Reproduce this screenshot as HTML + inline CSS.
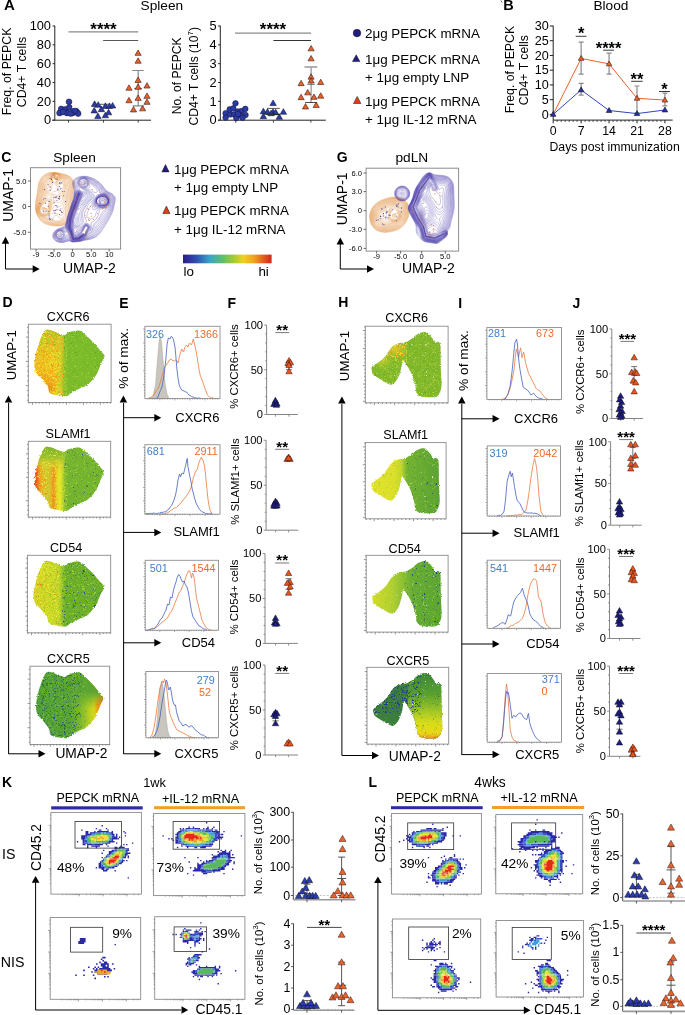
<!DOCTYPE html>
<html><head><meta charset="utf-8"><style>
html,body{margin:0;padding:0;background:#fff;}
svg{display:block;font-family:"Liberation Sans", sans-serif;will-change:transform;}
</style></head><body>
<svg width="685" height="1015" viewBox="0 0 685 1015">
<defs><linearGradient id="jet" x1="0" x2="1" y1="0" y2="0"><stop offset="0" stop-color="#2e1a8a"/><stop offset="0.15" stop-color="#2f4fb0"/><stop offset="0.3" stop-color="#3aa3c8"/><stop offset="0.45" stop-color="#5fbf6a"/><stop offset="0.58" stop-color="#a8cc30"/><stop offset="0.68" stop-color="#f0d21e"/><stop offset="0.8" stop-color="#f0a21e"/><stop offset="0.9" stop-color="#e8601e"/><stop offset="1" stop-color="#d42418"/></linearGradient><linearGradient id="lg1" gradientUnits="userSpaceOnUse" x1="34.0" y1="0.0" x2="105.0" y2="0.0"><stop offset="0.000" stop-color="#eebc20"/><stop offset="0.225" stop-color="#eccc20"/><stop offset="0.324" stop-color="#e4d424"/><stop offset="0.380" stop-color="#ccd028"/><stop offset="0.423" stop-color="#94c02a"/><stop offset="0.479" stop-color="#7cbc2c"/><stop offset="1.000" stop-color="#7aba2c"/></linearGradient><linearGradient id="la2" gradientUnits="userSpaceOnUse" x1="0.0" y1="330.0" x2="0.0" y2="396.0"><stop offset="0.000" stop-color="#b8c62a" stop-opacity="1"/><stop offset="0.250" stop-color="#d8c826" stop-opacity="0.8"/><stop offset="0.500" stop-color="#e0c826" stop-opacity="0"/><stop offset="1.000" stop-color="#e0c826" stop-opacity="0"/></linearGradient><radialGradient id="rg3" gradientUnits="userSpaceOnUse" cx="46.0" cy="382.0" r="13" gradientTransform="translate(46.0 382.0) scale(1 1.1538461538461537) translate(-46.0 -382.0)"><stop offset="0" stop-color="#ec7a1a" stop-opacity="0.55"/><stop offset="1" stop-color="#ec7a1a" stop-opacity="0"/></radialGradient><radialGradient id="rg4" gradientUnits="userSpaceOnUse" cx="50.0" cy="389.0" r="7" gradientTransform="translate(50.0 389.0) scale(1 0.8571428571428571) translate(-50.0 -389.0)"><stop offset="0" stop-color="#e65018" stop-opacity="0.55"/><stop offset="1" stop-color="#e65018" stop-opacity="0"/></radialGradient><clipPath id="cp5"><path d="M46.0 330.2C47.5 329.3 49.3 330.0 51.3 330.5C53.3 331.0 55.6 332.3 57.8 333.1C60.0 333.9 62.6 335.2 64.4 335.1C66.2 335.0 66.2 333.3 68.4 332.5C70.6 331.7 75.2 330.5 77.6 330.5C80.0 330.5 80.2 330.5 82.8 332.5C85.4 334.5 90.4 339.4 93.3 342.3C96.2 345.2 98.0 347.9 99.9 350.2C101.8 352.5 104.3 353.9 104.5 356.1C104.7 358.3 102.6 360.2 101.2 363.4C99.8 366.6 98.2 371.7 96.0 375.2C93.8 378.7 90.7 382.2 88.1 384.4C85.5 386.6 82.8 387.0 80.2 388.3C77.6 389.6 74.5 391.0 72.3 392.3C70.1 393.6 69.2 395.4 67.0 395.9C64.8 396.4 62.0 396.0 59.2 395.5C56.4 395.0 51.9 394.3 50.0 392.9C48.1 391.5 49.3 389.3 48.0 387.0C46.7 384.7 44.1 381.5 42.1 379.1C40.1 376.7 37.5 375.0 36.2 372.6C34.9 370.2 34.6 367.3 34.5 364.7C34.4 362.1 34.9 359.9 35.5 356.8C36.1 353.7 37.0 349.8 38.1 346.3C39.2 342.8 40.8 338.5 42.1 335.8C43.4 333.1 44.5 331.1 46.0 330.2Z"/></clipPath><filter id="rough" x="-5%" y="-5%" width="110%" height="110%"><feTurbulence type="fractalNoise" baseFrequency="0.9" numOctaves="1" seed="4" result="t"/><feDisplacementMap in="SourceGraphic" in2="t" scale="3" xChannelSelector="R" yChannelSelector="G"/></filter><filter id="sp6" x="0" y="0" width="1" height="1" filterUnits="objectBoundingBox"><feTurbulence type="fractalNoise" baseFrequency="0.9" numOctaves="2" seed="3" result="n"/><feColorMatrix in="n" type="matrix" values="0 0 0 0 0  0 0 0 0 0  0 0 0 0 0  8 0 0 0 -4.16" result="a"/><feComposite in="SourceGraphic" in2="a" operator="in"/></filter><filter id="sp7" x="0" y="0" width="1" height="1" filterUnits="objectBoundingBox"><feTurbulence type="fractalNoise" baseFrequency="0.9" numOctaves="2" seed="4" result="n"/><feColorMatrix in="n" type="matrix" values="0 0 0 0 0  0 0 0 0 0  0 0 0 0 0  8 0 0 0 -5.60" result="a"/><feComposite in="SourceGraphic" in2="a" operator="in"/></filter><filter id="sp8" x="0" y="0" width="1" height="1" filterUnits="objectBoundingBox"><feTurbulence type="fractalNoise" baseFrequency="0.9" numOctaves="2" seed="5" result="n"/><feColorMatrix in="n" type="matrix" values="0 0 0 0 0  0 0 0 0 0  0 0 0 0 0  8 0 0 0 -4.48" result="a"/><feComposite in="SourceGraphic" in2="a" operator="in"/></filter><filter id="sp9" x="0" y="0" width="1" height="1" filterUnits="objectBoundingBox"><feTurbulence type="fractalNoise" baseFrequency="0.9" numOctaves="2" seed="6" result="n"/><feColorMatrix in="n" type="matrix" values="0 0 0 0 0  0 0 0 0 0  0 0 0 0 0  8 0 0 0 -4.48" result="a"/><feComposite in="SourceGraphic" in2="a" operator="in"/></filter><filter id="sp10" x="0" y="0" width="1" height="1" filterUnits="objectBoundingBox"><feTurbulence type="fractalNoise" baseFrequency="0.9" numOctaves="2" seed="7" result="n"/><feColorMatrix in="n" type="matrix" values="0 0 0 0 0  0 0 0 0 0  0 0 0 0 0  8 0 0 0 -4.80" result="a"/><feComposite in="SourceGraphic" in2="a" operator="in"/></filter><filter id="sp11" x="0" y="0" width="1" height="1" filterUnits="objectBoundingBox"><feTurbulence type="fractalNoise" baseFrequency="0.9" numOctaves="2" seed="13" result="n"/><feColorMatrix in="n" type="matrix" values="0 0 0 0 0  0 0 0 0 0  0 0 0 0 0  8 0 0 0 -5.12" result="a"/><feComposite in="SourceGraphic" in2="a" operator="in"/></filter><filter id="sp12" x="0" y="0" width="1" height="1" filterUnits="objectBoundingBox"><feTurbulence type="fractalNoise" baseFrequency="0.9" numOctaves="2" seed="11" result="n"/><feColorMatrix in="n" type="matrix" values="0 0 0 0 0  0 0 0 0 0  0 0 0 0 0  8 0 0 0 -4.96" result="a"/><feComposite in="SourceGraphic" in2="a" operator="in"/></filter><filter id="sp13" x="0" y="0" width="1" height="1" filterUnits="objectBoundingBox"><feTurbulence type="fractalNoise" baseFrequency="1.1" numOctaves="2" seed="97" result="n"/><feColorMatrix in="n" type="matrix" values="0 0 0 0 0  0 0 0 0 0  0 0 0 0 0  8 0 0 0 -7.14" result="a"/><feComposite in="SourceGraphic" in2="a" operator="in"/></filter><linearGradient id="lg14" gradientUnits="userSpaceOnUse" x1="34.0" y1="0.0" x2="104.6" y2="0.0"><stop offset="0.000" stop-color="#e84010"/><stop offset="0.042" stop-color="#f06018"/><stop offset="0.085" stop-color="#f0a020"/><stop offset="0.141" stop-color="#d8c828"/><stop offset="0.197" stop-color="#c4cc2c"/><stop offset="0.239" stop-color="#e0b828"/><stop offset="0.282" stop-color="#ec9020"/><stop offset="0.324" stop-color="#e8d820"/><stop offset="0.366" stop-color="#e4ec28"/><stop offset="0.408" stop-color="#c0d82c"/><stop offset="0.444" stop-color="#80b82e"/><stop offset="0.507" stop-color="#74b42e"/><stop offset="1.000" stop-color="#74b42e"/></linearGradient><linearGradient id="la15" gradientUnits="userSpaceOnUse" x1="0.0" y1="445.0" x2="0.0" y2="472.1"><stop offset="0.000" stop-color="#76b02e" stop-opacity="1"/><stop offset="0.450" stop-color="#9cc22c" stop-opacity="1"/><stop offset="0.700" stop-color="#c8cc2a" stop-opacity="0.7"/><stop offset="1.000" stop-color="#e0c828" stop-opacity="0"/></linearGradient><clipPath id="cp16"><path d="M45.9 447.1C47.4 446.3 49.2 446.9 51.2 447.4C53.1 447.9 55.5 449.2 57.7 449.9C59.8 450.7 62.5 451.9 64.2 451.9C66.0 451.8 66.0 450.1 68.2 449.3C70.4 448.6 75.0 447.4 77.4 447.4C79.8 447.4 79.9 447.4 82.5 449.3C85.1 451.2 90.1 456.0 93.0 458.8C95.8 461.7 97.7 464.2 99.6 466.5C101.4 468.7 103.9 470.1 104.1 472.2C104.3 474.3 102.3 476.2 100.8 479.2C99.4 482.3 97.8 487.3 95.7 490.7C93.5 494.1 90.4 497.5 87.8 499.6C85.2 501.7 82.6 502.1 79.9 503.4C77.3 504.6 74.3 506.0 72.1 507.2C69.9 508.5 69.0 510.2 66.8 510.7C64.6 511.2 61.9 510.8 59.1 510.3C56.2 509.8 51.8 509.2 49.9 507.8C48.0 506.4 49.2 504.3 47.9 502.1C46.6 499.9 44.0 496.8 42.0 494.4C40.1 492.1 37.4 490.5 36.2 488.2C34.9 485.8 34.6 483.1 34.5 480.5C34.4 478.0 34.9 475.8 35.5 472.9C36.1 469.9 37.0 466.1 38.1 462.7C39.1 459.3 40.7 455.1 42.0 452.5C43.3 449.9 44.4 448.0 45.9 447.1Z"/></clipPath><filter id="sp17" x="0" y="0" width="1" height="1" filterUnits="objectBoundingBox"><feTurbulence type="fractalNoise" baseFrequency="0.9" numOctaves="2" seed="3" result="n"/><feColorMatrix in="n" type="matrix" values="0 0 0 0 0  0 0 0 0 0  0 0 0 0 0  8 0 0 0 -4.64" result="a"/><feComposite in="SourceGraphic" in2="a" operator="in"/></filter><filter id="sp18" x="0" y="0" width="1" height="1" filterUnits="objectBoundingBox"><feTurbulence type="fractalNoise" baseFrequency="0.9" numOctaves="2" seed="4" result="n"/><feColorMatrix in="n" type="matrix" values="0 0 0 0 0  0 0 0 0 0  0 0 0 0 0  8 0 0 0 -4.80" result="a"/><feComposite in="SourceGraphic" in2="a" operator="in"/></filter><filter id="sp19" x="0" y="0" width="1" height="1" filterUnits="objectBoundingBox"><feTurbulence type="fractalNoise" baseFrequency="0.9" numOctaves="2" seed="9" result="n"/><feColorMatrix in="n" type="matrix" values="0 0 0 0 0  0 0 0 0 0  0 0 0 0 0  8 0 0 0 -5.60" result="a"/><feComposite in="SourceGraphic" in2="a" operator="in"/></filter><filter id="sp20" x="0" y="0" width="1" height="1" filterUnits="objectBoundingBox"><feTurbulence type="fractalNoise" baseFrequency="0.9" numOctaves="2" seed="7" result="n"/><feColorMatrix in="n" type="matrix" values="0 0 0 0 0  0 0 0 0 0  0 0 0 0 0  8 0 0 0 -4.80" result="a"/><feComposite in="SourceGraphic" in2="a" operator="in"/></filter><filter id="sp21" x="0" y="0" width="1" height="1" filterUnits="objectBoundingBox"><feTurbulence type="fractalNoise" baseFrequency="0.9" numOctaves="2" seed="13" result="n"/><feColorMatrix in="n" type="matrix" values="0 0 0 0 0  0 0 0 0 0  0 0 0 0 0  8 0 0 0 -5.12" result="a"/><feComposite in="SourceGraphic" in2="a" operator="in"/></filter><filter id="sp22" x="0" y="0" width="1" height="1" filterUnits="objectBoundingBox"><feTurbulence type="fractalNoise" baseFrequency="0.9" numOctaves="2" seed="6" result="n"/><feColorMatrix in="n" type="matrix" values="0 0 0 0 0  0 0 0 0 0  0 0 0 0 0  8 0 0 0 -4.80" result="a"/><feComposite in="SourceGraphic" in2="a" operator="in"/></filter><filter id="sp23" x="0" y="0" width="1" height="1" filterUnits="objectBoundingBox"><feTurbulence type="fractalNoise" baseFrequency="0.9" numOctaves="2" seed="12" result="n"/><feColorMatrix in="n" type="matrix" values="0 0 0 0 0  0 0 0 0 0  0 0 0 0 0  8 0 0 0 -5.60" result="a"/><feComposite in="SourceGraphic" in2="a" operator="in"/></filter><filter id="sp24" x="0" y="0" width="1" height="1" filterUnits="objectBoundingBox"><feTurbulence type="fractalNoise" baseFrequency="1.1" numOctaves="2" seed="97" result="n"/><feColorMatrix in="n" type="matrix" values="0 0 0 0 0  0 0 0 0 0  0 0 0 0 0  8 0 0 0 -7.14" result="a"/><feComposite in="SourceGraphic" in2="a" operator="in"/></filter><linearGradient id="lg25" gradientUnits="userSpaceOnUse" x1="33.1" y1="0.0" x2="104.6" y2="0.0"><stop offset="0.000" stop-color="#d8d424"/><stop offset="0.225" stop-color="#cada24"/><stop offset="0.352" stop-color="#c0d82a"/><stop offset="0.408" stop-color="#94c42a"/><stop offset="0.451" stop-color="#6cb02c"/><stop offset="1.000" stop-color="#6cb02c"/></linearGradient><clipPath id="cp26"><path d="M45.2 561.2C46.7 560.4 48.6 561.1 50.5 561.5C52.5 562.0 54.9 563.4 57.1 564.1C59.3 564.9 61.9 566.2 63.7 566.1C65.5 566.0 65.5 564.3 67.7 563.5C70.0 562.8 74.6 561.5 77.0 561.5C79.4 561.5 79.6 561.6 82.2 563.5C84.9 565.5 89.9 570.3 92.8 573.2C95.7 576.1 97.6 578.8 99.4 581.0C101.3 583.3 103.8 584.7 104.1 586.9C104.3 589.1 102.2 590.9 100.7 594.1C99.3 597.3 97.7 602.3 95.5 605.8C93.3 609.2 90.2 612.7 87.6 614.9C84.9 617.0 82.3 617.4 79.6 618.7C77.0 620.0 73.9 621.5 71.7 622.7C69.5 624.0 68.5 625.7 66.3 626.3C64.1 626.8 61.3 626.4 58.5 625.9C55.6 625.4 51.1 624.7 49.2 623.3C47.4 621.9 48.5 619.7 47.2 617.5C45.9 615.2 43.3 612.0 41.3 609.6C39.3 607.3 36.6 605.6 35.3 603.2C34.1 600.8 33.8 598.0 33.6 595.4C33.5 592.8 34.0 590.6 34.6 587.6C35.2 584.5 36.2 580.6 37.3 577.2C38.4 573.7 40.0 569.4 41.3 566.8C42.6 564.1 43.7 562.1 45.2 561.2Z"/></clipPath><filter id="sp27" x="0" y="0" width="1" height="1" filterUnits="objectBoundingBox"><feTurbulence type="fractalNoise" baseFrequency="0.9" numOctaves="2" seed="3" result="n"/><feColorMatrix in="n" type="matrix" values="0 0 0 0 0  0 0 0 0 0  0 0 0 0 0  8 0 0 0 -5.12" result="a"/><feComposite in="SourceGraphic" in2="a" operator="in"/></filter><filter id="sp28" x="0" y="0" width="1" height="1" filterUnits="objectBoundingBox"><feTurbulence type="fractalNoise" baseFrequency="0.9" numOctaves="2" seed="5" result="n"/><feColorMatrix in="n" type="matrix" values="0 0 0 0 0  0 0 0 0 0  0 0 0 0 0  8 0 0 0 -4.48" result="a"/><feComposite in="SourceGraphic" in2="a" operator="in"/></filter><filter id="sp29" x="0" y="0" width="1" height="1" filterUnits="objectBoundingBox"><feTurbulence type="fractalNoise" baseFrequency="0.9" numOctaves="2" seed="4" result="n"/><feColorMatrix in="n" type="matrix" values="0 0 0 0 0  0 0 0 0 0  0 0 0 0 0  8 0 0 0 -4.64" result="a"/><feComposite in="SourceGraphic" in2="a" operator="in"/></filter><filter id="sp30" x="0" y="0" width="1" height="1" filterUnits="objectBoundingBox"><feTurbulence type="fractalNoise" baseFrequency="0.9" numOctaves="2" seed="9" result="n"/><feColorMatrix in="n" type="matrix" values="0 0 0 0 0  0 0 0 0 0  0 0 0 0 0  8 0 0 0 -5.12" result="a"/><feComposite in="SourceGraphic" in2="a" operator="in"/></filter><filter id="sp31" x="0" y="0" width="1" height="1" filterUnits="objectBoundingBox"><feTurbulence type="fractalNoise" baseFrequency="0.9" numOctaves="2" seed="7" result="n"/><feColorMatrix in="n" type="matrix" values="0 0 0 0 0  0 0 0 0 0  0 0 0 0 0  8 0 0 0 -4.80" result="a"/><feComposite in="SourceGraphic" in2="a" operator="in"/></filter><filter id="sp32" x="0" y="0" width="1" height="1" filterUnits="objectBoundingBox"><feTurbulence type="fractalNoise" baseFrequency="0.9" numOctaves="2" seed="13" result="n"/><feColorMatrix in="n" type="matrix" values="0 0 0 0 0  0 0 0 0 0  0 0 0 0 0  8 0 0 0 -4.96" result="a"/><feComposite in="SourceGraphic" in2="a" operator="in"/></filter><filter id="sp33" x="0" y="0" width="1" height="1" filterUnits="objectBoundingBox"><feTurbulence type="fractalNoise" baseFrequency="1.1" numOctaves="2" seed="97" result="n"/><feColorMatrix in="n" type="matrix" values="0 0 0 0 0  0 0 0 0 0  0 0 0 0 0  8 0 0 0 -7.14" result="a"/><feComposite in="SourceGraphic" in2="a" operator="in"/></filter><linearGradient id="lg34" gradientUnits="userSpaceOnUse" x1="35.5" y1="0.0" x2="103.8" y2="0.0"><stop offset="0.000" stop-color="#50a036"/><stop offset="0.507" stop-color="#58a432"/><stop offset="0.648" stop-color="#7cb82c"/><stop offset="0.789" stop-color="#b8d022"/><stop offset="0.873" stop-color="#dcdc1a"/><stop offset="0.944" stop-color="#e8c018"/><stop offset="1.000" stop-color="#f07014"/></linearGradient><linearGradient id="la35" gradientUnits="userSpaceOnUse" x1="0.0" y1="672.0" x2="0.0" y2="738.0"><stop offset="0.000" stop-color="#5aa432" stop-opacity="1"/><stop offset="0.300" stop-color="#5aa432" stop-opacity="1"/><stop offset="0.550" stop-color="#5aa432" stop-opacity="0"/><stop offset="1.000" stop-color="#5aa432" stop-opacity="0"/></linearGradient><radialGradient id="rg36" gradientUnits="userSpaceOnUse" cx="101.90326086956522" cy="708.0" r="9" gradientTransform="translate(101.90326086956522 708.0) scale(1 1.5555555555555556) translate(-101.90326086956522 -708.0)"><stop offset="0" stop-color="#f07014" stop-opacity="0.9"/><stop offset="1" stop-color="#f07014" stop-opacity="0"/></radialGradient><clipPath id="cp37"><path d="M47.0 672.2C48.5 671.3 50.2 672.0 52.1 672.5C54.0 673.0 56.3 674.3 58.4 675.1C60.5 675.9 63.0 677.2 64.7 677.1C66.4 677.0 66.5 675.3 68.6 674.5C70.7 673.7 75.1 672.5 77.5 672.5C79.8 672.5 79.9 672.5 82.5 674.5C85.0 676.5 89.8 681.4 92.6 684.3C95.3 687.3 97.1 689.9 98.9 692.2C100.7 694.5 103.1 695.9 103.3 698.1C103.6 700.3 101.5 702.2 100.2 705.4C98.8 708.6 97.3 713.7 95.2 717.2C93.1 720.7 90.1 724.2 87.6 726.4C85.0 728.6 82.5 729.0 80.0 730.3C77.4 731.6 74.5 733.0 72.4 734.3C70.2 735.6 69.4 737.4 67.3 737.9C65.1 738.4 62.5 738.0 59.7 737.5C57.0 737.0 52.7 736.3 50.9 734.9C49.1 733.5 50.2 731.3 49.0 729.0C47.7 726.7 45.2 723.5 43.3 721.1C41.4 718.7 38.8 717.0 37.6 714.6C36.4 712.2 36.1 709.3 36.0 706.7C35.9 704.1 36.4 701.9 36.9 698.8C37.5 695.7 38.4 691.8 39.4 688.3C40.5 684.8 42.0 680.5 43.3 677.8C44.6 675.1 45.6 673.1 47.0 672.2Z"/></clipPath><filter id="sp38" x="0" y="0" width="1" height="1" filterUnits="objectBoundingBox"><feTurbulence type="fractalNoise" baseFrequency="0.9" numOctaves="2" seed="3" result="n"/><feColorMatrix in="n" type="matrix" values="0 0 0 0 0  0 0 0 0 0  0 0 0 0 0  8 0 0 0 -5.12" result="a"/><feComposite in="SourceGraphic" in2="a" operator="in"/></filter><filter id="sp39" x="0" y="0" width="1" height="1" filterUnits="objectBoundingBox"><feTurbulence type="fractalNoise" baseFrequency="0.9" numOctaves="2" seed="5" result="n"/><feColorMatrix in="n" type="matrix" values="0 0 0 0 0  0 0 0 0 0  0 0 0 0 0  8 0 0 0 -4.64" result="a"/><feComposite in="SourceGraphic" in2="a" operator="in"/></filter><filter id="sp40" x="0" y="0" width="1" height="1" filterUnits="objectBoundingBox"><feTurbulence type="fractalNoise" baseFrequency="0.9" numOctaves="2" seed="6" result="n"/><feColorMatrix in="n" type="matrix" values="0 0 0 0 0  0 0 0 0 0  0 0 0 0 0  8 0 0 0 -4.80" result="a"/><feComposite in="SourceGraphic" in2="a" operator="in"/></filter><filter id="sp41" x="0" y="0" width="1" height="1" filterUnits="objectBoundingBox"><feTurbulence type="fractalNoise" baseFrequency="0.9" numOctaves="2" seed="8" result="n"/><feColorMatrix in="n" type="matrix" values="0 0 0 0 0  0 0 0 0 0  0 0 0 0 0  8 0 0 0 -5.44" result="a"/><feComposite in="SourceGraphic" in2="a" operator="in"/></filter><filter id="sp42" x="0" y="0" width="1" height="1" filterUnits="objectBoundingBox"><feTurbulence type="fractalNoise" baseFrequency="1.1" numOctaves="2" seed="97" result="n"/><feColorMatrix in="n" type="matrix" values="0 0 0 0 0  0 0 0 0 0  0 0 0 0 0  8 0 0 0 -7.14" result="a"/><feComposite in="SourceGraphic" in2="a" operator="in"/></filter><radialGradient id="rg43" gradientUnits="userSpaceOnUse" cx="395.0" cy="349.0" r="13" gradientTransform="translate(395.0 349.0) scale(1 0.6923076923076923) translate(-395.0 -349.0)"><stop offset="0" stop-color="#ecc824" stop-opacity="1.0"/><stop offset="1" stop-color="#ecc824" stop-opacity="0"/></radialGradient><radialGradient id="rg44" gradientUnits="userSpaceOnUse" cx="383.0" cy="362.0" r="9"><stop offset="0" stop-color="#c8d028" stop-opacity="0.7"/><stop offset="1" stop-color="#c8d028" stop-opacity="0"/></radialGradient><clipPath id="cp45"><path d="M372.0 367.0C373.0 365.7 376.4 363.9 378.0 362.7C379.6 361.5 380.4 361.1 381.7 360.0C383.0 358.9 384.1 357.9 385.7 356.0C387.2 354.1 389.4 350.1 391.0 348.3C392.6 346.5 393.5 345.9 395.0 345.0C396.5 344.1 398.3 343.4 400.0 343.0C401.7 342.6 403.5 342.9 405.0 342.5C406.5 342.1 407.7 341.3 409.0 340.5C410.3 339.7 411.7 338.8 413.0 337.8C414.3 336.8 415.8 335.3 417.0 334.5C418.2 333.7 418.8 333.4 420.0 333.0C421.2 332.6 422.7 331.9 424.0 331.9C425.3 331.9 426.5 332.0 428.0 333.2C429.5 334.4 431.7 337.5 433.0 339.1C434.3 340.7 434.9 342.6 435.6 343.0C436.4 343.4 436.7 341.5 437.5 341.7C438.3 341.9 439.7 342.1 440.2 344.3C440.7 346.5 440.5 350.9 440.6 354.8C440.7 358.8 440.7 362.9 440.8 368.0C440.9 373.1 441.7 380.9 441.5 385.1C441.3 389.3 440.5 391.0 439.5 393.0C438.5 395.0 438.2 396.2 435.6 396.9C433.0 397.5 426.9 397.3 423.8 396.9C420.7 396.5 418.6 396.3 417.2 394.3C415.8 392.3 416.1 388.4 415.2 385.1C414.3 381.8 413.1 377.6 411.9 374.6C410.7 371.6 409.2 369.1 408.0 367.0C406.8 364.9 405.4 363.2 404.5 362.0C403.6 360.8 403.2 359.2 402.7 360.0C402.2 360.8 401.8 364.7 401.4 366.7C401.0 368.7 400.8 369.9 400.1 371.9C399.5 373.9 398.8 376.4 397.5 378.5C396.2 380.6 394.2 383.8 392.2 384.4C390.2 385.0 387.9 383.4 385.7 382.4C383.5 381.4 381.2 379.8 379.1 378.5C377.0 377.2 374.4 375.9 373.2 374.6C372.0 373.3 372.1 371.9 371.9 370.6C371.7 369.3 371.0 368.3 372.0 367.0Z"/></clipPath><filter id="sp46" x="0" y="0" width="1" height="1" filterUnits="objectBoundingBox"><feTurbulence type="fractalNoise" baseFrequency="0.9" numOctaves="2" seed="3" result="n"/><feColorMatrix in="n" type="matrix" values="0 0 0 0 0  0 0 0 0 0  0 0 0 0 0  8 0 0 0 -4.64" result="a"/><feComposite in="SourceGraphic" in2="a" operator="in"/></filter><filter id="sp47" x="0" y="0" width="1" height="1" filterUnits="objectBoundingBox"><feTurbulence type="fractalNoise" baseFrequency="0.9" numOctaves="2" seed="13" result="n"/><feColorMatrix in="n" type="matrix" values="0 0 0 0 0  0 0 0 0 0  0 0 0 0 0  8 0 0 0 -4.96" result="a"/><feComposite in="SourceGraphic" in2="a" operator="in"/></filter><filter id="sp48" x="0" y="0" width="1" height="1" filterUnits="objectBoundingBox"><feTurbulence type="fractalNoise" baseFrequency="0.9" numOctaves="2" seed="14" result="n"/><feColorMatrix in="n" type="matrix" values="0 0 0 0 0  0 0 0 0 0  0 0 0 0 0  8 0 0 0 -5.12" result="a"/><feComposite in="SourceGraphic" in2="a" operator="in"/></filter><filter id="sp49" x="0" y="0" width="1" height="1" filterUnits="objectBoundingBox"><feTurbulence type="fractalNoise" baseFrequency="0.9" numOctaves="2" seed="15" result="n"/><feColorMatrix in="n" type="matrix" values="0 0 0 0 0  0 0 0 0 0  0 0 0 0 0  8 0 0 0 -4.48" result="a"/><feComposite in="SourceGraphic" in2="a" operator="in"/></filter><filter id="sp50" x="0" y="0" width="1" height="1" filterUnits="objectBoundingBox"><feTurbulence type="fractalNoise" baseFrequency="0.9" numOctaves="2" seed="5" result="n"/><feColorMatrix in="n" type="matrix" values="0 0 0 0 0  0 0 0 0 0  0 0 0 0 0  8 0 0 0 -4.80" result="a"/><feComposite in="SourceGraphic" in2="a" operator="in"/></filter><filter id="sp51" x="0" y="0" width="1" height="1" filterUnits="objectBoundingBox"><feTurbulence type="fractalNoise" baseFrequency="0.9" numOctaves="2" seed="6" result="n"/><feColorMatrix in="n" type="matrix" values="0 0 0 0 0  0 0 0 0 0  0 0 0 0 0  8 0 0 0 -5.76" result="a"/><feComposite in="SourceGraphic" in2="a" operator="in"/></filter><filter id="sp52" x="0" y="0" width="1" height="1" filterUnits="objectBoundingBox"><feTurbulence type="fractalNoise" baseFrequency="0.9" numOctaves="2" seed="9" result="n"/><feColorMatrix in="n" type="matrix" values="0 0 0 0 0  0 0 0 0 0  0 0 0 0 0  8 0 0 0 -7.20" result="a"/><feComposite in="SourceGraphic" in2="a" operator="in"/></filter><filter id="sp53" x="0" y="0" width="1" height="1" filterUnits="objectBoundingBox"><feTurbulence type="fractalNoise" baseFrequency="0.9" numOctaves="2" seed="4" result="n"/><feColorMatrix in="n" type="matrix" values="0 0 0 0 0  0 0 0 0 0  0 0 0 0 0  8 0 0 0 -5.28" result="a"/><feComposite in="SourceGraphic" in2="a" operator="in"/></filter><filter id="sp54" x="0" y="0" width="1" height="1" filterUnits="objectBoundingBox"><feTurbulence type="fractalNoise" baseFrequency="1.1" numOctaves="2" seed="97" result="n"/><feColorMatrix in="n" type="matrix" values="0 0 0 0 0  0 0 0 0 0  0 0 0 0 0  8 0 0 0 -5.84" result="a"/><feComposite in="SourceGraphic" in2="a" operator="in"/></filter><linearGradient id="lg55" gradientUnits="userSpaceOnUse" x1="369.9" y1="0.0" x2="439.2" y2="0.0"><stop offset="0.000" stop-color="#e4e22c"/><stop offset="0.352" stop-color="#dce02a"/><stop offset="0.451" stop-color="#c4d82a"/><stop offset="0.535" stop-color="#72b230"/><stop offset="1.000" stop-color="#5aa232"/></linearGradient><clipPath id="cp56"><path d="M371.8 483.2C372.8 481.9 376.1 480.1 377.7 478.9C379.3 477.7 380.1 477.3 381.3 476.2C382.6 475.1 383.7 474.2 385.2 472.2C386.7 470.3 388.9 466.4 390.4 464.6C391.9 462.8 392.8 462.2 394.3 461.3C395.7 460.4 397.5 459.7 399.2 459.3C400.8 458.9 402.6 459.2 404.0 458.8C405.5 458.4 406.6 457.6 407.9 456.8C409.2 456.0 410.5 455.1 411.8 454.1C413.1 453.1 414.6 451.7 415.8 450.9C416.9 450.1 417.5 449.8 418.7 449.4C419.8 448.9 421.3 448.2 422.6 448.3C423.9 448.3 425.0 448.4 426.5 449.6C427.9 450.8 430.1 453.8 431.4 455.4C432.6 457.1 433.2 458.9 433.9 459.3C434.6 459.7 435.0 457.8 435.8 458.0C436.5 458.2 437.9 458.4 438.4 460.6C438.9 462.8 438.7 467.1 438.8 471.1C438.9 475.0 438.8 479.2 439.0 484.2C439.1 489.2 439.9 497.0 439.7 501.2C439.4 505.3 438.7 507.1 437.7 509.1C436.7 511.0 436.5 512.3 433.9 512.9C431.3 513.6 425.4 513.4 422.4 512.9C419.4 512.5 417.3 512.3 415.9 510.3C414.5 508.4 414.9 504.5 414.0 501.2C413.1 497.9 411.9 493.7 410.8 490.7C409.6 487.7 408.2 485.3 407.0 483.2C405.8 481.1 404.4 479.4 403.6 478.2C402.7 477.1 402.3 475.4 401.8 476.2C401.3 477.0 401.0 480.9 400.5 482.9C400.1 484.9 399.9 486.1 399.3 488.1C398.6 490.0 398.0 492.6 396.7 494.6C395.4 496.7 393.5 499.8 391.6 500.5C389.6 501.1 387.3 499.5 385.2 498.5C383.1 497.5 380.8 495.9 378.8 494.6C376.7 493.3 374.2 492.1 373.0 490.7C371.8 489.4 371.9 488.0 371.7 486.8C371.5 485.5 370.8 484.5 371.8 483.2Z"/></clipPath><filter id="sp57" x="0" y="0" width="1" height="1" filterUnits="objectBoundingBox"><feTurbulence type="fractalNoise" baseFrequency="0.9" numOctaves="2" seed="3" result="n"/><feColorMatrix in="n" type="matrix" values="0 0 0 0 0  0 0 0 0 0  0 0 0 0 0  8 0 0 0 -5.92" result="a"/><feComposite in="SourceGraphic" in2="a" operator="in"/></filter><filter id="sp58" x="0" y="0" width="1" height="1" filterUnits="objectBoundingBox"><feTurbulence type="fractalNoise" baseFrequency="0.9" numOctaves="2" seed="9" result="n"/><feColorMatrix in="n" type="matrix" values="0 0 0 0 0  0 0 0 0 0  0 0 0 0 0  8 0 0 0 -5.60" result="a"/><feComposite in="SourceGraphic" in2="a" operator="in"/></filter><filter id="sp59" x="0" y="0" width="1" height="1" filterUnits="objectBoundingBox"><feTurbulence type="fractalNoise" baseFrequency="0.9" numOctaves="2" seed="7" result="n"/><feColorMatrix in="n" type="matrix" values="0 0 0 0 0  0 0 0 0 0  0 0 0 0 0  8 0 0 0 -5.12" result="a"/><feComposite in="SourceGraphic" in2="a" operator="in"/></filter><filter id="sp60" x="0" y="0" width="1" height="1" filterUnits="objectBoundingBox"><feTurbulence type="fractalNoise" baseFrequency="0.9" numOctaves="2" seed="5" result="n"/><feColorMatrix in="n" type="matrix" values="0 0 0 0 0  0 0 0 0 0  0 0 0 0 0  8 0 0 0 -4.96" result="a"/><feComposite in="SourceGraphic" in2="a" operator="in"/></filter><filter id="sp61" x="0" y="0" width="1" height="1" filterUnits="objectBoundingBox"><feTurbulence type="fractalNoise" baseFrequency="1.1" numOctaves="2" seed="97" result="n"/><feColorMatrix in="n" type="matrix" values="0 0 0 0 0  0 0 0 0 0  0 0 0 0 0  8 0 0 0 -5.84" result="a"/><feComposite in="SourceGraphic" in2="a" operator="in"/></filter><linearGradient id="lg62" gradientUnits="userSpaceOnUse" x1="370.8" y1="0.0" x2="441.1" y2="0.0"><stop offset="0.000" stop-color="#d4dc2c"/><stop offset="0.310" stop-color="#b0d030"/><stop offset="0.479" stop-color="#84bc30"/><stop offset="0.592" stop-color="#66ac30"/><stop offset="1.000" stop-color="#5aa630"/></linearGradient><clipPath id="cp63"><path d="M372.8 596.2C373.8 594.9 377.2 593.1 378.8 591.9C380.4 590.7 381.2 590.3 382.4 589.2C383.7 588.1 384.8 587.1 386.4 585.2C387.9 583.2 390.1 579.3 391.6 577.5C393.2 575.6 394.1 575.0 395.6 574.1C397.1 573.3 398.9 572.6 400.5 572.1C402.2 571.7 404.0 572.1 405.5 571.6C407.0 571.2 408.1 570.4 409.4 569.6C410.7 568.9 412.1 567.9 413.4 566.9C414.7 565.9 416.2 564.4 417.3 563.6C418.5 562.8 419.2 562.6 420.3 562.1C421.5 561.7 422.9 561.0 424.3 561.0C425.6 561.0 426.7 561.1 428.2 562.3C429.7 563.5 431.9 566.6 433.2 568.2C434.4 569.9 435.0 571.7 435.7 572.1C436.5 572.6 436.9 570.6 437.6 570.8C438.4 571.1 439.8 571.3 440.3 573.4C440.8 575.6 440.6 580.0 440.7 584.0C440.8 587.9 440.7 592.1 440.9 597.2C441.0 602.3 441.8 610.2 441.6 614.4C441.4 618.5 440.6 620.3 439.6 622.3C438.6 624.2 438.3 625.5 435.7 626.2C433.1 626.8 427.1 626.6 424.1 626.2C421.0 625.8 419.0 625.5 417.5 623.6C416.1 621.6 416.4 617.6 415.6 614.4C414.7 611.1 413.5 606.9 412.3 603.8C411.1 600.8 409.7 598.3 408.4 596.2C407.2 594.1 405.8 592.4 405.0 591.2C404.1 590.0 403.7 588.4 403.2 589.2C402.7 590.0 402.3 593.9 401.9 595.9C401.5 597.9 401.3 599.1 400.6 601.1C400.0 603.1 399.4 605.6 398.1 607.7C396.7 609.8 394.8 613.0 392.8 613.7C390.9 614.3 388.5 612.6 386.4 611.6C384.2 610.7 381.9 609.0 379.9 607.7C377.8 606.4 375.2 605.1 374.0 603.8C372.8 602.5 372.9 601.1 372.7 599.8C372.5 598.5 371.8 597.5 372.8 596.2Z"/></clipPath><filter id="sp64" x="0" y="0" width="1" height="1" filterUnits="objectBoundingBox"><feTurbulence type="fractalNoise" baseFrequency="0.9" numOctaves="2" seed="9" result="n"/><feColorMatrix in="n" type="matrix" values="0 0 0 0 0  0 0 0 0 0  0 0 0 0 0  8 0 0 0 -5.28" result="a"/><feComposite in="SourceGraphic" in2="a" operator="in"/></filter><filter id="sp65" x="0" y="0" width="1" height="1" filterUnits="objectBoundingBox"><feTurbulence type="fractalNoise" baseFrequency="0.9" numOctaves="2" seed="7" result="n"/><feColorMatrix in="n" type="matrix" values="0 0 0 0 0  0 0 0 0 0  0 0 0 0 0  8 0 0 0 -5.12" result="a"/><feComposite in="SourceGraphic" in2="a" operator="in"/></filter><filter id="sp66" x="0" y="0" width="1" height="1" filterUnits="objectBoundingBox"><feTurbulence type="fractalNoise" baseFrequency="0.9" numOctaves="2" seed="5" result="n"/><feColorMatrix in="n" type="matrix" values="0 0 0 0 0  0 0 0 0 0  0 0 0 0 0  8 0 0 0 -5.60" result="a"/><feComposite in="SourceGraphic" in2="a" operator="in"/></filter><filter id="sp67" x="0" y="0" width="1" height="1" filterUnits="objectBoundingBox"><feTurbulence type="fractalNoise" baseFrequency="1.1" numOctaves="2" seed="97" result="n"/><feColorMatrix in="n" type="matrix" values="0 0 0 0 0  0 0 0 0 0  0 0 0 0 0  8 0 0 0 -5.84" result="a"/><feComposite in="SourceGraphic" in2="a" operator="in"/></filter><linearGradient id="lg68" gradientUnits="userSpaceOnUse" x1="0.0" y1="675.1" x2="0.0" y2="738.3"><stop offset="0.000" stop-color="#3e8a34"/><stop offset="0.300" stop-color="#58a02e"/><stop offset="0.550" stop-color="#9cc426"/><stop offset="0.750" stop-color="#d8dc1a"/><stop offset="0.920" stop-color="#e8d814"/><stop offset="1.000" stop-color="#f09014"/></linearGradient><clipPath id="cp69"><path d="M373.6 708.2C374.6 706.9 377.9 705.1 379.5 703.9C381.1 702.7 381.9 702.3 383.2 701.2C384.4 700.1 385.6 699.1 387.1 697.2C388.7 695.2 390.8 691.3 392.4 689.5C393.9 687.6 394.8 687.0 396.3 686.1C397.8 685.3 399.6 684.6 401.2 684.1C402.9 683.7 404.7 684.1 406.2 683.6C407.7 683.2 408.8 682.4 410.1 681.6C411.4 680.9 412.8 679.9 414.1 678.9C415.4 677.9 416.9 676.4 418.0 675.6C419.2 674.8 419.8 674.6 421.0 674.1C422.1 673.7 423.6 673.0 424.9 673.0C426.2 673.0 427.4 673.1 428.9 674.3C430.3 675.5 432.6 678.6 433.8 680.2C435.1 681.9 435.6 683.7 436.4 684.1C437.1 684.6 437.5 682.6 438.2 682.8C439.0 683.1 440.4 683.3 440.9 685.4C441.4 687.6 441.2 692.0 441.3 696.0C441.4 699.9 441.3 704.1 441.5 709.2C441.6 714.3 442.4 722.2 442.2 726.4C442.0 730.5 441.2 732.3 440.2 734.3C439.2 736.2 438.9 737.5 436.4 738.2C433.8 738.8 427.7 738.6 424.7 738.2C421.7 737.8 419.6 737.5 418.2 735.6C416.8 733.6 417.1 729.6 416.2 726.4C415.4 723.1 414.2 718.9 413.0 715.8C411.8 712.8 410.3 710.3 409.1 708.2C407.9 706.1 406.6 704.4 405.7 703.2C404.8 702.0 404.4 700.4 403.9 701.2C403.4 702.0 403.0 705.9 402.6 707.9C402.2 709.9 402.0 711.1 401.3 713.1C400.7 715.1 400.1 717.6 398.8 719.7C397.5 721.8 395.5 725.0 393.5 725.7C391.6 726.3 389.3 724.6 387.1 723.6C385.0 722.7 382.7 721.0 380.6 719.7C378.6 718.4 376.0 717.1 374.8 715.8C373.6 714.5 373.7 713.1 373.5 711.8C373.3 710.5 372.6 709.5 373.6 708.2Z"/></clipPath><filter id="sp70" x="0" y="0" width="1" height="1" filterUnits="objectBoundingBox"><feTurbulence type="fractalNoise" baseFrequency="0.9" numOctaves="2" seed="3" result="n"/><feColorMatrix in="n" type="matrix" values="0 0 0 0 0  0 0 0 0 0  0 0 0 0 0  8 0 0 0 -4.40" result="a"/><feComposite in="SourceGraphic" in2="a" operator="in"/></filter><filter id="sp71" x="0" y="0" width="1" height="1" filterUnits="objectBoundingBox"><feTurbulence type="fractalNoise" baseFrequency="0.9" numOctaves="2" seed="4" result="n"/><feColorMatrix in="n" type="matrix" values="0 0 0 0 0  0 0 0 0 0  0 0 0 0 0  8 0 0 0 -5.44" result="a"/><feComposite in="SourceGraphic" in2="a" operator="in"/></filter><filter id="sp72" x="0" y="0" width="1" height="1" filterUnits="objectBoundingBox"><feTurbulence type="fractalNoise" baseFrequency="0.9" numOctaves="2" seed="5" result="n"/><feColorMatrix in="n" type="matrix" values="0 0 0 0 0  0 0 0 0 0  0 0 0 0 0  8 0 0 0 -5.28" result="a"/><feComposite in="SourceGraphic" in2="a" operator="in"/></filter><filter id="sp73" x="0" y="0" width="1" height="1" filterUnits="objectBoundingBox"><feTurbulence type="fractalNoise" baseFrequency="0.9" numOctaves="2" seed="8" result="n"/><feColorMatrix in="n" type="matrix" values="0 0 0 0 0  0 0 0 0 0  0 0 0 0 0  8 0 0 0 -5.76" result="a"/><feComposite in="SourceGraphic" in2="a" operator="in"/></filter><filter id="sp74" x="0" y="0" width="1" height="1" filterUnits="objectBoundingBox"><feTurbulence type="fractalNoise" baseFrequency="1.1" numOctaves="2" seed="97" result="n"/><feColorMatrix in="n" type="matrix" values="0 0 0 0 0  0 0 0 0 0  0 0 0 0 0  8 0 0 0 -5.84" result="a"/><feComposite in="SourceGraphic" in2="a" operator="in"/></filter></defs>
<text x="4.10" y="10.30" font-size="15" font-weight="bold">A</text>
<text x="140.50" y="10.20" font-size="13.7">Spleen</text>
<path d="M52.3 120.2L151 120.2M54.8 25.7L54.8 120.2M52.6 120.2L54.8 120.2" stroke="#222" stroke-width="1" fill="none"/>
<text x="51.00" y="124.48" font-size="12.8" text-anchor="end">0</text>
<path d="M52.6 101.36L54.8 101.36" stroke="#222" stroke-width="1" fill="none"/>
<text x="51.00" y="105.64" font-size="12.8" text-anchor="end">20</text>
<path d="M52.6 82.52L54.8 82.52" stroke="#222" stroke-width="1" fill="none"/>
<text x="51.00" y="86.80" font-size="12.8" text-anchor="end">40</text>
<path d="M52.6 63.68L54.8 63.68" stroke="#222" stroke-width="1" fill="none"/>
<text x="51.00" y="67.96" font-size="12.8" text-anchor="end">60</text>
<path d="M52.6 44.84L54.8 44.84" stroke="#222" stroke-width="1" fill="none"/>
<text x="51.00" y="49.12" font-size="12.8" text-anchor="end">80</text>
<path d="M52.6 26L54.8 26" stroke="#222" stroke-width="1" fill="none"/>
<text x="51.00" y="30.28" font-size="12.8" text-anchor="end">100</text>
<path d="M68.5 120.2L68.5 122.7M103.5 120.2L103.5 122.7M138.2 120.2L138.2 122.7" stroke="#222" stroke-width="0.8" fill="none"/>
<path d="M68.5 31.8L138.2 31.8" stroke="#8a8a8a" stroke-width="1.3" fill="none"/>
<path d="M103.1 40.5L138.2 40.5" stroke="#444" stroke-width="0.9" fill="none"/>
<text x="103.50" y="35.30" font-size="17" text-anchor="middle" font-weight="bold">****</text>
<circle cx="61.20" cy="109.00" r="2.90" fill="#2c3aa6" stroke="#1a1a40" stroke-width="0.6"/>
<circle cx="65.30" cy="109.40" r="2.90" fill="#2c3aa6" stroke="#1a1a40" stroke-width="0.6"/>
<circle cx="59.60" cy="113.00" r="2.90" fill="#2c3aa6" stroke="#1a1a40" stroke-width="0.6"/>
<circle cx="66.90" cy="113.00" r="2.90" fill="#2c3aa6" stroke="#1a1a40" stroke-width="0.6"/>
<circle cx="72.50" cy="113.00" r="2.90" fill="#2c3aa6" stroke="#1a1a40" stroke-width="0.6"/>
<circle cx="76.50" cy="111.50" r="2.90" fill="#2c3aa6" stroke="#1a1a40" stroke-width="0.6"/>
<circle cx="78.10" cy="113.50" r="2.90" fill="#2c3aa6" stroke="#1a1a40" stroke-width="0.6"/>
<circle cx="70.60" cy="113.50" r="2.90" fill="#2c3aa6" stroke="#1a1a40" stroke-width="0.6"/>
<circle cx="69.30" cy="107.40" r="2.90" fill="#2c3aa6" stroke="#1a1a40" stroke-width="0.6"/>
<circle cx="63.00" cy="112.00" r="2.90" fill="#2c3aa6" stroke="#1a1a40" stroke-width="0.6"/>
<circle cx="74.80" cy="110.50" r="2.90" fill="#2c3aa6" stroke="#1a1a40" stroke-width="0.6"/>
<circle cx="69.00" cy="101.80" r="2.90" fill="#2c3aa6" stroke="#1a1a40" stroke-width="0.6"/>
<path d="M72 107.5L79 107.5" stroke="#eee" stroke-width="1" fill="none"/>
<path d="M100 104.3L108 104.3" stroke="#333" stroke-width="0.8" fill="none"/>
<path d="M94.60 100.86L97.80 106.43L91.40 106.43Z" fill="#2c3aa6" stroke="#1a1a40" stroke-width="0.6"/>
<path d="M98.20 101.66L101.40 107.23L95.00 107.23Z" fill="#2c3aa6" stroke="#1a1a40" stroke-width="0.6"/>
<path d="M105.40 102.86L108.60 108.43L102.20 108.43Z" fill="#2c3aa6" stroke="#1a1a40" stroke-width="0.6"/>
<path d="M109.40 102.86L112.60 108.43L106.20 108.43Z" fill="#2c3aa6" stroke="#1a1a40" stroke-width="0.6"/>
<path d="M112.60 102.46L115.80 108.03L109.40 108.03Z" fill="#2c3aa6" stroke="#1a1a40" stroke-width="0.6"/>
<path d="M94.20 107.36L97.40 112.93L91.00 112.93Z" fill="#2c3aa6" stroke="#1a1a40" stroke-width="0.6"/>
<path d="M101.40 106.06L104.60 111.63L98.20 111.63Z" fill="#2c3aa6" stroke="#1a1a40" stroke-width="0.6"/>
<path d="M108.60 109.26L111.80 114.83L105.40 114.83Z" fill="#2c3aa6" stroke="#1a1a40" stroke-width="0.6"/>
<path d="M97.90 112.96L101.10 118.53L94.70 118.53Z" fill="#2c3aa6" stroke="#1a1a40" stroke-width="0.6"/>
<path d="M105.40 112.16L108.60 117.73L102.20 117.73Z" fill="#2c3aa6" stroke="#1a1a40" stroke-width="0.6"/>
<path d="M138.2 70.5L138.2 105.8M132.2 70.5L143.8 70.5M132.6 105.8L143.7 105.8" stroke="#888" stroke-width="1.2" fill="none"/>
<path d="M134.4 88.6L141.8 88.6" stroke="#333" stroke-width="0.9" fill="none"/>
<path d="M138.10 49.96L141.20 55.36L135.00 55.36Z" fill="#e8612c" stroke="#3a1a10" stroke-width="0.6"/>
<path d="M138.10 57.86L141.20 63.26L135.00 63.26Z" fill="#e8612c" stroke="#3a1a10" stroke-width="0.6"/>
<path d="M138.10 77.06L141.20 82.46L135.00 82.46Z" fill="#e8612c" stroke="#3a1a10" stroke-width="0.6"/>
<path d="M129.00 84.86L132.10 90.26L125.90 90.26Z" fill="#e8612c" stroke="#3a1a10" stroke-width="0.6"/>
<path d="M138.10 83.86L141.20 89.26L135.00 89.26Z" fill="#e8612c" stroke="#3a1a10" stroke-width="0.6"/>
<path d="M147.00 82.66L150.10 88.06L143.90 88.06Z" fill="#e8612c" stroke="#3a1a10" stroke-width="0.6"/>
<path d="M147.00 92.96L150.10 98.36L143.90 98.36Z" fill="#e8612c" stroke="#3a1a10" stroke-width="0.6"/>
<path d="M138.10 94.96L141.20 100.36L135.00 100.36Z" fill="#e8612c" stroke="#3a1a10" stroke-width="0.6"/>
<path d="M129.00 97.36L132.10 102.76L125.90 102.76Z" fill="#e8612c" stroke="#3a1a10" stroke-width="0.6"/>
<path d="M147.00 98.96L150.10 104.36L143.90 104.36Z" fill="#e8612c" stroke="#3a1a10" stroke-width="0.6"/>
<path d="M133.50 106.56L136.60 111.96L130.40 111.96Z" fill="#e8612c" stroke="#3a1a10" stroke-width="0.6"/>
<path d="M142.60 105.46L145.70 110.86L139.50 110.86Z" fill="#e8612c" stroke="#3a1a10" stroke-width="0.6"/>
<text x="11.00" y="71.40" font-size="12.3" text-anchor="middle" transform="rotate(-90 11.00 71.40)">Freq. of PEPCK</text>
<text x="25.80" y="72.10" font-size="12.3" text-anchor="middle" transform="rotate(-90 25.80 72.10)">CD4+ T cells</text>
<path d="M218 120.2L325.8 120.2M220.3 25.7L220.3 120.2M218.1 120.2L220.3 120.2" stroke="#222" stroke-width="1" fill="none"/>
<text x="216.50" y="124.48" font-size="12.8" text-anchor="end">0</text>
<path d="M218.1 101.36L220.3 101.36" stroke="#222" stroke-width="1" fill="none"/>
<text x="216.50" y="105.64" font-size="12.8" text-anchor="end">1</text>
<path d="M218.1 82.52L220.3 82.52" stroke="#222" stroke-width="1" fill="none"/>
<text x="216.50" y="86.80" font-size="12.8" text-anchor="end">2</text>
<path d="M218.1 63.68L220.3 63.68" stroke="#222" stroke-width="1" fill="none"/>
<text x="216.50" y="67.96" font-size="12.8" text-anchor="end">3</text>
<path d="M218.1 44.84L220.3 44.84" stroke="#222" stroke-width="1" fill="none"/>
<text x="216.50" y="49.12" font-size="12.8" text-anchor="end">4</text>
<path d="M218.1 26L220.3 26" stroke="#222" stroke-width="1" fill="none"/>
<text x="216.50" y="30.28" font-size="12.8" text-anchor="end">5</text>
<path d="M235.7 120.2L235.7 122.7M273.4 120.2L273.4 122.7M310.9 120.2L310.9 122.7" stroke="#222" stroke-width="0.8" fill="none"/>
<path d="M235 33.1L311 33.1" stroke="#8a8a8a" stroke-width="1.3" fill="none"/>
<path d="M273.4 40.5L311 40.5" stroke="#333" stroke-width="1" fill="none"/>
<text x="273.00" y="35.30" font-size="17" text-anchor="middle" font-weight="bold">****</text>
<circle cx="225.60" cy="113.30" r="2.80" fill="#2c3aa6" stroke="#1a1a40" stroke-width="0.6"/>
<circle cx="230.20" cy="114.50" r="2.80" fill="#2c3aa6" stroke="#1a1a40" stroke-width="0.6"/>
<circle cx="229.70" cy="109.40" r="2.80" fill="#2c3aa6" stroke="#1a1a40" stroke-width="0.6"/>
<circle cx="233.30" cy="108.40" r="2.80" fill="#2c3aa6" stroke="#1a1a40" stroke-width="0.6"/>
<circle cx="225.60" cy="117.60" r="2.80" fill="#2c3aa6" stroke="#1a1a40" stroke-width="0.6"/>
<circle cx="234.30" cy="114.50" r="2.80" fill="#2c3aa6" stroke="#1a1a40" stroke-width="0.6"/>
<circle cx="237.90" cy="111.50" r="2.80" fill="#2c3aa6" stroke="#1a1a40" stroke-width="0.6"/>
<circle cx="241.50" cy="111.00" r="2.80" fill="#2c3aa6" stroke="#1a1a40" stroke-width="0.6"/>
<circle cx="239.90" cy="115.00" r="2.80" fill="#2c3aa6" stroke="#1a1a40" stroke-width="0.6"/>
<circle cx="245.30" cy="108.90" r="2.80" fill="#2c3aa6" stroke="#1a1a40" stroke-width="0.6"/>
<circle cx="245.50" cy="115.00" r="2.80" fill="#2c3aa6" stroke="#1a1a40" stroke-width="0.6"/>
<circle cx="236.30" cy="118.10" r="2.80" fill="#2c3aa6" stroke="#1a1a40" stroke-width="0.6"/>
<circle cx="242.50" cy="117.80" r="2.80" fill="#2c3aa6" stroke="#1a1a40" stroke-width="0.6"/>
<circle cx="237.90" cy="114.00" r="2.80" fill="#2c3aa6" stroke="#1a1a40" stroke-width="0.6"/>
<circle cx="235.50" cy="103.30" r="2.80" fill="#2c3aa6" stroke="#1a1a40" stroke-width="0.6"/>
<path d="M267 108.4L279.8 108.4" stroke="#333" stroke-width="0.8" fill="none"/>
<path d="M263.40 108.16L266.60 113.73L260.20 113.73Z" fill="#2c3aa6" stroke="#1a1a40" stroke-width="0.6"/>
<path d="M267.50 108.66L270.70 114.23L264.30 114.23Z" fill="#2c3aa6" stroke="#1a1a40" stroke-width="0.6"/>
<path d="M273.10 108.66L276.30 114.23L269.90 114.23Z" fill="#2c3aa6" stroke="#1a1a40" stroke-width="0.6"/>
<path d="M275.70 109.16L278.90 114.73L272.50 114.73Z" fill="#2c3aa6" stroke="#1a1a40" stroke-width="0.6"/>
<path d="M283.40 108.66L286.60 114.23L280.20 114.23Z" fill="#2c3aa6" stroke="#1a1a40" stroke-width="0.6"/>
<path d="M263.40 113.06L266.60 118.63L260.20 118.63Z" fill="#2c3aa6" stroke="#1a1a40" stroke-width="0.6"/>
<path d="M279.30 113.76L282.50 119.33L276.10 119.33Z" fill="#2c3aa6" stroke="#1a1a40" stroke-width="0.6"/>
<path d="M271.10 110.16L274.30 115.73L267.90 115.73Z" fill="#2c3aa6" stroke="#1a1a40" stroke-width="0.6"/>
<path d="M273.10 99.96L276.30 105.53L269.90 105.53Z" fill="#2c3aa6" stroke="#1a1a40" stroke-width="0.6"/>
<path d="M266 114.5L280 114.5" stroke="#222" stroke-width="0.8" fill="none"/>
<path d="M311.1 67L311.1 102.5M304.4 67L317.4 67" stroke="#999" stroke-width="1.3" fill="none"/>
<path d="M305.2 102.5L317 102.5" stroke="#333" stroke-width="0.9" fill="none"/>
<path d="M307.2 84.4L314.8 84.4" stroke="#666" stroke-width="0.9" fill="none"/>
<path d="M311.10 45.46L314.20 50.86L308.00 50.86Z" fill="#e8612c" stroke="#3a1a10" stroke-width="0.6"/>
<path d="M311.10 55.46L314.20 60.86L308.00 60.86Z" fill="#e8612c" stroke="#3a1a10" stroke-width="0.6"/>
<path d="M311.10 73.76L314.20 79.16L308.00 79.16Z" fill="#e8612c" stroke="#3a1a10" stroke-width="0.6"/>
<path d="M311.10 77.66L314.20 83.06L308.00 83.06Z" fill="#e8612c" stroke="#3a1a10" stroke-width="0.6"/>
<path d="M301.10 80.26L304.20 85.66L298.00 85.66Z" fill="#e8612c" stroke="#3a1a10" stroke-width="0.6"/>
<path d="M320.70 79.16L323.80 84.56L317.60 84.56Z" fill="#e8612c" stroke="#3a1a10" stroke-width="0.6"/>
<path d="M307.70 89.46L310.80 94.86L304.60 94.86Z" fill="#e8612c" stroke="#3a1a10" stroke-width="0.6"/>
<path d="M301.10 94.26L304.20 99.66L298.00 99.66Z" fill="#e8612c" stroke="#3a1a10" stroke-width="0.6"/>
<path d="M314.00 93.96L317.10 99.36L310.90 99.36Z" fill="#e8612c" stroke="#3a1a10" stroke-width="0.6"/>
<path d="M320.70 92.76L323.80 98.16L317.60 98.16Z" fill="#e8612c" stroke="#3a1a10" stroke-width="0.6"/>
<path d="M305.50 103.56L308.60 108.96L302.40 108.96Z" fill="#e8612c" stroke="#3a1a10" stroke-width="0.6"/>
<path d="M316.20 102.06L319.30 107.46L313.10 107.46Z" fill="#e8612c" stroke="#3a1a10" stroke-width="0.6"/>
<text x="180.80" y="75.80" font-size="12.1" text-anchor="middle" transform="rotate(-90 180.80 75.80)">No. of PEPCK</text>
<text x="197.8" y="76.2" font-size="12.1" text-anchor="middle" transform="rotate(-90 197.8 76.2)">CD4+ T cells (10<tspan font-size="8" dy="-5">7</tspan><tspan dy="5">)</tspan></text>
<circle cx="357.00" cy="33.10" r="3.80" fill="#201c84" stroke="#111" stroke-width="0.5"/>
<text x="365.00" y="38.00" font-size="13.4">2μg PEPCK mRNA</text>
<path d="M356.20 54.80L359.90 61.60L352.50 61.60Z" fill="#201c84" stroke="#111" stroke-width="0.5" stroke-linejoin="round"/>
<text x="365.00" y="63.80" font-size="13.4">1μg PEPCK mRNA</text>
<text x="365.00" y="81.50" font-size="13.4">+ 1μg empty LNP</text>
<path d="M357.20 96.40L360.90 103.50L353.50 103.50Z" fill="#e23c12" stroke="#111" stroke-width="0.5" stroke-linejoin="round"/>
<text x="365.00" y="106.00" font-size="13.4">1μg PEPCK mRNA</text>
<text x="365.00" y="123.50" font-size="13.4">+ 1μg IL-12 mRNA</text>
<text x="503.20" y="10.40" font-size="14.5" font-weight="bold">B</text>
<path d="M501 0.5L502 2.5" stroke="#444" stroke-width="0.8" fill="none"/>
<text x="593.40" y="10.20" font-size="13.7">Blood</text>
<path d="M553.2 25.69L553.2 120.1M549.8 114.4L553.2 114.4" stroke="#222" stroke-width="1" fill="none"/>
<text x="548.80" y="118.61" font-size="12.6" text-anchor="end">0</text>
<path d="M549.8 99.67L553.2 99.67" stroke="#222" stroke-width="1" fill="none"/>
<text x="548.80" y="103.88" font-size="12.6" text-anchor="end">5</text>
<path d="M549.8 84.93L553.2 84.93" stroke="#222" stroke-width="1" fill="none"/>
<text x="548.80" y="89.14" font-size="12.6" text-anchor="end">10</text>
<path d="M549.8 70.2L553.2 70.2" stroke="#222" stroke-width="1" fill="none"/>
<text x="548.80" y="74.41" font-size="12.6" text-anchor="end">15</text>
<path d="M549.8 55.46L553.2 55.46" stroke="#222" stroke-width="1" fill="none"/>
<text x="548.80" y="59.67" font-size="12.6" text-anchor="end">20</text>
<path d="M549.8 40.73L553.2 40.73" stroke="#222" stroke-width="1" fill="none"/>
<text x="548.80" y="44.94" font-size="12.6" text-anchor="end">25</text>
<path d="M549.8 25.99L553.2 25.99" stroke="#222" stroke-width="1" fill="none"/>
<text x="548.80" y="30.20" font-size="12.6" text-anchor="end">30</text>
<path d="M553.2 120.1L672.7 120.1M553.2 120.1L553.2 123.3" stroke="#222" stroke-width="1" fill="none"/>
<path d="M557.19 120.1L557.19 121.9M561.18 120.1L561.18 121.9M565.17 120.1L565.17 121.9M569.16 120.1L569.16 121.9M573.15 120.1L573.15 121.9M577.14 120.1L577.14 121.9" stroke="#222" stroke-width="0.8" fill="none"/>
<path d="M581.13 120.1L581.13 123.3" stroke="#222" stroke-width="1" fill="none"/>
<path d="M585.12 120.1L585.12 121.9M589.11 120.1L589.11 121.9M593.1 120.1L593.1 121.9M597.09 120.1L597.09 121.9M601.08 120.1L601.08 121.9M605.07 120.1L605.07 121.9" stroke="#222" stroke-width="0.8" fill="none"/>
<path d="M609.06 120.1L609.06 123.3" stroke="#222" stroke-width="1" fill="none"/>
<path d="M613.05 120.1L613.05 121.9M617.04 120.1L617.04 121.9M621.03 120.1L621.03 121.9M625.02 120.1L625.02 121.9M629.01 120.1L629.01 121.9M633 120.1L633 121.9" stroke="#222" stroke-width="0.8" fill="none"/>
<path d="M636.99 120.1L636.99 123.3" stroke="#222" stroke-width="1" fill="none"/>
<path d="M640.98 120.1L640.98 121.9M644.97 120.1L644.97 121.9M648.96 120.1L648.96 121.9M652.95 120.1L652.95 121.9M656.94 120.1L656.94 121.9M660.93 120.1L660.93 121.9" stroke="#222" stroke-width="0.8" fill="none"/>
<path d="M664.92 120.1L664.92 123.3" stroke="#222" stroke-width="1" fill="none"/>
<text x="553.20" y="135.00" font-size="12.3" text-anchor="middle">0</text>
<text x="581.13" y="135.00" font-size="12.3" text-anchor="middle">7</text>
<text x="609.06" y="135.00" font-size="12.3" text-anchor="middle">14</text>
<text x="636.99" y="135.00" font-size="12.3" text-anchor="middle">21</text>
<text x="664.92" y="135.00" font-size="12.3" text-anchor="middle">28</text>
<text x="549.50" y="150.80" font-size="12.27">Days post immunization</text>
<text x="514.00" y="69.60" font-size="12.3" text-anchor="middle" transform="rotate(-90 514.00 69.60)">Freq. of PEPCK</text>
<text x="528.00" y="70.20" font-size="12.3" text-anchor="middle" transform="rotate(-90 528.00 70.20)">CD4+ T cells</text>
<path d="M581.13 42.1L581.13 74.2M578.63 42.1L583.63 42.1M578.63 74.2L583.63 74.2M581.13 83.4L581.13 95.2M578.63 83.4L583.63 83.4M578.63 95.2L583.63 95.2M609.06 53.1L609.06 74.2M606.56 53.1L611.56 53.1M606.56 74.2L611.56 74.2M636.99 86L636.99 113M634.49 86L639.49 86M634.49 113L639.49 113M664.92 93.2L664.92 105.8M662.42 93.2L667.42 93.2M662.42 105.8L667.42 105.8" stroke="#8a8a8a" stroke-width="1.2" fill="none"/>
<path d="M553.20 114.40 L581.13 58.40 L609.06 63.90 L636.99 98.30 L664.92 100.10" fill="none" stroke="#e8612c" stroke-width="1"/>
<path d="M553.20 114.40 L581.13 89.90 L609.06 110.50 L636.99 113.60 L664.92 110.00" fill="none" stroke="#3344bb" stroke-width="1"/>
<path d="M581.13 55.48L583.93 60.35L578.33 60.35Z" fill="#e8612c" stroke="#3a1a10" stroke-width="0.6"/>
<path d="M609.06 60.98L611.86 65.85L606.26 65.85Z" fill="#e8612c" stroke="#3a1a10" stroke-width="0.6"/>
<path d="M636.99 95.38L639.79 100.25L634.19 100.25Z" fill="#e8612c" stroke="#3a1a10" stroke-width="0.6"/>
<path d="M664.92 97.18L667.72 102.05L662.12 102.05Z" fill="#e8612c" stroke="#3a1a10" stroke-width="0.6"/>
<path d="M553.20 111.48L556.00 116.35L550.40 116.35Z" fill="#2233aa" stroke="#111" stroke-width="0.6"/>
<path d="M581.13 86.98L583.93 91.85L578.33 91.85Z" fill="#2233aa" stroke="#111" stroke-width="0.6"/>
<path d="M609.06 107.58L611.86 112.45L606.26 112.45Z" fill="#2233aa" stroke="#111" stroke-width="0.6"/>
<path d="M636.99 110.68L639.79 115.55L634.19 115.55Z" fill="#2233aa" stroke="#111" stroke-width="0.6"/>
<path d="M664.92 107.08L667.72 111.95L662.12 111.95Z" fill="#2233aa" stroke="#111" stroke-width="0.6"/>
<text x="581.10" y="38.90" font-size="16.5" text-anchor="middle" font-weight="bold">*</text>
<path d="M575.7 36.3L586.5 36.3" stroke="#222" stroke-width="0.9" fill="none"/>
<text x="608.60" y="53.70" font-size="16.5" text-anchor="middle" font-weight="bold">****</text>
<path d="M603.2 50.2L614 50.2" stroke="#222" stroke-width="0.9" fill="none"/>
<text x="636.95" y="84.50" font-size="16.5" text-anchor="middle" font-weight="bold">**</text>
<path d="M631.2 81.3L642.7 81.3" stroke="#222" stroke-width="0.9" fill="none"/>
<text x="664.50" y="94.70" font-size="16.5" text-anchor="middle" font-weight="bold">*</text>
<path d="M659 91.5L670 91.5" stroke="#222" stroke-width="0.9" fill="none"/>
<text x="1.20" y="162.00" font-size="14" font-weight="bold">C</text>
<text x="74.50" y="162.00" font-size="13.7" text-anchor="middle">Spleen</text>
<path d="M59.0 226.0 55.0 226.0 50.5 225.3 46.5 224.2 43.0 222.6 40.5 220.5 38.6 218.0 36.8 214.5 35.7 211.0 35.4 207.0 35.7 202.0 37.4 192.5 38.1 185.5 39.0 182.0 40.8 178.5 43.0 175.9 46.0 173.9 49.5 172.6 56.0 172.6 63.5 173.9 67.0 175.1 70.0 176.7 72.0 178.4 73.5 180.5 74.4 183.0 74.5 186.5 72.7 194.5 71.9 208.5 72.3 215.5 71.7 218.5 69.8 221.5 67.0 223.7 63.5 225.2 59.0 226.0M59.5 225.5 55.5 225.5 51.0 224.9 46.5 223.6 43.5 222.2 41.0 220.2 39.0 217.7 37.2 214.5 36.1 211.0 35.8 207.5 36.2 202.0 37.9 192.5 38.7 185.5 39.6 182.0 41.1 179.0 43.5 176.3 46.5 174.3 50.0 173.1 53.5 172.6 56.0 172.7 66.5 175.4 69.0 176.6 71.4 178.5 72.9 180.5 73.8 183.0 73.9 186.5 72.1 194.5 71.9 201.5 71.2 208.5 71.6 215.5 71.1 218.0 69.5 220.9 67.0 223.0 63.5 224.7 59.5 225.5M59.0 225.0 55.5 225.0 51.0 224.3 47.0 223.2 43.5 221.5 41.0 219.4 38.5 216.1 36.9 213.0 36.2 210.0 36.2 206.5 36.8 201.0 38.5 192.5 39.4 185.0 40.7 181.0 42.7 178.0 45.5 175.6 49.0 173.9 53.5 172.8 57.5 173.2 61.0 174.5 65.0 175.3 68.0 176.6 70.0 178.0 71.9 180.0 72.9 182.0 73.4 184.0 73.2 187.0 71.4 194.5 71.2 201.5 70.5 208.5 70.9 215.5 70.4 218.0 69.0 220.5 66.5 222.7 63.0 224.3 59.0 225.0M58.5 224.5 55.0 224.4 51.0 223.8 47.0 222.5 44.0 221.0 41.5 219.0 38.7 215.5 37.3 213.0 36.5 210.0 37.2 201.5 39.0 193.0 40.0 185.0 41.2 181.5 43.0 178.6 45.5 176.4 51.0 173.7 54.0 172.9 57.5 173.3 68.0 177.2 71.2 180.0 72.3 182.0 72.8 184.0 72.6 187.0 70.7 194.5 70.5 201.5 69.7 208.5 70.1 215.5 69.6 218.0 68.1 220.5 65.5 222.6 62.5 223.8 58.5 224.5M61.0 223.6 57.5 224.0 53.5 223.7 49.5 222.7 45.5 221.1 42.5 219.0 39.5 215.9 37.9 213.5 36.9 210.5 36.8 207.5 37.6 202.0 39.7 193.0 40.7 185.0 41.7 182.0 43.2 179.5 45.5 177.2 51.5 173.8 53.5 173.1 55.5 173.1 58.0 173.7 61.5 175.5 64.5 176.3 67.5 177.6 70.7 180.5 72.1 184.0 71.9 187.0 70.0 194.5 69.7 201.5 68.8 208.5 69.3 215.0 68.9 217.5 67.9 219.5 66.0 221.4 63.5 222.8 61.0 223.6M60.5 223.0 57.0 223.3 53.5 223.0 49.5 222.0 46.0 220.5 43.0 218.5 39.5 215.3 38.0 213.0 37.2 210.5 37.3 206.5 40.3 193.5 41.2 186.0 42.2 182.5 43.7 180.0 45.7 178.0 51.8 174.0 54.0 173.3 58.0 173.8 61.5 176.0 67.0 178.0 69.9 180.5 71.3 184.0 71.2 187.0 69.2 194.5 68.9 201.5 67.9 208.5 68.4 214.5 68.1 217.0 67.3 219.0 65.5 220.9 63.0 222.3 60.5 223.0M59.0 222.5 56.0 222.6 52.5 222.0 46.0 219.5 41.5 216.5 39.5 214.7 38.1 212.5 37.5 210.0 37.7 206.5 41.0 194.0 41.8 186.5 42.7 183.0 44.2 180.5 46.0 178.7 52.0 174.2 54.5 173.4 58.5 174.3 61.5 176.5 67.0 178.7 69.7 181.5 70.6 184.5 70.3 187.5 68.4 193.5 67.9 201.5 66.9 208.0 67.4 214.5 67.1 217.0 66.1 219.0 64.5 220.6 62.0 221.9 59.0 222.5M59.5 221.6 56.5 221.6 53.0 221.2 47.0 219.0 42.0 216.3 40.0 214.7 38.5 212.5 37.8 210.0 38.1 206.5 41.8 194.0 42.4 187.0 43.3 183.5 46.0 179.8 49.0 177.6 52.0 174.5 54.0 173.7 58.0 174.3 61.5 177.0 66.5 179.3 68.7 181.5 69.7 184.5 69.4 187.5 67.5 193.5 66.9 201.5 65.6 208.0 66.3 214.5 66.2 216.5 65.3 218.5 64.0 219.8 62.0 220.9 59.5 221.6M61.0 220.6 58.5 220.9 54.0 220.6 49.0 219.2 41.0 215.3 39.0 213.1 38.0 210.5 38.2 207.0 42.2 194.5 42.8 187.0 43.6 184.0 45.5 181.0 49.5 177.8 51.6 175.0 54.0 173.8 58.1 174.5 61.5 177.4 66.0 179.4 68.1 181.5 69.0 184.0 69.0 187.0 66.9 193.5 66.2 201.5 64.7 208.0 65.6 214.5 65.4 216.5 63.9 219.0 61.0 220.6M56.5 177.5 56.6 176.5 56.0 176.3 55.6 177.0 56.0 177.6 56.5 177.5M61.0 219.0 59.5 218.6 58.5 216.3 57.0 215.3 55.0 215.6 52.7 218.0 51.5 218.3 43.0 215.9 40.0 213.8 38.4 210.5 38.3 208.5 38.7 206.5 43.1 195.0 43.5 187.5 44.3 184.5 46.0 181.8 49.5 178.9 51.5 175.5 52.5 174.6 54.0 174.0 57.0 174.5 59.0 175.4 61.5 178.1 64.5 179.4 66.0 180.5 67.2 182.0 67.8 184.0 67.9 187.5 65.9 193.0 64.8 201.5 62.9 208.0 63.0 210.0 64.1 214.0 64.0 216.0 63.0 217.9 61.0 219.0M56.6 178.0 57.1 177.5 57.1 176.5 56.5 175.7 56.0 175.7 55.5 176.0 55.2 177.0 55.5 177.8 56.6 178.0M61.5 215.7 57.5 213.7 53.0 213.0 52.0 213.4 50.2 215.0 49.0 215.5 46.5 215.9 44.0 215.8 42.0 215.0 40.5 213.9 39.5 212.5 38.7 210.5 38.6 208.5 39.1 206.5 43.9 195.5 44.2 188.0 44.9 185.0 46.5 182.6 50.0 179.5 51.8 175.5 54.0 174.3 55.5 174.5 55.8 175.0 54.8 176.5 54.9 177.5 55.5 178.2 56.5 178.4 57.0 178.1 57.5 177.0 57.4 175.5 58.5 175.4 59.5 176.2 61.5 178.9 65.4 181.0 66.4 182.5 66.8 184.0 66.9 187.5 64.9 192.5 63.6 200.5 62.5 203.5 61.0 205.6 59.5 206.7 58.5 206.8 56.1 205.5 55.0 205.3 53.5 206.3 52.8 208.0 52.8 210.0 53.5 211.0 58.0 209.3 59.5 209.6 61.0 211.3 61.8 213.0 62.1 214.5 61.5 215.7M47.5 215.0 46.0 215.4 44.0 215.3 41.2 214.0 39.3 211.5 39.0 208.0 39.6 206.0 44.8 196.0 44.9 188.5 45.6 185.5 47.0 183.4 50.2 180.5 51.2 177.0 52.0 175.7 53.0 174.9 54.5 174.7 54.9 175.0 54.6 177.5 55.4 178.5 57.0 178.5 57.7 177.5 58.0 176.1 58.5 175.9 59.8 177.0 61.0 179.5 64.7 181.5 65.8 183.5 66.1 187.0 63.9 192.0 63.2 196.0 62.0 199.7 60.6 202.0 59.0 202.6 57.5 202.4 54.8 201.0 53.5 199.3 53.1 199.5 53.7 202.0 51.5 206.8 50.7 211.5 49.0 214.0 47.5 215.0M45.0 215.0 42.5 214.4 40.5 212.8 39.4 210.5 39.4 207.5 40.2 205.5 45.8 196.5 45.7 190.0 46.5 186.0 47.8 184.0 50.8 181.0 51.3 177.5 52.0 176.0 53.0 175.2 54.0 175.0 54.4 175.5 54.4 177.5 55.0 178.5 56.0 179.0 57.0 178.8 58.5 176.6 59.0 176.7 60.1 178.5 60.5 181.0 62.5 181.2 64.0 182.0 65.2 184.5 65.2 187.5 62.5 192.0 62.0 196.1 60.0 198.6 58.0 199.1 56.5 198.7 53.5 197.0 52.5 197.0 51.6 197.5 51.3 199.0 52.2 202.5 50.8 206.0 49.9 211.5 48.0 214.0 46.5 214.8 45.0 215.0M45.5 214.5 43.0 214.1 41.0 212.6 39.7 210.0 39.8 207.5 40.6 205.5 44.0 200.5 47.3 197.0 46.6 192.5 46.8 190.0 48.8 185.0 51.5 181.6 51.4 178.5 51.7 177.0 52.5 175.9 53.5 175.4 54.3 178.0 55.5 179.1 57.0 179.1 58.5 177.3 59.3 177.5 59.8 178.5 59.7 180.0 57.3 183.0 57.8 183.5 58.5 183.6 61.5 182.3 63.0 182.5 64.2 184.0 64.5 187.0 63.7 188.5 61.3 191.0 60.9 192.0 61.0 195.0 60.0 196.5 57.5 197.1 53.0 195.6 51.5 196.0 50.2 197.0 49.9 198.0 51.2 201.0 51.3 202.5 50.1 206.0 49.7 210.5 48.0 213.4 45.5 214.5M44.9 211.5 45.9 210.5 45.5 209.4 44.0 209.2 42.7 210.0 42.6 210.5 43.0 211.4 44.9 211.5M59.0 195.0 57.5 195.5 53.5 194.2 49.5 195.2 48.5 194.8 47.7 193.5 47.7 191.0 50.0 188.5 50.4 185.0 52.2 182.5 51.7 178.0 52.0 177.0 53.0 176.0 53.5 176.2 54.4 178.5 55.5 179.3 57.0 179.4 58.5 178.0 59.0 177.9 59.3 178.5 59.4 179.5 58.9 180.5 56.1 183.0 56.5 184.1 58.5 184.9 62.0 183.5 63.0 183.9 63.5 184.9 63.6 186.5 63.2 187.5 60.1 189.5 59.4 190.5 59.0 192.0 59.3 194.0 59.0 195.0M46.5 213.7 44.5 213.9 43.4 213.5 43.1 213.0 45.0 212.3 46.1 211.5 46.6 210.0 46.0 209.0 44.5 208.5 43.0 208.7 42.0 209.2 41.0 210.3 40.5 210.1 40.1 208.0 41.0 205.5 45.0 200.4 46.5 199.2 48.0 198.8 49.0 199.1 50.0 200.2 50.6 202.5 49.6 205.5 49.5 209.0 49.0 211.0 48.0 212.6 46.5 213.7M50.5 193.6 49.0 193.3 48.6 192.0 49.3 191.0 51.7 189.5 51.9 185.5 53.5 183.0 51.9 179.0 52.1 177.5 53.0 176.6 54.1 178.5 55.5 179.6 57.0 179.7 58.5 178.8 58.9 179.0 58.3 180.5 54.8 183.5 57.7 187.0 57.9 188.0 57.1 190.0 56.0 191.3 53.0 191.8 50.5 193.6M47.5 212.0 46.9 212.0 47.3 210.0 46.0 208.5 44.0 208.0 41.0 208.4 40.7 207.5 41.4 205.5 45.5 200.9 46.5 200.1 48.0 199.9 49.5 200.8 49.9 202.5 49.1 205.0 49.0 209.1 48.5 210.6 47.5 212.0M55.5 182.1 54.0 182.2 53.0 181.3 52.2 179.5 52.5 177.5 53.0 177.4 55.0 179.5 57.4 180.5 55.5 182.1M48.0 209.3 45.5 207.9 42.0 207.4 41.4 207.0 41.6 206.0 42.5 204.8 46.0 201.5 47.5 200.8 48.5 201.1 49.1 202.0 48.6 204.5 48.6 208.0 48.0 209.3" fill="none" stroke="#e08a3a" stroke-width="0.42" stroke-opacity="0.85"/>
<path d="M63.5 242.5 59.0 242.4 55.5 240.9 53.3 238.5 52.8 237.0 52.7 235.0 53.6 232.5 55.4 230.5 58.0 228.9 64.0 226.6 65.0 225.5 66.0 223.3 67.2 217.5 68.7 212.5 73.7 198.0 74.3 190.0 72.4 184.5 72.8 181.5 74.1 179.5 76.0 178.1 78.5 177.0 81.5 176.3 87.0 176.3 93.0 178.2 96.5 180.2 100.5 183.4 106.2 190.5 112.5 194.0 114.8 196.5 115.4 198.5 115.2 200.5 113.4 209.5 111.7 214.0 107.2 222.5 100.9 232.0 98.4 235.0 95.5 237.1 90.0 239.4 83.0 240.5 80.0 241.5 73.0 242.1 69.0 240.9 63.5 242.5M64.0 242.0 59.5 242.1 56.0 240.8 54.6 239.5 53.6 238.0 53.2 235.0 53.9 233.0 55.5 230.9 58.0 229.3 64.0 227.2 65.0 226.2 66.0 224.0 67.4 217.5 73.9 198.0 74.1 193.5 74.9 189.5 73.2 184.5 73.6 181.5 74.6 180.0 76.5 178.5 79.0 177.4 82.0 176.6 87.0 176.7 92.5 178.6 95.5 180.2 99.0 182.8 101.8 185.5 105.5 190.5 107.6 192.0 112.0 194.2 114.2 196.5 114.8 198.5 114.7 200.5 112.9 209.0 111.7 212.5 106.8 221.5 99.9 232.0 97.8 234.5 95.0 236.7 90.0 238.9 83.0 240.3 80.0 241.3 72.5 241.9 69.0 240.4 64.0 242.0M75.5 241.5 72.0 241.7 69.0 239.9 63.0 241.8 60.5 241.8 58.5 241.4 56.5 240.5 54.8 239.0 53.8 237.0 53.7 235.0 54.4 233.0 56.0 230.9 58.5 229.4 64.0 227.9 65.0 226.9 66.0 224.7 67.7 217.0 74.0 198.5 74.6 193.0 75.5 189.5 74.0 184.5 74.5 181.5 76.2 179.5 79.5 177.7 83.0 176.9 86.5 177.1 93.0 179.4 99.0 183.5 101.5 186.0 104.7 190.5 107.5 192.5 111.4 194.5 113.0 195.9 114.1 198.0 114.1 200.5 112.2 209.0 110.6 213.0 105.4 222.0 97.1 234.0 94.0 236.5 90.5 238.1 82.9 240.0 80.0 241.1 75.5 241.5M81.5 201.5 85.6 198.0 86.2 197.0 86.0 196.2 85.5 195.9 84.5 196.2 82.0 198.6 80.8 201.0 81.0 201.7 81.5 201.5M74.0 241.5 71.5 241.3 69.0 239.3 63.0 241.3 60.5 241.4 58.5 241.0 56.5 239.9 55.1 238.5 54.3 236.5 54.3 234.5 55.1 232.5 57.0 230.5 59.0 229.6 64.0 228.5 65.5 226.7 67.0 222.1 67.7 217.5 71.2 206.5 74.0 199.3 74.9 193.0 76.2 189.5 74.9 184.5 74.9 183.0 75.5 181.5 77.5 179.5 80.5 177.8 83.0 177.2 85.5 177.3 92.5 179.8 98.5 183.8 101.1 186.5 104.0 190.6 112.3 196.0 113.4 198.0 113.4 200.5 111.7 208.5 110.3 212.0 104.5 221.5 95.9 234.0 93.0 236.2 89.5 237.8 80.0 240.9 74.0 241.5M81.0 203.5 87.5 197.5 87.9 196.0 87.0 194.9 85.5 194.4 84.5 194.7 81.5 198.3 80.5 200.0 79.8 202.5 80.0 203.9 81.0 203.5M75.2 222.0 76.0 219.5 75.7 218.0 75.0 217.6 73.9 219.0 73.7 221.0 74.0 222.1 74.5 222.4 75.2 222.0M77.5 241.0 72.5 241.4 71.0 240.7 69.5 239.0 68.5 238.6 63.5 240.7 59.5 240.7 57.5 240.0 55.8 238.5 54.9 237.0 54.7 235.0 55.2 233.0 57.0 230.8 59.5 229.7 64.0 229.2 65.3 228.0 67.0 222.9 68.0 217.5 74.3 199.0 75.4 192.5 77.1 189.0 75.9 185.0 76.1 182.5 77.4 180.5 79.9 178.5 82.0 177.6 84.5 177.5 87.5 178.2 92.0 180.2 97.5 183.8 100.3 186.5 103.3 191.0 111.5 196.0 112.6 197.5 112.9 199.5 111.1 208.0 109.9 211.0 103.5 221.0 99.1 227.0 95.4 233.0 93.4 235.0 90.5 236.7 80.0 240.8 77.5 241.0M80.0 206.0 88.8 197.5 89.2 196.5 89.1 195.5 87.6 194.0 85.5 193.3 84.3 193.5 81.0 198.3 79.6 201.5 79.0 204.0 79.2 206.0 79.5 206.3 80.0 206.0M75.4 223.5 76.8 222.0 77.3 220.0 76.9 216.5 76.0 215.4 74.5 216.9 73.3 220.0 73.6 223.0 74.5 223.7 75.4 223.5M75.0 241.1 72.0 241.0 71.0 240.3 69.5 238.3 68.5 237.8 63.5 240.1 61.0 240.4 59.0 240.1 57.5 239.4 56.0 238.0 55.2 236.5 55.1 234.5 56.2 232.0 58.0 230.5 60.5 229.9 64.0 230.0 65.5 228.8 67.5 221.7 68.2 217.5 71.8 206.0 74.5 199.0 75.7 192.5 78.2 189.0 76.9 185.0 77.1 182.5 78.2 180.5 80.0 178.8 82.5 177.8 85.0 177.8 87.0 178.4 92.5 181.3 97.5 184.7 100.3 187.5 102.7 191.5 109.5 195.2 111.1 196.5 112.0 198.0 112.1 200.0 111.0 203.5 110.4 207.5 109.1 210.5 102.1 221.0 97.7 226.5 95.1 231.5 93.6 233.5 90.5 235.8 80.5 240.4 75.0 241.1M79.0 209.5 83.2 204.0 89.2 198.5 90.3 197.0 90.5 196.0 90.1 195.0 87.6 193.0 85.0 192.2 83.5 192.6 82.6 195.0 80.0 199.5 79.0 202.2 78.3 207.5 78.5 209.4 79.0 209.5M75.9 224.5 77.8 223.0 78.6 221.0 78.0 214.0 77.5 212.9 76.5 213.4 75.0 215.1 73.0 219.2 72.9 222.5 73.5 224.1 74.5 224.8 75.9 224.5M73.5 241.1 71.5 240.5 69.5 237.6 68.5 236.8 63.0 239.6 60.5 239.9 58.5 239.4 57.0 238.5 55.9 237.0 55.4 235.5 55.5 234.0 56.5 232.0 58.5 230.6 61.0 230.2 64.5 230.7 65.6 230.0 67.6 222.0 68.2 218.0 72.2 205.5 74.6 199.5 75.9 193.0 77.0 191.1 79.6 189.5 79.9 189.0 77.8 185.0 77.7 183.0 78.1 181.5 79.1 180.0 81.0 178.6 83.0 178.0 85.0 178.1 87.3 179.0 97.5 185.7 99.7 188.0 101.7 192.0 106.0 193.7 110.2 196.5 111.2 198.0 111.3 200.0 109.7 207.0 108.6 209.5 104.3 215.0 100.5 220.9 96.2 226.0 93.9 231.0 92.6 233.0 91.0 234.5 85.5 237.8 80.0 240.4 73.5 241.1M76.3 225.5 78.7 224.0 80.1 222.0 80.3 220.5 79.7 214.0 80.2 211.5 81.2 209.0 84.6 204.0 90.6 198.5 91.8 196.5 91.5 195.0 90.0 193.5 87.6 192.0 84.5 191.0 82.7 191.0 82.4 194.5 79.5 199.9 78.5 202.9 77.2 210.5 72.7 219.0 72.6 222.0 73.0 224.2 74.5 225.8 76.3 225.5M76.5 240.5 73.0 240.9 72.0 240.6 69.5 236.8 68.0 235.5 63.5 238.8 61.0 239.4 59.0 239.2 56.6 237.5 55.9 236.0 55.8 234.5 56.9 232.0 59.0 230.7 61.5 230.5 65.0 231.7 66.0 231.3 68.5 218.0 72.3 206.0 75.0 199.0 76.2 193.0 77.0 191.5 78.0 190.8 79.5 190.4 81.0 190.8 81.9 192.0 82.1 194.0 78.5 201.8 76.6 210.5 72.4 219.0 72.3 223.0 73.5 226.0 75.0 226.9 76.7 226.5 79.5 225.0 81.9 222.5 82.2 221.0 81.2 214.5 82.2 210.5 85.7 204.5 87.9 202.0 91.9 198.5 93.4 196.0 92.8 194.5 91.0 193.0 88.5 191.4 82.0 188.8 80.0 187.3 78.7 185.5 78.2 183.0 79.2 180.5 81.5 178.7 84.5 178.3 87.0 179.2 90.0 181.7 96.5 186.0 98.9 188.5 100.5 192.6 101.1 193.0 105.0 193.7 107.5 195.1 109.8 197.0 110.4 198.0 110.6 199.5 109.2 205.5 108.2 208.0 106.5 210.2 103.5 213.0 99.3 220.0 94.6 225.0 92.8 230.5 91.6 232.5 88.0 235.0 85.0 237.7 80.0 240.1 76.5 240.5M75.5 235.5 75.5 234.7 75.5 235.5M75.0 240.5 73.0 240.7 72.0 240.4 69.0 235.6 67.5 234.3 67.0 234.3 65.7 236.5 64.1 238.0 62.5 238.8 60.5 239.2 58.5 238.7 57.0 237.6 56.1 236.0 56.0 234.5 57.0 232.2 59.5 230.8 62.0 230.9 66.0 232.8 66.5 232.4 66.7 227.5 68.6 218.0 72.4 206.0 75.0 199.4 76.4 193.0 77.0 191.8 78.0 191.0 79.5 190.7 81.0 191.3 81.8 192.5 81.9 194.0 78.5 201.3 76.3 210.5 72.2 219.0 72.2 223.5 73.5 226.6 74.5 227.4 75.5 227.6 80.2 225.5 83.1 222.5 83.5 221.0 82.3 215.0 83.3 210.5 87.0 204.0 92.0 199.3 93.9 197.0 94.5 195.5 93.6 194.0 90.5 191.8 88.5 190.7 82.0 188.2 80.5 187.2 79.1 185.5 78.5 183.0 79.4 180.5 81.5 178.9 84.5 178.5 87.1 179.5 90.0 182.3 97.0 187.2 98.7 189.5 99.6 193.0 105.0 193.9 108.3 196.0 110.0 198.0 110.1 200.0 109.3 204.0 108.0 207.2 106.0 209.5 102.5 211.6 98.8 219.0 93.5 224.4 92.2 230.0 91.0 232.2 88.0 234.3 86.3 236.5 84.5 237.8 79.5 240.1 75.0 240.5M75.2 236.0 76.2 235.0 76.0 234.0 75.5 233.7 75.0 233.9 74.8 234.5 74.9 236.0 75.2 236.0M96.5 192.5 94.5 192.5 89.5 189.7 84.0 188.3 81.0 187.0 79.6 185.5 79.0 184.0 79.0 182.5 79.6 181.0 80.5 180.0 82.7 179.0 85.0 178.9 86.5 179.5 87.7 180.5 90.5 184.1 96.5 188.5 97.4 191.0 96.5 192.5M82.9 182.5 83.9 181.0 83.0 180.3 82.0 180.7 81.4 182.0 82.0 183.0 82.9 182.5M78.0 240.0 73.0 240.5 72.0 240.0 67.7 232.5 67.0 228.0 68.9 218.0 72.7 206.0 75.2 199.5 76.9 192.5 78.0 191.4 79.5 191.1 81.0 192.0 81.6 193.5 81.2 195.0 78.1 201.5 76.1 210.0 71.9 219.0 71.8 222.5 72.2 225.0 73.0 227.0 75.0 229.0 81.0 226.5 84.0 223.7 86.4 222.0 86.6 221.0 85.0 218.0 84.4 216.0 84.4 214.0 84.9 212.0 88.5 204.5 91.5 201.8 96.0 196.1 97.5 194.8 99.5 194.2 103.5 194.0 106.0 194.8 108.7 197.0 109.6 199.0 109.2 202.5 107.9 206.0 105.5 208.2 100.5 209.0 99.6 210.5 98.2 215.5 96.9 218.0 95.0 220.1 91.0 222.8 91.5 228.0 90.4 231.0 87.5 233.7 86.2 236.0 85.1 237.0 80.0 239.7 78.0 240.0M62.0 238.5 60.5 238.8 59.0 238.5 57.5 237.6 56.7 236.5 56.5 233.9 57.3 232.5 58.7 231.5 60.5 231.0 62.0 231.3 63.5 232.0 64.8 233.5 65.1 235.0 64.6 236.5 63.5 237.7 62.0 238.5M75.1 236.5 76.7 235.5 77.1 234.5 76.0 232.7 75.0 232.3 74.4 233.0 74.2 234.5 74.5 236.2 75.1 236.5M60.2 234.5 60.5 233.5 60.2 233.0 59.0 232.9 58.6 233.5 58.6 234.5 59.5 234.9 60.2 234.5M87.5 188.0 84.0 187.8 81.0 186.4 79.4 184.0 79.5 182.5 80.0 181.4 80.5 181.1 81.2 183.5 82.5 184.2 83.0 184.0 84.5 182.0 84.4 179.5 85.5 179.5 87.0 180.3 88.3 182.0 90.0 186.5 89.5 187.5 87.5 188.0M75.0 240.0 73.0 240.2 71.9 239.5 68.1 232.0 67.2 227.5 69.2 218.0 72.9 206.0 75.5 199.5 76.8 193.5 77.6 192.0 79.5 191.5 81.0 192.5 81.2 194.0 78.0 201.0 75.7 210.0 71.6 219.0 71.4 222.0 71.8 224.5 74.2 230.5 73.8 234.0 74.2 236.5 74.5 237.0 76.0 236.5 77.7 235.0 77.7 234.0 76.3 231.0 76.8 230.0 81.5 227.4 85.0 223.9 87.0 223.4 89.0 224.1 90.2 225.5 90.6 228.0 89.6 230.5 87.5 232.8 85.8 236.0 85.0 236.8 79.5 239.7 75.0 240.0M92.5 218.6 90.5 218.9 88.5 218.2 87.2 216.5 86.9 214.5 87.4 212.5 89.9 207.0 91.5 204.9 93.4 200.5 96.5 196.5 99.0 194.8 103.0 194.2 106.0 195.1 108.3 197.0 109.2 199.0 108.9 202.5 107.8 205.5 106.5 206.9 105.0 207.8 100.5 208.1 99.3 208.5 96.3 212.0 95.4 215.5 94.6 217.0 92.5 218.6M62.0 238.1 60.5 238.4 58.7 238.0 57.5 237.0 56.8 235.5 57.0 234.2 57.5 234.1 57.9 235.0 59.0 235.9 60.7 235.5 61.4 234.0 60.5 232.0 61.0 231.6 62.5 231.9 63.4 232.5 64.4 234.5 63.9 236.5 62.0 238.1M87.0 187.1 85.0 187.5 82.5 186.9 80.7 185.5 80.3 184.0 82.0 184.8 83.5 184.6 85.0 182.5 85.5 180.3 86.5 180.4 87.9 182.0 88.5 184.0 88.2 186.0 87.0 187.1M79.0 239.5 73.0 239.9 72.3 239.5 68.2 231.5 67.4 227.5 69.1 221.0 69.5 218.0 73.0 206.5 75.8 199.5 77.0 193.5 78.0 192.0 79.0 191.7 80.5 192.3 81.0 194.0 77.6 201.0 75.6 209.5 71.2 219.0 71.2 223.0 72.0 226.5 73.5 230.0 73.5 234.5 74.0 236.9 74.5 237.4 75.0 237.2 78.0 235.7 78.3 234.0 77.7 231.5 78.0 230.6 82.0 228.0 83.7 225.5 85.0 224.4 87.0 224.0 88.5 224.6 89.7 226.0 90.0 227.5 89.4 229.5 87.0 232.9 85.4 236.0 83.5 237.4 79.0 239.5M96.0 209.5 94.5 209.9 93.5 209.7 92.9 209.0 92.5 207.5 93.4 202.5 95.7 198.0 98.0 195.7 100.5 194.7 104.0 194.6 106.5 195.7 108.3 197.5 108.9 199.5 108.7 202.5 107.4 205.5 105.0 207.3 99.5 207.7 96.0 209.5M60.5 238.0 58.8 237.5 58.1 236.5 59.5 236.6 61.0 236.0 61.9 234.5 62.0 232.5 62.5 232.5 63.8 234.0 63.7 236.0 62.5 237.4 60.5 238.0M85.5 187.0 83.5 186.8 82.2 186.0 84.3 184.5 86.0 181.3 86.5 181.0 87.7 182.5 88.0 184.5 87.4 186.0 85.5 187.0M74.0 239.5 73.0 239.6 72.3 239.0 68.6 231.5 67.6 227.5 73.0 207.1 76.2 199.5 77.3 193.5 78.0 192.3 79.0 192.0 80.3 192.5 80.7 194.0 77.2 201.0 75.3 209.5 70.8 219.0 70.8 222.5 73.1 230.5 73.2 234.5 73.8 237.5 74.5 237.7 78.0 236.3 78.8 234.5 78.8 232.0 79.1 231.0 82.0 228.7 85.0 224.8 86.5 224.4 88.3 225.0 89.4 226.5 89.4 228.0 85.5 235.5 84.6 236.5 79.5 239.2 74.0 239.5M96.5 208.1 95.0 208.1 94.1 207.5 93.6 205.0 94.8 200.5 96.9 197.0 99.5 195.2 102.0 194.7 104.5 194.9 107.0 196.3 108.3 198.0 108.7 200.0 108.3 203.0 107.0 205.6 104.5 207.2 99.0 207.3 96.5 208.1M62.0 237.1 60.8 237.0 63.0 233.8 63.4 235.5 62.0 237.1M85.5 186.6 84.0 186.5 83.5 186.0 86.5 182.0 87.0 182.1 87.6 183.5 87.4 185.0 86.7 186.0 85.5 186.6M77.0 200.0 76.9 197.0 77.5 193.7 78.2 192.5 79.5 192.3 80.3 193.0 80.5 194.0 77.0 200.0M104.0 207.0 96.0 207.0 94.6 206.0 94.5 203.0 95.8 199.0 97.5 196.8 100.0 195.3 103.0 194.9 105.0 195.3 107.0 196.6 108.3 198.5 108.4 201.5 107.5 204.4 106.0 206.2 104.0 207.0M71.5 215.3 73.5 206.3 76.5 200.7 75.5 208.0 74.5 210.4 71.5 215.3M103.6 203.5 104.6 202.5 104.5 201.8 102.5 202.0 101.5 202.8 102.0 203.8 103.6 203.5M79.0 239.0 73.0 239.1 69.3 232.5 67.9 227.5 69.0 223.6 70.0 222.1 72.7 230.0 72.9 235.5 73.5 238.1 74.0 238.4 78.3 236.5 80.0 231.5 82.5 228.8 84.6 225.5 86.0 224.8 87.0 224.8 88.7 226.0 89.1 227.0 88.9 228.5 85.2 235.5 83.5 236.9 79.0 239.0M85.5 186.1 84.7 186.0 84.7 185.5 86.5 183.1 87.0 183.1 87.0 185.0 85.5 186.1M78.0 197.7 77.5 197.9 77.3 197.0 77.7 194.0 78.5 192.6 79.5 192.6 80.0 193.0 80.2 194.0 78.0 197.7M104.5 206.7 102.5 206.9 99.0 206.6 96.5 206.2 95.5 205.5 95.0 203.5 95.7 200.0 97.1 197.5 99.0 196.0 101.5 195.2 104.5 195.3 106.5 196.4 107.8 198.0 108.3 200.5 107.7 203.5 106.4 205.5 104.5 206.7M102.5 204.5 103.9 204.0 105.1 203.0 105.7 202.0 105.5 200.9 104.3 200.5 102.0 200.9 100.9 201.5 100.5 202.5 100.8 203.5 101.5 204.2 102.5 204.5M73.0 211.7 72.8 210.5 73.5 207.2 74.5 204.8 75.5 203.5 75.7 205.0 75.2 208.0 74.5 209.7 73.0 211.7M72.0 235.9 69.4 232.0 68.1 228.0 69.0 224.4 70.0 223.4 72.5 230.5 72.4 234.5 72.0 235.9M79.5 238.6 76.5 238.5 76.4 238.0 78.5 236.9 80.8 231.5 83.0 228.7 84.5 226.0 86.0 225.1 87.5 225.3 88.6 226.5 88.7 228.0 85.0 235.5 83.5 236.7 79.5 238.6M78.0 196.7 77.7 195.5 78.1 193.5 78.5 193.0 79.5 192.9 79.9 193.5 79.7 194.5 78.0 196.7M104.0 206.5 98.0 206.2 96.5 205.5 95.7 204.5 95.5 202.0 96.1 199.5 97.5 197.4 99.5 196.0 102.0 195.4 104.5 195.5 106.4 196.5 107.6 198.0 108.0 200.5 107.4 203.5 106.1 205.5 104.0 206.5M103.8 204.5 106.0 202.5 106.2 201.5 105.9 200.5 104.5 199.8 101.0 200.2 100.0 201.5 100.5 203.8 102.0 204.9 103.8 204.5M74.0 209.5 73.5 209.6 73.5 208.5 74.0 206.8 75.0 205.2 75.0 207.4 74.0 209.5M71.5 234.3 69.5 231.7 68.4 228.5 68.5 226.5 69.5 224.4 70.0 224.4 70.5 225.2 72.1 230.0 72.2 233.0 72.0 234.0 71.5 234.3M80.0 238.0 78.1 238.0 81.4 231.5 85.0 225.9 86.0 225.3 87.5 225.6 88.3 226.5 88.4 228.0 84.8 235.5 83.0 236.8 80.0 238.0M78.5 195.4 78.4 194.0 79.0 193.2 79.5 193.5 79.5 194.0 78.5 195.4M104.5 206.1 99.0 206.1 97.3 205.5 96.2 204.5 95.8 202.5 96.2 200.0 97.2 198.0 99.0 196.5 101.5 195.7 104.0 195.6 106.0 196.4 107.3 198.0 107.8 200.0 107.0 203.5 106.0 205.2 104.5 206.1M103.6 205.0 106.2 203.0 106.7 202.0 106.6 201.0 105.5 199.6 101.5 198.1 99.7 200.5 99.8 203.0 100.5 204.3 101.5 205.2 102.5 205.3 103.6 205.0M71.5 233.3 71.0 233.2 70.0 232.0 68.8 229.0 68.6 227.0 69.5 225.2 70.0 225.2 70.5 226.0 71.7 229.5 72.0 232.0 71.5 233.3M80.5 237.5 79.4 237.5 79.5 236.5 81.8 231.5 84.8 226.5 86.0 225.6 87.5 225.9 88.2 227.0 88.1 228.0 84.8 235.0 83.5 236.3 80.5 237.5M101.0 205.6 100.0 205.9 98.5 205.7 96.7 204.5 96.0 202.5 96.6 199.5 97.9 197.5 99.5 196.5 103.0 195.8 104.8 196.0 107.0 197.8 107.3 200.0 107.0 200.4 102.5 197.4 101.5 197.3 100.5 197.9 99.5 199.6 99.1 201.5 99.7 203.5 101.0 205.6M105.5 205.1 105.0 205.3 104.7 205.0 105.5 204.4 106.0 204.5 105.5 205.1M104.5 205.6 104.0 205.5 104.5 205.3 104.8 205.5 104.5 205.6M71.5 232.1 71.0 232.5 70.5 232.1 69.2 229.5 68.8 227.5 69.5 226.0 70.0 226.1 71.3 229.0 71.5 232.1M81.0 237.0 80.2 237.0 80.0 236.5 82.2 231.5 85.1 226.5 86.0 225.8 87.0 225.9 87.7 226.5 87.9 227.5 84.6 235.0 83.5 236.0 81.0 237.0M107.0 199.2 106.5 199.3 102.5 196.5 103.5 196.0 105.3 196.5 106.5 197.5 107.0 199.2M100.0 205.5 98.7 205.5 97.5 204.9 96.5 203.5 96.3 202.0 96.6 200.0 97.5 198.3 99.0 197.1 100.0 196.8 100.4 197.0 99.3 199.0 98.8 201.0 99.0 202.5 100.1 205.0 100.0 205.5M81.5 236.6 80.8 236.5 80.6 236.0 82.3 232.0 85.4 226.5 86.0 226.1 87.0 226.2 87.6 227.5 84.4 235.0 83.0 236.1 81.5 236.6M71.0 231.5 70.5 231.3 69.5 229.5 69.2 228.0 69.5 226.9 70.0 227.1 71.0 229.0 71.0 231.5" fill="none" stroke="#4a3aaa" stroke-width="0.38" stroke-opacity="0.8"/>
<path d="M48.9 217.7h0.9v0.9h-0.9zM51.0 178.8h0.9v0.9h-0.9zM58.1 198.1h0.9v0.9h-0.9zM55.6 205.1h0.9v0.9h-0.9zM51.9 182.0h0.9v0.9h-0.9zM42.9 210.5h0.9v0.9h-0.9zM60.3 187.8h0.9v0.9h-0.9zM60.4 208.6h0.9v0.9h-0.9zM56.5 200.2h0.9v0.9h-0.9zM63.1 195.4h0.9v0.9h-0.9zM49.7 189.8h0.9v0.9h-0.9zM58.8 186.1h0.9v0.9h-0.9zM48.4 210.9h0.9v0.9h-0.9zM44.3 189.1h0.9v0.9h-0.9zM52.4 218.7h0.9v0.9h-0.9zM48.6 213.6h0.9v0.9h-0.9zM39.5 203.0h0.9v0.9h-0.9zM60.9 211.3h0.9v0.9h-0.9zM44.7 198.0h0.9v0.9h-0.9zM59.6 210.0h0.9v0.9h-0.9zM47.7 205.8h0.9v0.9h-0.9zM53.5 210.3h0.9v0.9h-0.9zM54.9 196.8h0.9v0.9h-0.9zM59.1 198.5h0.9v0.9h-0.9zM59.1 214.2h0.9v0.9h-0.9zM65.0 201.1h0.9v0.9h-0.9zM57.6 188.5h0.9v0.9h-0.9zM43.1 198.7h0.9v0.9h-0.9zM63.8 190.9h0.9v0.9h-0.9zM60.8 182.3h0.9v0.9h-0.9zM47.7 184.2h0.9v0.9h-0.9zM57.4 189.5h0.9v0.9h-0.9zM45.2 202.8h0.9v0.9h-0.9zM45.6 210.7h0.9v0.9h-0.9zM59.1 196.7h0.9v0.9h-0.9zM56.4 209.4h0.9v0.9h-0.9zM49.5 177.9h0.9v0.9h-0.9zM59.0 195.8h0.9v0.9h-0.9zM49.6 186.5h0.9v0.9h-0.9zM54.9 209.8h0.9v0.9h-0.9zM53.5 197.3h0.9v0.9h-0.9zM56.1 196.6h0.9v0.9h-0.9zM56.7 179.2h0.9v0.9h-0.9zM48.6 201.0h0.9v0.9h-0.9zM48.7 215.5h0.9v0.9h-0.9zM53.8 202.3h0.9v0.9h-0.9zM54.5 212.6h0.9v0.9h-0.9zM59.3 181.9h0.9v0.9h-0.9zM56.7 206.6h0.9v0.9h-0.9zM53.7 174.6h0.9v0.9h-0.9zM49.3 218.5h0.9v0.9h-0.9zM62.0 190.9h0.9v0.9h-0.9zM50.3 218.9h0.9v0.9h-0.9zM61.8 212.2h0.9v0.9h-0.9zM59.4 183.1h0.9v0.9h-0.9z" fill="#3a3a9a"/>
<path d="M71.1 238.3h0.9v0.9h-0.9zM75.1 200.5h0.9v0.9h-0.9zM104.4 204.9h0.9v0.9h-0.9zM72.3 208.0h0.9v0.9h-0.9zM105.0 207.5h0.9v0.9h-0.9zM85.3 230.7h0.9v0.9h-0.9zM97.0 212.9h0.9v0.9h-0.9zM87.7 183.6h0.9v0.9h-0.9zM95.1 205.6h0.9v0.9h-0.9zM101.9 207.9h0.9v0.9h-0.9zM85.4 217.0h0.9v0.9h-0.9zM105.9 207.0h0.9v0.9h-0.9zM95.8 203.2h0.9v0.9h-0.9zM82.5 230.0h0.9v0.9h-0.9zM56.2 234.3h0.9v0.9h-0.9zM106.1 205.9h0.9v0.9h-0.9zM84.5 214.9h0.9v0.9h-0.9zM105.0 206.2h0.9v0.9h-0.9zM67.9 232.5h0.9v0.9h-0.9zM88.1 219.3h0.9v0.9h-0.9zM107.6 205.0h0.9v0.9h-0.9zM70.1 225.9h0.9v0.9h-0.9zM87.3 208.2h0.9v0.9h-0.9zM86.5 231.8h0.9v0.9h-0.9zM75.9 194.3h0.9v0.9h-0.9zM90.1 206.2h0.9v0.9h-0.9zM104.3 201.6h0.9v0.9h-0.9zM76.8 195.1h0.9v0.9h-0.9zM108.0 196.9h0.9v0.9h-0.9zM107.7 196.2h0.9v0.9h-0.9zM75.2 203.6h0.9v0.9h-0.9zM71.6 233.1h0.9v0.9h-0.9zM82.4 233.6h0.9v0.9h-0.9zM104.7 196.5h0.9v0.9h-0.9zM90.9 215.8h0.9v0.9h-0.9zM75.3 197.0h0.9v0.9h-0.9zM91.8 189.1h0.9v0.9h-0.9zM70.7 234.8h0.9v0.9h-0.9zM90.7 213.0h0.9v0.9h-0.9zM106.7 199.2h0.9v0.9h-0.9zM87.3 180.8h0.9v0.9h-0.9zM87.9 208.8h0.9v0.9h-0.9zM75.0 206.2h0.9v0.9h-0.9zM89.0 220.1h0.9v0.9h-0.9zM93.0 219.2h0.9v0.9h-0.9zM90.1 229.3h0.9v0.9h-0.9zM80.7 184.8h0.9v0.9h-0.9zM74.5 209.9h0.9v0.9h-0.9zM76.6 230.7h0.9v0.9h-0.9zM71.5 237.4h0.9v0.9h-0.9zM76.4 200.8h0.9v0.9h-0.9zM85.0 236.0h0.9v0.9h-0.9zM79.6 182.9h0.9v0.9h-0.9zM83.9 182.7h0.9v0.9h-0.9zM101.5 199.4h0.9v0.9h-0.9z" fill="#e07a30"/>
<path d="M79 193.7L75.4 203.9L70.3 218.5L69.5 227.2L73.2 238.9L79 238.2L83.4 234.5" fill="none" stroke="#3b2a9c" stroke-width="2.2" stroke-opacity="0.75" stroke-linejoin="round" stroke-linecap="round"/>
<ellipse cx="102.4" cy="201" rx="6" ry="4.5" fill="none" stroke="#3b2a9c" stroke-width="1.2" stroke-opacity="0.7"/>
<rect x="30.50" y="167.70" width="90.10" height="81.40" fill="none" stroke="#8c8c8c" stroke-width="1"/>
<path d="M36 249.1L36 251.6" stroke="#444" stroke-width="0.8" fill="none"/>
<text x="36.00" y="257.10" font-size="7.6" text-anchor="middle">-9</text>
<path d="M54.1 249.1L54.1 251.6" stroke="#444" stroke-width="0.8" fill="none"/>
<text x="54.10" y="257.10" font-size="7.6" text-anchor="middle">-5.0</text>
<path d="M72.5 249.1L72.5 251.6" stroke="#444" stroke-width="0.8" fill="none"/>
<text x="72.50" y="257.10" font-size="7.6" text-anchor="middle">0</text>
<path d="M91.3 249.1L91.3 251.6" stroke="#444" stroke-width="0.8" fill="none"/>
<text x="91.30" y="257.10" font-size="7.6" text-anchor="middle">5.0</text>
<path d="M109.2 249.1L109.2 251.6" stroke="#444" stroke-width="0.8" fill="none"/>
<text x="109.20" y="257.10" font-size="7.6" text-anchor="middle">10</text>
<path d="M28 181L30.5 181" stroke="#444" stroke-width="0.8" fill="none"/>
<text x="26.50" y="183.60" font-size="7.6" text-anchor="end">5.0</text>
<path d="M28 206.5L30.5 206.5" stroke="#444" stroke-width="0.8" fill="none"/>
<text x="26.50" y="209.10" font-size="7.6" text-anchor="end">0</text>
<path d="M28 232.3L30.5 232.3" stroke="#444" stroke-width="0.8" fill="none"/>
<text x="26.50" y="234.90" font-size="7.6" text-anchor="end">-5.0</text>
<text x="13.20" y="195.30" font-size="14" text-anchor="middle" transform="rotate(-90 13.20 195.30)">UMAP-1</text>
<text x="63.00" y="272.70" font-size="14">UMAP-2</text>
<path d="M5.5 269L5.5 242" stroke="#000" stroke-width="1" fill="none"/>
<path d="M5.50 236.80L9.24 243.81L1.76 243.81Z" fill="#000"/>
<path d="M5.5 269L33 269" stroke="#000" stroke-width="1" fill="none"/>
<path d="M39.70 269.00L32.69 265.26L32.69 272.74Z" fill="#000"/>
<path d="M165.50 164.60L169.10 171.90L161.90 171.90Z" fill="#201c84" stroke="#111" stroke-width="0.5" stroke-linejoin="round"/>
<text x="174.00" y="174.00" font-size="13.4">1μg PEPCK mRNA</text>
<text x="174.00" y="192.30" font-size="13.4">+ 1μg empty LNP</text>
<path d="M166.40 206.10L170.00 213.60L162.80 213.60Z" fill="#e23c12" stroke="#111" stroke-width="0.5" stroke-linejoin="round"/>
<text x="174.00" y="215.00" font-size="13.4">1μg PEPCK mRNA</text>
<text x="174.00" y="233.50" font-size="13.4">+ 1μg IL-12 mRNA</text>
<rect x="183.00" y="254.60" width="88.60" height="8.70" fill="url(#jet)"/>
<text x="183.50" y="276.00" font-size="13.4">lo</text>
<text x="258.40" y="276.00" font-size="13.4">hi</text>
<text x="336.80" y="162.20" font-size="14" font-weight="bold">G</text>
<text x="411.80" y="162.00" font-size="13.7" text-anchor="middle">pdLN</text>
<path d="M389.5 232.0 384.5 232.4 380.5 231.8 377.0 230.5 373.8 228.0 371.3 224.5 369.9 220.5 369.5 216.0 370.2 212.0 371.8 208.5 374.4 205.0 377.5 202.4 381.0 200.4 386.5 198.4 392.0 197.2 396.5 196.9 400.5 197.7 403.0 198.8 405.2 200.5 406.9 202.5 408.3 205.0 409.1 207.5 409.4 210.5 409.2 213.5 408.4 217.0 405.8 222.5 404.0 225.0 401.5 227.3 396.5 230.3 389.5 232.0M389.5 231.5 384.5 231.9 380.5 231.4 377.0 230.0 374.0 227.6 371.7 224.5 370.3 220.5 369.9 216.0 370.7 212.0 372.3 208.5 374.5 205.5 377.0 203.3 380.5 201.2 385.5 199.2 391.5 197.7 396.0 197.3 400.0 198.0 402.5 199.0 404.6 200.5 406.4 202.5 407.9 205.0 408.6 207.5 408.9 210.5 408.7 213.5 407.9 217.0 405.2 222.5 401.0 227.1 396.0 229.9 389.5 231.5M389.5 231.0 385.0 231.4 381.0 231.0 377.5 229.7 374.5 227.5 372.2 224.5 370.7 220.5 370.3 216.0 371.1 212.0 372.8 208.5 374.7 206.0 377.5 203.5 381.0 201.5 386.5 199.4 392.0 198.0 396.0 197.7 400.0 198.4 402.5 199.5 404.5 200.9 406.3 203.0 407.4 205.0 408.2 207.5 408.5 210.5 407.5 216.5 404.9 222.0 401.0 226.3 396.0 229.3 389.5 231.0M389.0 230.6 384.5 230.9 380.5 230.4 377.0 228.9 374.5 226.9 372.2 223.5 371.0 220.0 370.7 216.0 371.6 212.0 373.3 208.5 375.3 206.0 378.0 203.7 381.5 201.8 387.0 199.8 392.5 198.4 396.5 198.2 400.0 198.8 402.5 200.0 404.5 201.5 406.1 203.5 407.1 205.5 408.0 210.5 407.8 213.5 407.0 216.5 404.2 222.0 400.5 226.0 395.5 228.9 389.0 230.6M389.0 230.0 384.5 230.4 381.0 230.0 377.5 228.6 374.8 226.5 372.7 223.5 371.4 219.5 371.2 215.5 372.0 212.0 373.5 209.0 375.5 206.5 378.0 204.4 381.5 202.4 387.0 200.3 392.5 198.9 396.5 198.6 400.0 199.3 402.5 200.5 404.3 202.0 405.9 204.0 406.8 206.0 407.6 211.0 406.4 216.5 403.9 221.5 400.0 225.7 395.5 228.3 389.0 230.0M388.5 229.5 384.0 229.9 380.5 229.3 377.0 227.7 374.5 225.5 372.7 222.5 371.7 219.0 371.7 215.0 372.7 211.5 374.5 208.5 376.5 206.2 379.5 204.0 383.0 202.3 389.0 200.2 393.5 199.2 397.0 199.1 400.5 200.0 402.5 201.1 404.5 202.9 405.9 205.0 406.7 207.0 407.0 212.0 405.6 217.0 402.8 222.0 399.0 225.7 394.5 228.0 388.5 229.5M388.0 229.0 384.0 229.4 381.0 228.9 377.5 227.4 375.0 225.3 373.2 222.5 372.1 218.5 372.2 215.0 373.3 211.5 374.7 209.0 377.0 206.5 379.5 204.6 383.0 202.9 389.5 200.6 393.5 199.7 397.0 199.6 400.5 200.5 404.0 203.0 405.3 205.0 406.1 207.0 406.5 209.5 406.4 212.0 405.0 217.0 402.3 221.5 398.5 225.2 394.0 227.5 388.0 229.0M387.5 228.5 384.0 228.8 381.0 228.3 377.5 226.7 375.0 224.4 373.4 221.5 372.6 218.0 372.7 214.5 373.8 211.5 375.4 209.0 377.5 206.8 380.5 204.7 383.5 203.4 393.5 200.2 397.0 200.1 400.5 201.0 403.7 203.5 405.0 205.5 405.7 207.5 405.9 212.0 404.3 217.0 401.5 221.5 398.0 224.8 394.0 226.8 387.5 228.5M386.5 228.0 383.5 228.1 380.5 227.4 377.0 225.5 375.0 223.5 373.7 221.0 373.0 217.5 373.2 214.5 374.4 211.5 376.0 209.1 378.0 207.1 380.5 205.4 384.0 203.8 391.0 201.3 394.0 200.6 397.5 200.7 400.5 201.6 403.5 204.1 404.7 206.0 405.3 208.0 405.2 212.5 403.4 217.5 400.6 221.5 397.0 224.6 393.0 226.4 386.5 228.0M385.5 227.5 383.0 227.4 380.2 226.5 377.0 224.7 375.1 222.5 373.8 219.5 373.5 216.5 373.9 214.0 375.3 211.0 377.5 208.3 380.5 206.1 391.0 201.8 394.0 201.1 396.5 201.1 399.0 201.6 400.9 202.5 402.5 203.8 403.8 205.5 404.9 209.5 404.3 213.5 402.1 218.5 399.5 221.7 396.0 224.3 391.5 226.1 385.5 227.5M387.0 226.6 384.5 226.9 382.0 226.4 377.5 224.0 376.0 222.7 374.6 220.0 374.0 217.0 374.2 214.5 375.3 212.0 377.5 209.1 380.0 207.1 391.0 202.4 395.5 201.6 398.0 201.9 400.0 202.7 401.8 204.0 403.0 205.4 404.2 209.0 403.8 213.0 401.6 218.0 399.5 220.9 396.5 223.2 393.0 224.8 387.0 226.6M386.0 226.0 384.0 226.1 382.0 225.5 377.5 223.0 376.0 221.5 374.9 219.0 374.5 216.5 374.8 214.5 375.9 212.0 378.0 209.5 380.5 207.6 391.5 202.8 396.0 202.2 400.0 203.4 402.6 206.0 403.6 209.5 403.2 212.5 400.7 218.5 398.5 221.0 396.0 222.7 386.0 226.0M386.5 225.1 384.5 225.3 383.0 225.0 378.0 222.2 376.6 221.0 375.6 219.0 375.1 216.5 375.4 214.5 376.3 212.5 378.5 209.9 381.0 208.1 387.5 205.6 392.0 203.3 396.0 202.8 399.5 203.9 402.0 206.5 402.9 209.5 402.6 212.0 400.2 218.5 398.5 220.4 396.5 221.8 386.5 225.1M387.0 224.1 385.0 224.4 383.5 224.2 377.3 220.5 376.2 218.5 375.7 216.5 376.0 214.5 376.7 213.0 378.5 210.8 381.0 208.9 384.0 207.5 387.5 206.6 392.0 203.9 395.5 203.4 399.0 204.4 401.1 206.5 402.0 209.5 400.7 216.0 399.7 218.5 398.4 220.0 396.5 221.3 387.0 224.1M386.5 223.1 385.0 223.4 383.5 223.1 377.6 219.5 376.7 218.0 376.4 216.0 376.6 214.5 377.4 213.0 379.0 211.3 381.5 209.4 384.5 208.1 388.0 207.9 390.5 205.5 392.5 204.4 395.5 204.0 398.5 205.0 400.4 207.0 401.2 209.5 400.3 216.0 399.2 218.5 397.5 220.3 395.5 221.3 390.0 221.9 386.5 223.1M385.5 222.1 383.5 221.8 379.1 219.5 378.0 218.6 377.1 216.0 377.3 214.5 378.3 213.0 381.0 210.7 385.0 208.8 386.5 209.1 388.5 211.4 389.0 210.8 389.4 208.5 390.1 207.0 391.5 205.7 393.0 205.0 396.0 204.9 398.4 206.0 399.9 208.0 400.2 210.0 399.9 216.0 398.8 218.5 397.0 220.1 395.0 221.0 389.0 220.9 385.5 222.1M395.0 220.6 392.0 220.6 388.0 219.3 384.5 220.2 381.5 219.5 379.5 218.7 378.5 217.7 377.9 216.5 378.0 215.0 380.0 212.4 385.0 209.8 386.5 210.4 388.0 213.1 388.5 213.1 389.5 211.6 390.4 208.5 391.3 207.0 393.5 205.7 396.0 205.7 398.0 207.0 398.9 208.5 399.6 215.0 399.2 217.0 398.3 218.5 397.0 219.7 395.0 220.6M395.0 220.1 392.5 220.2 390.5 219.5 388.8 218.0 388.3 216.5 388.7 214.5 391.5 208.2 392.8 207.0 394.5 206.5 396.3 207.0 397.7 208.5 398.6 211.0 399.1 214.0 399.0 216.0 398.1 218.0 396.5 219.5 395.0 220.1M384.0 218.0 382.5 218.3 380.5 218.0 379.2 217.0 378.9 215.5 379.5 214.1 380.8 213.0 384.4 211.0 385.5 210.9 386.5 212.2 386.7 214.5 385.5 216.9 384.0 218.0M395.3 216.5 395.7 216.0 395.5 215.0 394.0 215.0 394.0 216.3 395.3 216.5M395.0 219.5 393.0 219.8 391.0 219.1 389.8 218.0 389.2 216.5 389.6 214.0 391.5 209.9 393.0 208.2 394.5 207.7 396.0 208.3 397.0 209.3 398.1 211.5 398.5 213.5 397.9 217.0 396.8 218.5 395.0 219.5M382.0 216.6 381.1 216.5 380.5 216.0 380.7 215.0 382.0 214.0 383.6 214.0 383.3 215.5 382.0 216.6M395.3 217.5 396.7 216.5 396.6 215.0 395.5 214.1 394.0 214.2 393.1 215.0 393.0 216.1 394.0 217.3 395.3 217.5M393.5 218.8 392.0 218.8 390.7 218.0 390.1 217.0 390.0 215.5 390.8 212.5 391.9 210.5 393.0 209.4 394.5 209.0 395.5 209.3 396.8 210.5 397.7 213.0 397.5 213.8 394.5 213.5 392.5 214.5 392.2 216.0 393.8 218.5 393.5 218.8" fill="none" stroke="#e08a3a" stroke-width="0.42" stroke-opacity="0.85"/>
<path d="M437.0 243.5 430.0 242.8 424.5 241.6 421.9 240.0 418.0 235.5 417.0 234.0 416.3 232.0 416.1 226.5 415.5 224.0 409.4 212.5 408.2 209.0 408.4 206.5 410.5 202.9 412.5 198.4 414.2 192.0 416.6 186.5 422.9 176.5 426.5 173.6 429.0 172.6 430.5 172.7 434.0 174.6 444.5 175.7 448.0 176.9 450.0 178.4 451.7 180.5 452.9 183.0 453.7 186.5 454.4 203.5 454.2 208.0 453.6 212.0 451.2 221.0 450.0 227.0 449.4 228.5 447.5 231.0 447.4 234.5 446.5 236.4 442.5 240.1 437.0 243.5M402.5 201.0 399.5 200.6 397.0 199.0 395.2 196.5 394.6 194.0 395.0 191.0 396.5 188.5 399.0 186.6 402.0 186.0 405.0 186.5 407.5 188.2 409.1 190.5 409.9 193.5 409.3 196.5 408.0 198.5 405.5 200.3 402.5 201.0M437.5 243.1 435.5 243.3 426.0 241.8 423.5 240.8 421.9 239.5 420.0 236.1 417.5 233.4 416.9 231.5 416.8 227.5 416.0 224.5 409.6 212.5 408.4 209.0 408.7 206.0 411.0 202.2 413.0 197.5 414.6 191.5 416.3 187.5 423.4 176.5 426.5 173.9 429.0 172.8 431.0 173.2 434.0 175.1 444.5 176.1 448.0 177.3 450.0 178.9 451.6 181.0 452.7 183.5 453.3 186.5 453.8 208.0 453.1 212.0 450.6 221.0 449.5 227.0 447.2 230.5 447.3 234.0 446.5 236.1 442.5 239.6 437.5 243.1M404.0 200.6 401.0 200.7 398.5 199.8 396.4 198.0 395.1 195.5 394.9 192.5 395.7 190.0 397.5 187.8 400.5 186.4 403.5 186.3 406.0 187.3 408.3 189.5 409.4 192.0 409.4 195.0 408.4 197.5 406.5 199.5 404.0 200.6M436.5 243.1 425.5 241.4 424.0 240.8 422.4 239.5 421.7 238.5 420.5 234.9 418.8 233.5 418.2 232.5 417.8 228.0 415.5 222.6 409.6 212.0 408.5 208.5 408.7 206.5 411.0 202.6 413.0 197.9 414.8 191.5 416.8 187.0 423.8 176.5 426.5 174.1 429.0 173.0 431.0 173.4 434.0 175.6 444.0 176.4 447.5 177.5 449.5 179.0 451.1 181.0 452.3 183.5 452.9 186.5 453.4 204.0 453.2 208.5 452.4 213.0 450.0 221.0 449.0 226.5 446.9 230.0 447.1 234.5 445.5 236.8 438.5 242.2 436.5 243.1M403.0 200.5 400.5 200.4 398.0 199.2 396.0 197.0 395.1 194.5 395.3 191.5 396.5 189.2 398.5 187.4 401.0 186.5 404.0 186.7 406.5 188.0 408.3 190.0 409.2 192.5 409.0 195.5 407.7 198.0 405.5 199.8 403.0 200.5M437.5 242.5 435.5 242.9 426.0 241.2 424.5 240.8 422.7 239.5 421.8 238.0 421.0 234.5 419.6 232.5 419.0 228.5 411.7 215.5 409.4 211.0 408.7 208.5 408.9 206.5 411.0 202.9 413.0 198.2 414.8 192.0 416.7 187.5 424.2 176.5 426.5 174.3 429.0 173.2 431.0 173.6 434.0 176.1 444.0 176.9 447.5 178.0 449.5 179.5 451.0 181.5 452.0 184.0 452.6 186.5 452.5 196.5 452.9 204.5 452.7 208.5 451.8 213.0 449.4 221.0 448.4 226.5 446.5 230.0 447.1 233.0 447.0 234.5 446.0 236.2 437.5 242.5M404.0 200.0 401.5 200.3 399.0 199.5 397.0 198.0 395.6 195.5 395.3 193.0 396.0 190.5 397.5 188.5 400.0 187.1 402.5 186.7 405.3 187.5 407.2 189.0 408.7 191.5 408.9 194.5 408.1 197.0 406.5 198.8 404.0 200.0M436.5 242.6 425.5 240.9 424.0 240.2 422.7 239.0 421.5 234.8 420.3 232.0 419.5 228.4 412.7 217.0 409.6 211.0 408.9 208.5 409.1 206.5 413.0 198.6 415.1 191.5 416.9 187.5 424.5 176.5 427.0 174.2 429.0 173.4 431.0 173.8 433.5 176.3 434.5 176.7 444.0 177.4 447.5 178.5 449.3 180.0 450.8 182.0 451.8 184.5 452.2 187.0 452.2 208.0 451.4 212.5 448.7 221.0 447.7 226.5 446.1 229.5 446.9 232.5 446.8 234.5 445.5 236.4 438.0 242.0 436.5 242.6M404.5 199.6 402.0 200.0 399.5 199.4 397.5 198.1 396.1 196.0 395.6 193.5 396.1 191.0 397.5 188.9 399.5 187.6 402.0 187.0 404.5 187.5 406.8 189.0 408.2 191.0 408.7 193.5 408.2 196.0 406.9 198.0 404.5 199.6M437.5 242.0 435.5 242.4 426.0 240.7 424.5 240.3 423.0 239.0 422.3 237.5 419.7 228.0 417.8 225.5 413.2 217.5 409.8 211.0 409.1 208.5 409.2 206.5 411.5 202.5 413.5 197.7 415.1 192.0 416.8 188.0 425.2 176.0 427.0 174.3 429.0 173.6 431.0 174.0 433.5 176.8 434.5 177.3 444.0 177.9 447.0 178.8 449.0 180.3 450.3 182.0 451.7 186.5 451.4 196.0 451.7 207.5 450.7 212.5 448.0 221.0 447.2 226.0 445.6 229.5 446.7 232.5 446.7 234.5 445.5 236.2 437.5 242.0M403.0 199.6 400.5 199.4 398.5 198.5 397.0 196.9 396.1 194.5 396.2 192.0 397.1 190.0 398.6 188.5 401.0 187.5 403.5 187.5 405.7 188.5 407.5 190.5 408.2 192.5 408.2 195.0 407.3 197.0 405.5 198.7 403.0 199.6M437.0 242.0 435.5 242.2 425.5 240.4 423.2 239.0 422.7 238.0 420.0 228.0 417.8 225.0 413.7 218.0 410.1 211.0 409.2 208.5 409.4 206.5 413.5 198.1 415.3 192.0 416.9 188.0 425.5 176.0 427.0 174.5 429.0 173.7 430.0 173.8 431.5 174.6 434.0 177.6 439.0 178.3 444.0 178.4 447.0 179.4 449.8 182.0 450.7 184.0 451.3 186.5 450.9 196.0 451.2 204.0 451.0 208.5 449.9 213.0 447.4 220.5 446.3 226.5 445.2 229.0 445.3 230.0 446.6 232.5 446.7 234.0 445.5 236.0 437.0 242.0M403.5 199.1 401.5 199.2 399.3 198.5 397.6 197.0 396.6 195.0 396.4 193.0 397.0 190.9 398.5 189.0 400.5 188.0 403.0 187.8 404.9 188.5 406.7 190.0 407.7 192.0 407.8 194.5 407.1 196.5 405.5 198.2 403.5 199.1M402.9 194.0 403.0 193.2 402.5 192.6 401.2 193.0 401.5 194.3 402.5 194.4 402.9 194.0M437.5 241.5 435.5 242.0 431.0 241.3 425.5 240.2 423.5 239.0 422.7 237.5 420.2 228.0 413.9 218.0 410.3 211.0 409.4 208.5 409.6 206.5 413.5 198.4 417.1 188.0 425.7 176.0 427.5 174.4 429.0 173.9 430.5 174.1 431.5 174.8 434.0 178.1 439.0 178.9 444.0 179.0 447.0 180.0 449.5 182.5 450.8 186.5 450.3 196.5 450.6 204.5 450.3 208.5 449.2 213.0 446.7 220.0 445.7 226.0 444.6 229.0 446.4 232.5 446.4 234.5 445.5 235.8 437.5 241.5M403.5 198.5 401.5 198.7 399.5 198.0 398.0 196.7 397.1 195.0 396.9 193.0 397.5 191.1 398.8 189.5 400.7 188.5 403.0 188.4 404.7 189.0 406.0 190.0 407.1 192.0 407.4 194.0 406.8 196.0 405.5 197.5 403.5 198.5M403.2 195.0 403.9 194.0 403.7 192.5 402.5 191.7 401.0 192.0 400.3 193.0 400.5 194.5 402.0 195.4 403.2 195.0M427.1 218.0 428.3 216.5 428.5 215.0 428.0 213.4 427.0 212.7 425.5 213.9 424.6 216.5 424.8 217.5 425.5 218.2 427.1 218.0M437.0 241.5 435.5 241.8 426.0 240.1 424.5 239.6 423.5 238.7 420.5 228.0 414.3 218.5 410.3 210.5 409.6 208.5 409.8 206.5 413.5 198.8 417.3 188.0 426.3 175.5 427.5 174.5 429.0 174.0 430.5 174.3 431.5 175.0 434.0 178.5 439.0 179.5 444.0 179.5 446.5 180.3 449.0 182.7 450.3 186.5 450.4 189.5 449.7 196.5 450.0 204.5 449.7 208.5 448.7 212.5 445.7 220.0 444.9 226.0 443.9 229.0 446.1 232.0 446.4 234.0 445.5 235.6 437.0 241.5M403.5 197.6 400.5 197.4 399.0 196.4 398.0 194.6 398.0 192.5 398.5 191.3 400.6 189.5 403.6 189.5 405.2 190.5 406.2 192.0 406.5 193.6 406.0 195.5 405.0 196.7 403.5 197.6M402.7 196.5 404.0 195.9 404.8 195.0 405.1 193.0 404.5 191.6 403.5 190.7 401.5 190.4 400.5 190.8 399.3 192.0 399.1 194.5 400.5 196.2 402.7 196.5M422.0 201.5 422.5 199.5 422.1 198.5 421.5 198.3 420.5 199.5 420.2 201.0 420.5 201.8 421.0 202.0 422.0 201.5M426.7 219.5 427.9 219.0 429.0 218.0 430.0 215.5 429.0 212.0 428.0 210.6 427.0 210.0 426.0 210.4 425.5 211.1 423.8 216.5 423.9 217.5 424.5 218.6 425.5 219.3 426.7 219.5M436.0 241.6 425.5 239.8 423.6 238.5 420.5 227.6 418.2 224.5 414.2 218.0 410.7 211.0 409.7 208.0 409.9 206.5 414.0 198.0 417.2 188.5 426.1 176.0 427.5 174.7 429.0 174.2 430.0 174.2 431.3 175.0 433.0 178.0 434.0 178.9 439.0 180.1 444.5 180.3 446.5 181.0 448.8 183.5 449.8 187.0 449.0 196.5 449.3 204.0 449.0 208.0 447.9 212.5 444.7 220.0 444.1 226.0 443.2 229.0 443.7 230.0 445.9 232.0 446.2 234.0 445.0 235.8 438.0 240.8 436.0 241.6M423.7 203.5 424.0 202.0 423.5 199.0 422.7 197.5 422.0 197.1 421.0 197.7 420.0 199.4 419.6 202.5 420.0 203.2 421.0 203.5 423.0 203.8 423.7 203.5M427.1 220.5 429.0 219.5 430.4 218.0 431.1 216.5 431.2 215.0 430.6 212.5 429.0 209.5 427.0 207.2 425.5 206.7 425.0 207.6 423.2 217.0 423.5 218.1 424.5 219.4 426.0 220.4 427.1 220.5M437.0 241.1 435.5 241.4 431.0 240.7 425.5 239.6 423.8 238.5 420.6 227.5 414.7 218.5 410.7 210.5 409.9 208.0 410.1 206.5 412.0 203.0 414.5 197.1 417.4 188.5 426.3 176.0 427.5 174.8 429.0 174.3 430.5 174.6 431.5 175.4 433.0 178.4 434.0 179.3 438.5 180.7 444.0 180.9 446.5 181.8 448.4 184.0 449.3 187.0 449.2 190.0 448.3 196.5 448.5 204.0 448.2 208.0 447.0 212.4 443.6 219.5 443.2 226.0 442.5 229.0 442.8 230.0 445.5 231.7 446.1 234.0 445.1 235.5 437.0 241.1M427.4 221.5 429.5 220.4 431.6 218.5 432.4 216.5 432.3 214.5 430.8 210.5 426.2 203.0 423.8 197.5 423.0 196.4 422.0 196.3 421.0 197.1 420.0 198.6 419.1 201.5 419.0 203.2 419.5 204.1 422.0 205.5 423.2 207.5 423.4 210.5 422.7 216.5 423.0 218.0 425.5 220.9 426.5 221.5 427.4 221.5M436.5 241.1 435.0 241.2 426.5 239.6 425.0 239.2 424.0 238.4 420.9 227.5 418.3 224.0 414.6 218.0 410.9 210.5 410.1 208.0 410.3 206.5 414.5 197.5 417.5 188.5 421.5 183.5 426.9 175.5 429.0 174.5 430.5 174.7 431.4 175.5 433.0 178.8 434.0 179.6 439.0 181.6 443.5 181.6 446.0 182.4 447.9 184.5 448.6 187.0 448.5 190.0 447.5 196.5 447.7 204.5 447.3 208.5 446.0 212.3 442.7 218.0 441.9 220.5 442.3 226.0 441.7 230.0 445.0 231.4 445.8 232.5 445.9 234.0 445.0 235.4 436.5 241.1M427.8 222.5 433.0 219.0 433.9 217.5 433.9 215.5 431.7 210.0 426.8 201.5 424.6 197.0 423.5 195.6 422.5 195.4 421.0 196.5 419.5 199.0 418.6 202.0 418.6 204.0 419.0 204.9 421.5 206.9 422.3 208.5 422.6 211.5 422.3 216.5 422.6 218.0 426.0 222.2 427.0 222.7 427.8 222.5M435.5 241.0 425.5 239.2 424.0 238.1 421.1 227.5 414.8 218.0 410.2 208.0 410.5 206.5 414.5 197.9 417.7 188.5 421.7 183.5 426.7 176.0 427.5 175.2 429.0 174.6 430.0 174.7 431.2 175.5 432.9 179.0 434.0 180.0 439.0 182.4 443.5 182.5 445.5 183.1 447.2 185.0 447.9 187.5 446.6 196.0 446.8 204.5 446.3 208.5 444.5 212.8 440.0 218.0 439.4 219.5 441.1 225.5 440.9 230.5 441.5 231.0 444.5 231.3 445.6 232.5 445.7 234.0 445.0 235.2 442.0 236.9 438.0 240.1 435.5 241.0M428.2 223.5 435.3 219.5 436.3 218.5 436.5 217.5 432.2 208.5 425.1 196.0 424.0 194.6 423.0 194.4 421.0 196.0 419.5 198.4 418.4 201.5 418.1 204.5 418.5 205.6 420.6 207.5 421.5 209.3 422.0 212.0 421.9 216.5 422.5 218.5 426.0 223.1 427.0 223.7 428.2 223.5M436.5 240.7 435.0 240.8 426.0 239.1 424.2 238.0 421.3 227.5 415.3 218.5 410.4 208.0 410.6 206.5 414.7 198.0 417.9 188.5 422.0 183.5 426.9 176.0 428.0 175.0 429.0 174.7 431.0 175.5 432.5 178.8 433.5 180.0 439.0 183.5 443.5 183.6 445.0 184.1 446.4 185.5 447.0 187.5 446.8 190.0 445.6 196.0 445.8 204.0 445.4 207.5 443.8 211.5 441.0 214.2 439.5 214.7 438.5 214.6 436.0 212.5 424.5 192.8 424.0 192.7 423.0 193.4 420.5 196.2 419.0 199.0 417.9 202.5 417.9 206.0 420.1 208.5 421.2 211.0 421.9 218.0 426.0 223.9 427.0 224.8 428.0 225.0 433.5 222.3 435.5 221.9 437.0 222.1 438.5 223.2 439.6 225.0 440.0 227.0 440.1 231.0 441.0 231.5 444.0 231.4 445.4 232.5 445.6 234.0 445.0 234.9 436.5 240.7M426.4 189.0 427.6 187.0 427.6 186.0 427.0 185.6 426.0 186.3 425.5 187.5 425.5 189.3 426.4 189.0M436.0 240.6 426.0 238.9 424.4 238.0 421.5 227.5 415.2 218.0 410.6 208.0 410.8 206.5 415.0 197.5 418.0 188.7 422.2 183.5 427.1 176.0 429.0 174.9 431.0 175.7 432.7 179.5 435.9 182.0 438.5 184.6 440.0 185.2 442.5 184.9 444.0 185.2 445.1 186.0 445.8 188.0 444.3 196.0 444.6 203.5 444.3 206.5 443.0 209.8 441.0 211.7 440.0 212.1 438.5 211.9 436.5 210.4 427.5 196.0 426.5 193.5 426.4 192.0 428.2 187.0 428.0 184.9 427.0 185.0 425.5 186.3 424.2 190.5 419.0 198.4 417.4 203.5 417.5 206.9 419.8 209.5 420.7 211.5 421.6 218.0 427.0 226.0 428.0 226.6 432.5 224.1 434.5 223.8 436.0 224.0 437.5 225.0 438.5 226.5 439.4 231.5 440.5 232.0 444.0 231.6 445.1 232.5 445.4 233.5 445.0 234.6 441.9 236.5 437.5 239.9 436.0 240.6M436.5 240.2 435.0 240.4 431.0 239.8 426.0 238.7 424.7 238.0 421.5 227.0 415.7 218.5 410.8 208.0 411.0 206.5 415.3 197.5 418.1 189.0 422.5 183.5 427.3 176.0 429.0 175.0 430.0 175.2 431.0 175.9 432.5 179.7 436.6 183.5 438.3 187.0 439.0 189.8 442.0 187.7 443.0 187.8 443.5 188.4 443.5 190.0 442.6 195.0 443.1 203.0 442.5 206.6 441.5 208.3 440.5 209.1 439.0 209.2 437.5 208.5 435.5 206.2 430.0 197.7 427.9 193.0 427.9 191.0 428.9 185.5 428.5 184.1 428.0 184.0 426.5 184.8 425.3 186.0 423.9 190.0 419.0 197.8 417.1 203.5 416.9 207.0 419.0 209.5 420.1 211.5 421.0 217.0 421.6 218.5 428.0 228.4 429.0 228.6 430.5 226.9 432.0 226.0 434.5 225.8 436.0 226.4 437.0 227.5 438.4 231.5 439.0 232.2 440.5 232.5 443.5 231.8 445.0 232.7 445.2 233.5 444.8 234.5 441.5 236.5 436.5 240.2M431.0 233.0 431.0 232.5 430.0 231.6 429.5 231.6 429.0 233.0 429.5 233.4 431.0 233.0M436.0 240.2 426.0 238.5 424.6 237.5 421.7 227.0 419.1 223.5 415.4 217.5 411.0 208.0 411.3 206.5 415.3 198.0 418.3 189.0 422.5 184.0 427.5 176.0 429.0 175.2 430.0 175.3 430.9 176.0 432.1 179.5 435.3 182.5 436.7 185.0 437.7 188.5 436.4 192.0 438.8 193.5 439.7 195.0 440.6 201.0 440.2 204.0 439.0 205.0 437.5 204.4 430.8 195.5 429.6 192.0 429.4 184.5 429.0 183.2 428.5 183.1 426.3 184.5 425.0 185.9 423.4 190.0 418.8 197.5 416.9 203.0 416.4 207.0 419.6 211.5 421.0 218.0 425.6 225.5 427.3 229.0 428.0 231.0 428.5 234.0 432.5 234.1 433.9 233.5 434.0 232.4 432.9 230.0 432.8 229.5 433.5 228.9 435.5 229.6 437.6 232.0 439.0 232.9 440.5 232.9 443.5 232.1 444.8 233.0 444.5 234.5 441.5 236.1 438.0 239.1 436.0 240.2M435.5 240.0 426.0 238.3 424.8 237.5 422.0 227.0 419.3 223.5 415.3 217.0 411.8 209.5 411.2 207.5 415.6 198.0 418.5 189.0 422.8 184.0 427.5 176.2 429.0 175.3 430.7 176.0 432.0 179.8 434.8 182.5 435.8 184.0 437.2 188.0 436.9 189.5 436.0 190.6 435.0 191.0 433.0 190.3 430.7 187.5 429.6 183.0 429.0 182.4 425.8 184.5 424.6 186.0 423.3 189.5 418.3 198.0 416.6 203.0 416.0 207.0 419.3 212.0 420.7 218.0 425.2 225.5 427.3 230.5 428.0 234.0 429.1 234.5 433.5 234.7 434.5 234.5 436.0 232.8 439.5 233.5 443.5 232.5 444.5 233.0 444.5 234.0 441.5 235.7 437.5 239.2 435.5 240.0M436.0 239.7 431.0 239.1 426.0 238.0 425.1 237.5 422.3 227.0 419.5 223.3 415.6 217.0 411.4 207.5 415.8 198.5 418.8 189.0 423.3 184.0 427.5 176.5 429.0 175.5 430.5 176.0 431.1 177.0 431.8 180.0 435.1 183.5 436.7 188.0 436.7 189.0 435.5 190.2 434.5 190.3 433.5 189.8 431.1 186.5 429.5 181.9 428.2 182.0 425.2 184.5 424.4 185.5 422.9 189.5 417.7 198.5 416.2 203.0 415.6 207.0 419.1 212.5 420.4 218.0 424.8 225.5 428.0 234.7 434.0 235.2 436.5 233.7 440.0 234.0 443.5 233.1 444.0 233.3 444.0 233.7 441.5 235.2 438.0 238.6 436.0 239.7M435.5 189.7 434.5 189.8 433.5 189.0 431.5 186.0 430.3 182.0 429.5 181.2 428.0 181.5 425.5 183.6 424.3 184.0 424.5 182.9 426.5 179.4 427.4 177.0 428.5 175.8 429.5 175.7 430.5 176.3 431.5 180.3 433.9 182.5 434.9 184.0 436.3 188.0 436.2 189.0 435.5 189.7M417.0 198.4 416.8 198.0 417.5 193.5 418.8 189.5 421.0 186.7 423.5 185.2 423.4 187.0 422.8 189.0 417.0 198.4M435.5 239.5 425.5 237.4 422.7 227.0 419.6 223.0 414.8 215.0 411.7 207.5 416.5 198.4 416.7 198.5 415.2 207.0 418.7 212.5 420.3 218.5 422.6 222.0 424.5 225.8 426.5 231.1 427.5 235.0 434.5 235.6 437.0 234.3 440.3 235.0 439.9 236.0 438.3 238.0 435.5 239.5M426.0 182.2 425.9 181.5 428.0 176.5 429.0 175.9 430.0 176.1 430.8 177.5 430.8 180.5 430.5 180.8 428.0 180.8 426.0 182.2M435.5 189.2 435.0 189.4 434.1 189.0 431.8 185.5 431.0 183.0 431.0 181.0 433.0 182.1 434.3 183.5 435.9 188.0 435.5 189.2M418.0 195.1 418.0 193.0 419.2 189.5 421.0 187.2 422.5 186.4 422.8 187.5 422.4 189.0 419.5 193.8 418.0 195.1M436.0 239.1 431.0 238.5 425.6 237.0 423.6 227.5 420.0 223.1 416.0 216.8 412.3 208.5 412.1 207.0 414.5 204.0 414.8 204.5 415.0 207.5 418.4 213.0 419.7 218.0 422.7 223.0 424.2 227.5 426.0 231.2 427.0 235.0 427.5 235.5 434.0 236.1 436.5 234.9 438.5 235.0 439.2 235.5 438.8 237.0 437.5 238.3 436.0 239.1M429.5 180.1 428.0 180.0 427.6 179.5 427.9 177.0 429.0 176.1 430.0 176.4 430.6 177.5 430.4 179.5 429.5 180.1M435.0 188.5 432.1 185.0 431.6 183.0 432.0 182.3 433.0 182.7 434.1 184.0 434.9 187.0 435.0 188.5M419.0 193.1 419.0 191.5 419.7 189.5 421.0 187.9 422.0 187.5 421.5 189.5 419.0 193.1M422.0 224.3 420.5 223.0 415.4 215.0 412.5 208.0 412.6 207.0 413.5 205.9 414.0 205.8 414.4 207.5 418.0 213.0 419.3 218.5 422.0 222.7 422.3 224.0 422.0 224.3M426.0 235.8 426.0 235.0 426.0 235.8M436.5 238.6 435.0 238.8 431.5 238.1 426.2 236.5 426.5 236.1 434.5 236.6 436.3 235.5 437.5 235.4 438.5 236.0 438.5 236.5 437.9 237.5 436.5 238.6M429.0 179.5 428.1 179.0 428.0 177.5 428.5 176.6 429.5 176.4 430.2 177.0 430.4 178.0 430.0 179.1 429.0 179.5M433.5 185.5 432.6 184.0 433.0 183.7 433.5 184.5 433.5 185.5M418.0 217.8 417.0 217.0 415.5 214.4 413.5 209.3 413.5 207.7 414.5 208.5 417.7 213.5 418.4 216.5 418.0 217.8M436.5 238.1 435.0 238.2 434.4 237.5 436.0 236.2 437.2 236.0 437.7 236.5 437.6 237.0 436.5 238.1M429.5 178.7 429.0 178.8 428.4 178.0 429.0 176.7 429.5 176.8 430.0 177.5 429.5 178.7M417.5 215.8 417.0 215.8 416.0 214.2 415.5 211.9 417.0 213.4 417.5 215.8" fill="none" stroke="#4a3aaa" stroke-width="0.36" stroke-opacity="0.8"/>
<path d="M383.5 224.3h0.9v0.9h-0.9zM392.1 209.4h0.9v0.9h-0.9zM377.6 219.6h0.9v0.9h-0.9zM387.1 211.4h0.9v0.9h-0.9zM385.6 212.5h0.9v0.9h-0.9zM383.1 213.1h0.9v0.9h-0.9zM379.9 215.8h0.9v0.9h-0.9zM396.3 206.0h0.9v0.9h-0.9zM384.9 206.5h0.9v0.9h-0.9zM397.6 206.6h0.9v0.9h-0.9zM387.7 217.5h0.9v0.9h-0.9zM380.2 216.0h0.9v0.9h-0.9zM388.6 214.6h0.9v0.9h-0.9zM396.3 216.4h0.9v0.9h-0.9zM395.8 204.4h0.9v0.9h-0.9zM379.8 217.9h0.9v0.9h-0.9zM386.0 211.6h0.9v0.9h-0.9zM382.2 223.5h0.9v0.9h-0.9zM389.6 215.1h0.9v0.9h-0.9zM381.4 208.9h0.9v0.9h-0.9zM381.5 208.2h0.9v0.9h-0.9zM401.1 207.6h0.9v0.9h-0.9zM385.2 217.6h0.9v0.9h-0.9zM400.9 211.5h0.9v0.9h-0.9zM385.6 216.8h0.9v0.9h-0.9zM397.9 203.5h0.9v0.9h-0.9zM383.3 215.6h0.9v0.9h-0.9zM396.6 204.8h0.9v0.9h-0.9zM375.9 219.8h0.9v0.9h-0.9zM396.0 220.4h0.9v0.9h-0.9z" fill="#3a3a9a"/>
<path d="M439.5 192.2h0.9v0.9h-0.9zM412.0 207.7h0.9v0.9h-0.9zM429.0 237.1h0.9v0.9h-0.9zM427.7 233.9h0.9v0.9h-0.9zM417.9 196.2h0.9v0.9h-0.9zM434.4 193.3h0.9v0.9h-0.9zM422.4 184.0h0.9v0.9h-0.9zM423.7 224.7h0.9v0.9h-0.9zM430.4 197.4h0.9v0.9h-0.9zM428.8 236.3h0.9v0.9h-0.9zM418.4 218.7h0.9v0.9h-0.9zM434.5 233.0h0.9v0.9h-0.9zM433.0 224.9h0.9v0.9h-0.9zM420.8 214.8h0.9v0.9h-0.9zM419.8 219.2h0.9v0.9h-0.9zM433.1 228.6h0.9v0.9h-0.9zM421.0 218.6h0.9v0.9h-0.9zM442.1 206.7h0.9v0.9h-0.9zM432.2 189.6h0.9v0.9h-0.9zM436.0 206.7h0.9v0.9h-0.9zM412.7 212.2h0.9v0.9h-0.9zM428.9 231.9h0.9v0.9h-0.9zM430.6 236.1h0.9v0.9h-0.9zM440.6 195.6h0.9v0.9h-0.9zM422.8 227.3h0.9v0.9h-0.9zM419.6 222.0h0.9v0.9h-0.9zM420.8 186.1h0.9v0.9h-0.9zM435.3 201.3h0.9v0.9h-0.9zM432.4 232.8h0.9v0.9h-0.9zM430.7 224.3h0.9v0.9h-0.9z" fill="#e07a30"/>
<path d="M429.2 177.4L420 190L413.1 207.3L418 218L423.3 226.3L426.2 236.5L435 238L443.8 233.6" fill="none" stroke="#3b2a9c" stroke-width="1.5" stroke-opacity="0.75" stroke-linejoin="round" stroke-linecap="round"/>
<rect x="366.10" y="168.20" width="92.50" height="82.90" fill="none" stroke="#8c8c8c" stroke-width="1"/>
<path d="M376.6 251.1L376.6 253.6" stroke="#444" stroke-width="0.8" fill="none"/>
<text x="376.60" y="259.10" font-size="7.6" text-anchor="middle">-9</text>
<path d="M400.6 251.1L400.6 253.6" stroke="#444" stroke-width="0.8" fill="none"/>
<text x="400.60" y="259.10" font-size="7.6" text-anchor="middle">-5.0</text>
<path d="M421.7 251.1L421.7 253.6" stroke="#444" stroke-width="0.8" fill="none"/>
<text x="421.70" y="259.10" font-size="7.6" text-anchor="middle">0</text>
<path d="M445.3 251.1L445.3 253.6" stroke="#444" stroke-width="0.8" fill="none"/>
<text x="445.30" y="259.10" font-size="7.6" text-anchor="middle">5.0</text>
<path d="M363.6 173L366.1 173" stroke="#444" stroke-width="0.8" fill="none"/>
<text x="362.00" y="175.60" font-size="7.6" text-anchor="end">6.0</text>
<path d="M363.6 191.6L366.1 191.6" stroke="#444" stroke-width="0.8" fill="none"/>
<text x="362.00" y="194.20" font-size="7.6" text-anchor="end">3.0</text>
<path d="M363.6 210.7L366.1 210.7" stroke="#444" stroke-width="0.8" fill="none"/>
<text x="362.00" y="213.30" font-size="7.6" text-anchor="end">0</text>
<path d="M363.6 229.3L366.1 229.3" stroke="#444" stroke-width="0.8" fill="none"/>
<text x="362.00" y="231.90" font-size="7.6" text-anchor="end">-3.0</text>
<path d="M363.6 248.4L366.1 248.4" stroke="#444" stroke-width="0.8" fill="none"/>
<text x="362.00" y="251.00" font-size="7.6" text-anchor="end">-6.0</text>
<text x="347.50" y="198.80" font-size="14" text-anchor="middle" transform="rotate(-90 347.50 198.80)">UMAP-1</text>
<text x="402.00" y="272.70" font-size="14">UMAP-2</text>
<path d="M340.3 269L340.3 242" stroke="#000" stroke-width="1" fill="none"/>
<path d="M340.30 237.50L344.04 244.51L336.56 244.51Z" fill="#000"/>
<path d="M340.3 269L368 269" stroke="#000" stroke-width="1" fill="none"/>
<path d="M374.00 269.00L366.99 265.26L366.99 272.74Z" fill="#000"/>
<text x="2.40" y="307.40" font-size="14" font-weight="bold">D</text>
<text x="68.20" y="320.80" font-size="12.6" text-anchor="middle">CXCR6</text>
<g filter="url(#rough)">
<g clip-path="url(#cp5)">
<rect x="28.3" y="324.2" width="82.8" height="78.3" fill="url(#lg1)"/>
<rect x="30.0" y="324.2" width="33.0" height="78.3" fill="url(#la2)"/>
<rect x="28.3" y="324.2" width="82.8" height="78.3" fill="url(#rg3)"/>
<rect x="28.3" y="324.2" width="82.8" height="78.3" fill="url(#rg4)"/>
<rect x="30.0" y="324.2" width="33.0" height="78.3" fill="#f09e1c" filter="url(#sp6)"/>
<rect x="30.0" y="324.2" width="32.0" height="78.3" fill="#e45a18" filter="url(#sp7)"/>
<rect x="30.0" y="324.2" width="32.0" height="78.3" fill="#f2e430" filter="url(#sp8)"/>
<rect x="57.0" y="324.2" width="10.0" height="78.3" fill="#b8d02a" filter="url(#sp9)"/>
<rect x="63.0" y="324.2" width="47.0" height="78.3" fill="#9ccc38" filter="url(#sp10)"/>
<rect x="63.0" y="324.2" width="47.0" height="78.3" fill="#6aaa26" filter="url(#sp11)"/>
<rect x="30.0" y="326.0" width="32.0" height="19.0" fill="#8cbc2a" filter="url(#sp12)"/>
<rect x="28.3" y="324.2" width="82.8" height="78.3" fill="#fff" filter="url(#sp13)" opacity="0.7"/>
</g></g>
<rect x="28.30" y="324.20" width="82.80" height="78.30" fill="none" stroke="#8a8a8a" stroke-width="0.9"/>
<path d="M32.44 402.5L32.44 404.9M35.83 402.5L35.83 403.7M39.23 402.5L39.23 403.7M42.62 402.5L42.62 403.7M46.02 402.5L46.02 403.7M49.41 402.5L49.41 404.9M52.81 402.5L52.81 403.7M56.2 402.5L56.2 403.7M59.6 402.5L59.6 403.7M62.99 402.5L62.99 403.7M66.39 402.5L66.39 404.9M69.78 402.5L69.78 403.7M73.18 402.5L73.18 403.7M76.57 402.5L76.57 403.7M79.97 402.5L79.97 403.7M83.36 402.5L83.36 404.9M86.76 402.5L86.76 403.7M90.15 402.5L90.15 403.7M93.55 402.5L93.55 403.7M96.94 402.5L96.94 403.7M100.34 402.5L100.34 404.9M29.05 402.5L29.05 403.7M103.73 402.5L103.73 403.7M107.13 402.5L107.13 403.7M110.52 402.5L110.52 403.7M25.9 385.67L28.3 385.67M27.1 380.81L28.3 380.81M27.1 375.96L28.3 375.96M27.1 371.1L28.3 371.1M27.1 366.25L28.3 366.25M25.9 361.39L28.3 361.39M27.1 356.54L28.3 356.54M27.1 351.68L28.3 351.68M27.1 346.83L28.3 346.83M27.1 341.97L28.3 341.97M25.9 337.12L28.3 337.12M27.1 390.52L28.3 390.52M27.1 395.37L28.3 395.37M27.1 400.23L28.3 400.23M27.1 332.26L28.3 332.26M27.1 327.41L28.3 327.41" stroke="#555" stroke-width="0.6" fill="none"/>
<text x="68.00" y="437.80" font-size="12.6" text-anchor="middle">SLAMf1</text>
<g filter="url(#rough)">
<g clip-path="url(#cp16)">
<rect x="28.3" y="441.3" width="82.4" height="75.8" fill="url(#lg14)"/>
<rect x="30.0" y="443.0" width="33.8" height="29.0" fill="url(#la15)"/>
<rect x="30.0" y="441.3" width="31.8" height="75.8" fill="#f0e048" filter="url(#sp17)"/>
<rect x="36.0" y="466.3" width="21.9" height="44.5" fill="#f08a20" filter="url(#sp18)"/>
<rect x="63.8" y="441.3" width="45.8" height="75.8" fill="#2a4a8c" filter="url(#sp19)"/>
<rect x="63.8" y="441.3" width="45.8" height="75.8" fill="#98c838" filter="url(#sp20)"/>
<rect x="63.8" y="441.3" width="45.8" height="75.8" fill="#5a9e2e" filter="url(#sp21)"/>
<rect x="59.8" y="441.3" width="8.0" height="75.8" fill="#c8d830" filter="url(#sp22)"/>
<rect x="30.0" y="443.0" width="33.8" height="9.7" fill="#2a4a8c" filter="url(#sp23)"/>
<rect x="28.3" y="441.3" width="82.4" height="75.8" fill="#fff" filter="url(#sp24)" opacity="0.7"/>
</g></g>
<rect x="28.30" y="441.30" width="82.40" height="75.80" fill="none" stroke="#8a8a8a" stroke-width="0.9"/>
<path d="M32.42 517.1L32.42 519.5M35.8 517.1L35.8 518.3M39.18 517.1L39.18 518.3M42.56 517.1L42.56 518.3M45.93 517.1L45.93 518.3M49.31 517.1L49.31 519.5M52.69 517.1L52.69 518.3M56.07 517.1L56.07 518.3M59.45 517.1L59.45 518.3M62.83 517.1L62.83 518.3M66.2 517.1L66.2 519.5M69.58 517.1L69.58 518.3M72.96 517.1L72.96 518.3M76.34 517.1L76.34 518.3M79.72 517.1L79.72 518.3M83.1 517.1L83.1 519.5M86.47 517.1L86.47 518.3M89.85 517.1L89.85 518.3M93.23 517.1L93.23 518.3M96.61 517.1L96.61 518.3M99.99 517.1L99.99 519.5M29.04 517.1L29.04 518.3M103.37 517.1L103.37 518.3M106.74 517.1L106.74 518.3M110.12 517.1L110.12 518.3M25.9 500.8L28.3 500.8M27.1 496.1L28.3 496.1M27.1 491.4L28.3 491.4M27.1 486.7L28.3 486.7M27.1 482L28.3 482M25.9 477.31L28.3 477.31M27.1 472.61L28.3 472.61M27.1 467.91L28.3 467.91M27.1 463.21L28.3 463.21M27.1 458.51L28.3 458.51M25.9 453.81L28.3 453.81M27.1 505.5L28.3 505.5M27.1 510.2L28.3 510.2M27.1 514.9L28.3 514.9M27.1 449.11L28.3 449.11M27.1 444.41L28.3 444.41" stroke="#555" stroke-width="0.6" fill="none"/>
<text x="66.05" y="552.00" font-size="12.6" text-anchor="middle">CD54</text>
<g filter="url(#rough)">
<g clip-path="url(#cp26)">
<rect x="27.4" y="555.3" width="83.3" height="77.5" fill="url(#lg25)"/>
<rect x="29.1" y="555.3" width="32.2" height="77.5" fill="#e88a20" filter="url(#sp27)"/>
<rect x="29.1" y="555.3" width="32.2" height="77.5" fill="#f0e438" filter="url(#sp28)"/>
<rect x="29.1" y="555.3" width="32.2" height="77.5" fill="#9cc42c" filter="url(#sp29)"/>
<rect x="62.3" y="555.3" width="47.3" height="77.5" fill="#2a4a8c" filter="url(#sp30)"/>
<rect x="62.3" y="555.3" width="47.3" height="77.5" fill="#a8cc34" filter="url(#sp31)"/>
<rect x="62.3" y="555.3" width="47.3" height="77.5" fill="#4e9a2e" filter="url(#sp32)"/>
<rect x="27.4" y="555.3" width="83.3" height="77.5" fill="#fff" filter="url(#sp33)" opacity="0.7"/>
</g></g>
<rect x="27.40" y="555.30" width="83.30" height="77.50" fill="none" stroke="#8a8a8a" stroke-width="0.9"/>
<path d="M31.56 632.8L31.56 635.2M34.98 632.8L34.98 634M38.4 632.8L38.4 634M41.81 632.8L41.81 634M45.23 632.8L45.23 634M48.64 632.8L48.64 635.2M52.06 632.8L52.06 634M55.47 632.8L55.47 634M58.89 632.8L58.89 634M62.3 632.8L62.3 634M65.72 632.8L65.72 635.2M69.13 632.8L69.13 634M72.55 632.8L72.55 634M75.96 632.8L75.96 634M79.38 632.8L79.38 634M82.79 632.8L82.79 635.2M86.21 632.8L86.21 634M89.63 632.8L89.63 634M93.04 632.8L93.04 634M96.46 632.8L96.46 634M99.87 632.8L99.87 635.2M28.15 632.8L28.15 634M103.29 632.8L103.29 634M106.7 632.8L106.7 634M110.12 632.8L110.12 634M25 616.14L27.4 616.14M26.2 611.33L27.4 611.33M26.2 606.53L27.4 606.53M26.2 601.72L27.4 601.72M26.2 596.92L27.4 596.92M25 592.11L27.4 592.11M26.2 587.31L27.4 587.31M26.2 582.5L27.4 582.5M26.2 577.7L27.4 577.7M26.2 572.89L27.4 572.89M25 568.09L27.4 568.09M26.2 620.94L27.4 620.94M26.2 625.75L27.4 625.75M26.2 630.55L27.4 630.55M26.2 563.28L27.4 563.28M26.2 558.48L27.4 558.48" stroke="#555" stroke-width="0.6" fill="none"/>
<text x="68.35" y="662.70" font-size="12.6" text-anchor="middle">CXCR5</text>
<g filter="url(#rough)">
<g clip-path="url(#cp37)">
<rect x="30.0" y="666.2" width="79.7" height="78.3" fill="url(#lg34)"/>
<rect x="75.0" y="666.2" width="33.7" height="78.3" fill="url(#la35)"/>
<rect x="30.0" y="666.2" width="79.7" height="78.3" fill="url(#rg36)"/>
<rect x="31.6" y="666.2" width="50.1" height="78.3" fill="#2a4e8c" filter="url(#sp38)"/>
<rect x="31.6" y="666.2" width="55.8" height="78.3" fill="#7ab83a" filter="url(#sp39)"/>
<rect x="31.6" y="666.2" width="48.1" height="78.3" fill="#2e6e50" filter="url(#sp40)"/>
<rect x="91.3" y="666.2" width="17.3" height="78.3" fill="#f08a18" filter="url(#sp41)"/>
<rect x="30.0" y="666.2" width="79.7" height="78.3" fill="#fff" filter="url(#sp42)" opacity="0.7"/>
</g></g>
<rect x="30.00" y="666.20" width="79.70" height="78.30" fill="none" stroke="#8a8a8a" stroke-width="0.9"/>
<path d="M33.98 744.5L33.98 746.9M37.25 744.5L37.25 745.7M40.52 744.5L40.52 745.7M43.79 744.5L43.79 745.7M47.06 744.5L47.06 745.7M50.32 744.5L50.32 746.9M53.59 744.5L53.59 745.7M56.86 744.5L56.86 745.7M60.13 744.5L60.13 745.7M63.39 744.5L63.39 745.7M66.66 744.5L66.66 746.9M69.93 744.5L69.93 745.7M73.2 744.5L73.2 745.7M76.47 744.5L76.47 745.7M79.73 744.5L79.73 745.7M83 744.5L83 746.9M86.27 744.5L86.27 745.7M89.54 744.5L89.54 745.7M92.8 744.5L92.8 745.7M96.07 744.5L96.07 745.7M99.34 744.5L99.34 746.9M30.72 744.5L30.72 745.7M102.61 744.5L102.61 745.7M105.87 744.5L105.87 745.7M109.14 744.5L109.14 745.7M27.6 727.67L30 727.67M28.8 722.81L30 722.81M28.8 717.96L30 717.96M28.8 713.1L30 713.1M28.8 708.25L30 708.25M27.6 703.39L30 703.39M28.8 698.54L30 698.54M28.8 693.68L30 693.68M28.8 688.83L30 688.83M28.8 683.97L30 683.97M27.6 679.12L30 679.12M28.8 732.52L30 732.52M28.8 737.37L30 737.37M28.8 742.23L30 742.23M28.8 674.26L30 674.26M28.8 669.41L30 669.41" stroke="#555" stroke-width="0.6" fill="none"/>
<text x="16.30" y="355.20" font-size="13.3" text-anchor="middle" transform="rotate(-90 16.30 355.20)">UMAP-1</text>
<path d="M8.6 754L8.6 403" stroke="#000" stroke-width="1" fill="none"/>
<path d="M8.50 395.50L12.24 402.51L4.76 402.51Z" fill="#000"/>
<path d="M8.6 753.8L40 753.8" stroke="#000" stroke-width="1" fill="none"/>
<path d="M45.50 753.80L38.49 750.06L38.49 757.54Z" fill="#000"/>
<text x="55.40" y="758.00" font-size="13.8">UMAP-2</text>
<text x="338.30" y="307.40" font-size="14" font-weight="bold">H</text>
<text x="406.70" y="322.20" font-size="12.6" text-anchor="middle">CXCR6</text>
<g filter="url(#rough)">
<g clip-path="url(#cp45)">
<rect x="365.3" y="326.2" width="82.8" height="76.6" fill="#80b82c"/>
<rect x="365.3" y="326.2" width="82.8" height="76.6" fill="url(#rg43)"/>
<rect x="365.3" y="326.2" width="82.8" height="76.6" fill="url(#rg44)"/>
<rect x="365.3" y="326.2" width="82.8" height="76.6" fill="#a8cc38" filter="url(#sp46)"/>
<rect x="406.0" y="328.0" width="40.0" height="72.0" fill="#68a82a" filter="url(#sp47)"/>
<rect x="368.0" y="362.0" width="34.0" height="30.0" fill="#68a82a" filter="url(#sp48)"/>
<rect x="380.0" y="340.0" width="27.0" height="22.0" fill="#ecd828" filter="url(#sp49)"/>
<rect x="383.0" y="340.0" width="23.0" height="20.0" fill="#f0a020" filter="url(#sp50)"/>
<rect x="384.0" y="340.0" width="20.0" height="18.0" fill="#e84c18" filter="url(#sp51)"/>
<rect x="365.3" y="326.2" width="82.8" height="76.6" fill="#2a3a8c" filter="url(#sp52)"/>
<rect x="372.0" y="355.0" width="28.0" height="30.0" fill="#e8e030" filter="url(#sp53)"/>
<rect x="365.3" y="326.2" width="82.8" height="76.6" fill="#fff" filter="url(#sp54)" opacity="0.7"/>
</g></g>
<rect x="365.30" y="326.20" width="82.80" height="76.60" fill="none" stroke="#8a8a8a" stroke-width="0.9"/>
<path d="M374.41 402.8L374.41 405.2M378.47 402.8L378.47 404M382.52 402.8L382.52 404M386.58 402.8L386.58 404M390.64 402.8L390.64 404M394.69 402.8L394.69 405.2M398.7 402.8L398.7 404M402.71 402.8L402.71 404M406.72 402.8L406.72 404M410.72 402.8L410.72 404M414.73 402.8L414.73 405.2M418.76 402.8L418.76 404M422.78 402.8L422.78 404M426.8 402.8L426.8 404M430.83 402.8L430.83 404M434.85 402.8L434.85 405.2M370.35 402.8L370.35 404M366.29 402.8L366.29 404M438.88 402.8L438.88 404M442.9 402.8L442.9 404M446.92 402.8L446.92 404M362.9 401.27L365.3 401.27M364.1 397.82L365.3 397.82M364.1 394.37L365.3 394.37M364.1 390.93L365.3 390.93M364.1 387.48L365.3 387.48M362.9 384.03L365.3 384.03M364.1 380.36L365.3 380.36M364.1 376.68L365.3 376.68M364.1 373L365.3 373M364.1 369.33L365.3 369.33M362.9 365.65L365.3 365.65M364.1 362.2L365.3 362.2M364.1 358.75L365.3 358.75M364.1 355.31L365.3 355.31M364.1 351.86L365.3 351.86M362.9 348.41L365.3 348.41M364.1 344.83L365.3 344.83M364.1 341.24L365.3 341.24M364.1 337.66L365.3 337.66M364.1 334.07L365.3 334.07M362.9 330.49L365.3 330.49M364.1 326.9L365.3 326.9" stroke="#555" stroke-width="0.6" fill="none"/>
<text x="405.70" y="438.80" font-size="12.6" text-anchor="middle">SLAMf1</text>
<g filter="url(#rough)">
<g clip-path="url(#cp56)">
<rect x="365.3" y="442.6" width="80.8" height="76.2" fill="url(#lg55)"/>
<rect x="379.6" y="456.3" width="24.4" height="19.9" fill="#f0b030" filter="url(#sp57)"/>
<rect x="404.0" y="446.4" width="39.0" height="69.6" fill="#2a3a8c" filter="url(#sp58)"/>
<rect x="404.0" y="446.4" width="39.0" height="69.6" fill="#90c038" filter="url(#sp59)"/>
<rect x="369.9" y="456.3" width="33.2" height="49.7" fill="#b8d430" filter="url(#sp60)"/>
<rect x="365.3" y="442.6" width="80.8" height="76.2" fill="#fff" filter="url(#sp61)" opacity="0.7"/>
</g></g>
<rect x="365.30" y="442.60" width="80.80" height="76.20" fill="none" stroke="#8a8a8a" stroke-width="0.9"/>
<path d="M374.19 518.8L374.19 521.2M378.15 518.8L378.15 520M382.11 518.8L382.11 520M386.07 518.8L386.07 520M390.02 518.8L390.02 520M393.98 518.8L393.98 521.2M397.89 518.8L397.89 520M401.81 518.8L401.81 520M405.72 518.8L405.72 520M409.63 518.8L409.63 520M413.54 518.8L413.54 521.2M417.46 518.8L417.46 520M421.39 518.8L421.39 520M425.32 518.8L425.32 520M429.25 518.8L429.25 520M433.17 518.8L433.17 521.2M370.23 518.8L370.23 520M366.27 518.8L366.27 520M437.1 518.8L437.1 520M441.03 518.8L441.03 520M444.95 518.8L444.95 520M362.9 517.28L365.3 517.28M364.1 513.85L365.3 513.85M364.1 510.42L365.3 510.42M364.1 506.99L365.3 506.99M364.1 503.56L365.3 503.56M362.9 500.13L365.3 500.13M364.1 496.47L365.3 496.47M364.1 492.82L365.3 492.82M364.1 489.16L365.3 489.16M364.1 485.5L365.3 485.5M362.9 481.84L365.3 481.84M364.1 478.41L365.3 478.41M364.1 474.99L365.3 474.99M364.1 471.56L365.3 471.56M364.1 468.13L365.3 468.13M362.9 464.7L365.3 464.7M364.1 461.13L365.3 461.13M364.1 457.57L365.3 457.57M364.1 454L365.3 454M364.1 450.43L365.3 450.43M362.9 446.87L365.3 446.87M364.1 443.3L365.3 443.3" stroke="#555" stroke-width="0.6" fill="none"/>
<text x="404.65" y="553.10" font-size="12.6" text-anchor="middle">CD54</text>
<g filter="url(#rough)">
<g clip-path="url(#cp63)">
<rect x="366.2" y="555.3" width="81.9" height="76.8" fill="url(#lg62)"/>
<rect x="405.5" y="559.1" width="39.6" height="70.2" fill="#2a3a8c" filter="url(#sp64)"/>
<rect x="366.2" y="555.3" width="81.9" height="76.8" fill="#9cc83a" filter="url(#sp65)"/>
<rect x="370.8" y="584.2" width="24.7" height="30.1" fill="#e0e030" filter="url(#sp66)"/>
<rect x="366.2" y="555.3" width="81.9" height="76.8" fill="#fff" filter="url(#sp67)" opacity="0.7"/>
</g></g>
<rect x="366.20" y="555.30" width="81.90" height="76.80" fill="none" stroke="#8a8a8a" stroke-width="0.9"/>
<path d="M375.21 632.1L375.21 634.5M379.22 632.1L379.22 633.3M383.24 632.1L383.24 633.3M387.25 632.1L387.25 633.3M391.26 632.1L391.26 633.3M395.27 632.1L395.27 634.5M399.24 632.1L399.24 633.3M403.2 632.1L403.2 633.3M407.17 632.1L407.17 633.3M411.13 632.1L411.13 633.3M415.09 632.1L415.09 634.5M419.07 632.1L419.07 633.3M423.05 632.1L423.05 633.3M427.04 632.1L427.04 633.3M431.02 632.1L431.02 633.3M435 632.1L435 634.5M371.2 632.1L371.2 633.3M367.18 632.1L367.18 633.3M438.98 632.1L438.98 633.3M442.96 632.1L442.96 633.3M446.94 632.1L446.94 633.3M363.8 630.56L366.2 630.56M365 627.11L366.2 627.11M365 623.65L366.2 623.65M365 620.2L366.2 620.2M365 616.74L366.2 616.74M363.8 613.28L366.2 613.28M365 609.6L366.2 609.6M365 605.91L366.2 605.91M365 602.22L366.2 602.22M365 598.54L366.2 598.54M363.8 594.85L366.2 594.85M365 591.4L366.2 591.4M365 587.94L366.2 587.94M365 584.48L366.2 584.48M365 581.03L366.2 581.03M363.8 577.57L366.2 577.57M365 573.98L366.2 573.98M365 570.38L366.2 570.38M365 566.79L366.2 566.79M365 563.2L366.2 563.2M363.8 559.6L366.2 559.6M365 556.01L366.2 556.01" stroke="#555" stroke-width="0.6" fill="none"/>
<text x="407.85" y="664.50" font-size="12.6" text-anchor="middle">CXCR5</text>
<g filter="url(#rough)">
<g clip-path="url(#cp69)">
<rect x="367.0" y="667.3" width="81.7" height="76.8" fill="#3a7e3c"/>
<rect x="408.1" y="667.3" width="40.6" height="76.8" fill="url(#lg68)"/>
<rect x="367.0" y="667.3" width="54.0" height="45.9" fill="#283c8c" filter="url(#sp70)"/>
<rect x="396.3" y="667.3" width="52.4" height="35.9" fill="#283c8c" filter="url(#sp71)"/>
<rect x="367.0" y="667.3" width="81.7" height="76.8" fill="#5a9a3a" filter="url(#sp72)"/>
<rect x="416.0" y="726.3" width="29.6" height="15.0" fill="#f07818" filter="url(#sp73)"/>
<rect x="367.0" y="667.3" width="81.7" height="76.8" fill="#fff" filter="url(#sp74)" opacity="0.7"/>
</g></g>
<rect x="367.00" y="667.30" width="81.70" height="76.80" fill="none" stroke="#8a8a8a" stroke-width="0.9"/>
<path d="M375.99 744.1L375.99 746.5M379.99 744.1L379.99 745.3M383.99 744.1L383.99 745.3M388 744.1L388 745.3M392 744.1L392 745.3M396 744.1L396 746.5M399.96 744.1L399.96 745.3M403.91 744.1L403.91 745.3M407.87 744.1L407.87 745.3M411.82 744.1L411.82 745.3M415.77 744.1L415.77 746.5M419.75 744.1L419.75 745.3M423.72 744.1L423.72 745.3M427.69 744.1L427.69 745.3M431.66 744.1L431.66 745.3M435.63 744.1L435.63 746.5M371.98 744.1L371.98 745.3M367.98 744.1L367.98 745.3M439.6 744.1L439.6 745.3M443.57 744.1L443.57 745.3M447.54 744.1L447.54 745.3M364.6 742.56L367 742.56M365.8 739.11L367 739.11M365.8 735.65L367 735.65M365.8 732.2L367 732.2M365.8 728.74L367 728.74M364.6 725.28L367 725.28M365.8 721.6L367 721.6M365.8 717.91L367 717.91M365.8 714.22L367 714.22M365.8 710.54L367 710.54M364.6 706.85L367 706.85M365.8 703.4L367 703.4M365.8 699.94L367 699.94M365.8 696.48L367 696.48M365.8 693.03L367 693.03M364.6 689.57L367 689.57M365.8 685.98L367 685.98M365.8 682.38L367 682.38M365.8 678.79L367 678.79M365.8 675.2L367 675.2M364.6 671.6L367 671.6M365.8 668.01L367 668.01" stroke="#555" stroke-width="0.6" fill="none"/>
<text x="349.40" y="356.00" font-size="13.3" text-anchor="middle" transform="rotate(-90 349.40 356.00)">UMAP-1</text>
<path d="M341.9 755.5L341.9 404" stroke="#000" stroke-width="1" fill="none"/>
<path d="M341.90 396.50L345.64 403.51L338.16 403.51Z" fill="#000"/>
<path d="M341.9 755.5L373 755.5" stroke="#000" stroke-width="1" fill="none"/>
<path d="M379.00 755.50L371.99 751.76L371.99 759.24Z" fill="#000"/>
<text x="388.70" y="761.00" font-size="13.8">UMAP-2</text>
<text x="119.30" y="307.60" font-size="14" font-weight="bold">E</text>
<text x="227.60" y="307.80" font-size="14" font-weight="bold">F</text>
<path d="M150.0 398.6 151.5 397.4 153.0 396.0 154.2 390.6 155.5 385.0 157.5 360.0 159.0 342.0 160.2 336.1 161.5 342.0 163.0 360.0 165.0 383.0 167.0 394.0 169.0 398.6L169.0 398.6L150.0 398.6Z" fill="#c9c6c0" stroke="#9a968e" stroke-width="0.4"/>
<path d="M148.0 398.6 149.5 397.6 151.0 397.5 152.3 396.4 153.7 394.8 155.0 393.0 156.7 390.2 158.4 388.0 159.7 384.0 161.0 380.0 162.8 373.4 164.5 367.0 166.1 365.2 167.6 363.0 169.5 360.0 171.3 359.0 173.0 361.0 174.3 360.8 175.6 360.0 176.8 361.0 178.0 363.0 179.5 356.0 181.7 349.0 183.5 352.0 185.0 347.0 186.6 345.0 188.0 347.0 189.5 343.0 191.5 345.0 193.3 339.0 195.2 347.0 196.4 352.9 197.6 360.0 198.8 367.9 200.1 375.0 202.0 380.0 203.8 385.0 205.5 390.0 207.4 395.0 208.7 396.2 210.0 397.5 211.3 398.2 212.7 397.6 214.0 398.6" fill="none" stroke="#ec7a3a" stroke-width="0.8" stroke-linejoin="round"/>
<path d="M154.0 398.6 155.3 398.6 156.7 398.1 158.0 397.0 159.3 393.1 160.7 389.8 162.0 387.0 164.0 375.0 165.8 360.0 167.0 345.0 168.3 338.0 170.0 339.0 171.0 336.5 172.1 337.0 173.1 338.5 174.0 342.0 175.0 347.0 176.0 358.0 176.8 368.0 178.0 378.0 179.2 385.0 180.4 387.9 181.7 390.0 184.0 391.0 185.3 391.8 186.6 392.0 187.8 393.7 189.0 395.0 190.2 395.5 191.5 396.5 193.0 397.1 194.5 397.6 196.0 398.0 197.3 398.2 198.7 397.9 200.0 398.4 201.3 398.6" fill="none" stroke="#4460bf" stroke-width="0.8" stroke-linejoin="round"/>
<rect x="144.90" y="326.30" width="75.10" height="72.30" fill="none" stroke="#8e8e8e" stroke-width="0.9"/>
<path d="M143.9 395.82L144.9 395.82M143.9 393.04L144.9 393.04M143.9 390.26L144.9 390.26M143.9 387.48L144.9 387.48M143.1 384.7L144.9 384.7M143.9 381.92L144.9 381.92M143.9 379.13L144.9 379.13M143.9 376.35L144.9 376.35M143.9 373.57L144.9 373.57M143.1 370.79L144.9 370.79M143.9 368.01L144.9 368.01M143.9 365.23L144.9 365.23M143.9 362.45L144.9 362.45M143.9 359.67L144.9 359.67M143.1 356.89L144.9 356.89M143.9 354.11L144.9 354.11M143.9 351.33L144.9 351.33M143.9 348.55L144.9 348.55M143.9 345.77L144.9 345.77M143.1 342.98L144.9 342.98M143.9 340.2L144.9 340.2M143.9 337.42L144.9 337.42M143.9 334.64L144.9 334.64M143.9 331.86L144.9 331.86M143.1 329.08L144.9 329.08M147.4 398.6L147.4 399.5M149.91 398.6L149.91 399.5M152.41 398.6L152.41 399.5M154.91 398.6L154.91 399.5M157.42 398.6L157.42 399.5M159.92 398.6L159.92 400.4M162.42 398.6L162.42 399.5M164.93 398.6L164.93 399.5M167.43 398.6L167.43 399.5M169.93 398.6L169.93 399.5M172.44 398.6L172.44 399.5M174.94 398.6L174.94 400.4M177.44 398.6L177.44 399.5M179.95 398.6L179.95 399.5M182.45 398.6L182.45 399.5M184.95 398.6L184.95 399.5M187.46 398.6L187.46 399.5M189.96 398.6L189.96 400.4M192.46 398.6L192.46 399.5M194.97 398.6L194.97 399.5M197.47 398.6L197.47 399.5M199.97 398.6L199.97 399.5M202.48 398.6L202.48 399.5M204.98 398.6L204.98 400.4M207.48 398.6L207.48 399.5M209.99 398.6L209.99 399.5M212.49 398.6L212.49 399.5M214.99 398.6L214.99 399.5M217.5 398.6L217.5 399.5" stroke="#666" stroke-width="0.6" fill="none"/>
<text x="145.90" y="337.90" font-size="10.8" fill="#3d7fca">326</text>
<text x="194.00" y="337.90" font-size="10.8" fill="#ee6a26">1366</text>
<path d="M160.0 514.0 161.2 513.6 162.5 513.9 163.8 513.5 165.0 513.6 166.3 513.2 167.7 512.7 169.0 512.0 170.5 510.5 172.0 510.0 173.5 508.4 175.0 508.0 176.5 507.4 178.0 506.0 179.5 504.2 181.0 503.0 183.0 500.0 185.0 498.0 187.0 495.0 189.0 492.0 190.5 489.0 192.0 484.0 193.5 477.0 195.0 473.0 196.5 470.0 197.5 469.0 198.5 464.0 199.5 461.0 200.5 459.0 201.3 457.2 202.3 459.0 203.3 461.0 204.5 466.0 205.5 474.0 206.5 485.0 207.5 495.0 208.5 503.0 210.0 510.0 212.0 514.0" fill="none" stroke="#ec7a3a" stroke-width="0.8" stroke-linejoin="round"/>
<path d="M144.9 514.0 146.3 513.6 147.7 513.4 149.2 513.6 150.6 513.3 152.0 513.6 153.3 513.0 154.6 513.2 155.8 513.7 157.1 513.5 158.4 513.0 159.6 513.2 160.9 512.3 162.1 512.5 163.3 512.1 164.6 511.8 165.8 512.0 167.4 510.0 169.0 509.0 170.4 506.7 171.9 505.0 174.0 500.0 175.6 495.0 177.0 487.0 178.0 480.0 179.5 474.0 180.5 476.8 182.0 473.0 183.5 474.0 185.0 468.0 186.0 464.0 187.2 458.4 188.0 467.0 189.0 472.0 190.0 477.0 191.0 482.0 192.0 488.0 194.0 496.0 196.0 503.0 198.0 507.0 200.0 510.0 201.3 511.3 202.7 512.1 204.0 512.5 205.5 513.4 207.0 513.5 208.2 514.0 209.5 513.4 210.8 513.6 212.0 514.0" fill="none" stroke="#4460bf" stroke-width="0.8" stroke-linejoin="round"/>
<rect x="144.90" y="444.70" width="75.10" height="69.50" fill="none" stroke="#8e8e8e" stroke-width="0.9"/>
<path d="M143.9 511.53L144.9 511.53M143.9 508.85L144.9 508.85M143.9 506.18L144.9 506.18M143.9 503.51L144.9 503.51M143.1 500.83L144.9 500.83M143.9 498.16L144.9 498.16M143.9 495.49L144.9 495.49M143.9 492.82L144.9 492.82M143.9 490.14L144.9 490.14M143.1 487.47L144.9 487.47M143.9 484.8L144.9 484.8M143.9 482.12L144.9 482.12M143.9 479.45L144.9 479.45M143.9 476.78L144.9 476.78M143.1 474.1L144.9 474.1M143.9 471.43L144.9 471.43M143.9 468.76L144.9 468.76M143.9 466.08L144.9 466.08M143.9 463.41L144.9 463.41M143.1 460.74L144.9 460.74M143.9 458.07L144.9 458.07M143.9 455.39L144.9 455.39M143.9 452.72L144.9 452.72M143.9 450.05L144.9 450.05M143.1 447.37L144.9 447.37M147.4 514.2L147.4 515.1M149.91 514.2L149.91 515.1M152.41 514.2L152.41 515.1M154.91 514.2L154.91 515.1M157.42 514.2L157.42 515.1M159.92 514.2L159.92 516M162.42 514.2L162.42 515.1M164.93 514.2L164.93 515.1M167.43 514.2L167.43 515.1M169.93 514.2L169.93 515.1M172.44 514.2L172.44 515.1M174.94 514.2L174.94 516M177.44 514.2L177.44 515.1M179.95 514.2L179.95 515.1M182.45 514.2L182.45 515.1M184.95 514.2L184.95 515.1M187.46 514.2L187.46 515.1M189.96 514.2L189.96 516M192.46 514.2L192.46 515.1M194.97 514.2L194.97 515.1M197.47 514.2L197.47 515.1M199.97 514.2L199.97 515.1M202.48 514.2L202.48 515.1M204.98 514.2L204.98 516M207.48 514.2L207.48 515.1M209.99 514.2L209.99 515.1M212.49 514.2L212.49 515.1M214.99 514.2L214.99 515.1M217.5 514.2L217.5 515.1" stroke="#666" stroke-width="0.6" fill="none"/>
<text x="146.70" y="455.00" font-size="10.8" fill="#3d7fca">681</text>
<text x="194.60" y="455.00" font-size="10.8" fill="#ee6a26">2911</text>
<path d="M150.0 630.0 151.5 629.6 153.0 629.0 154.5 628.5 156.0 627.5 157.5 626.6 159.0 625.0 160.5 624.0 162.0 622.0 163.5 621.3 165.0 620.0 166.5 619.0 168.0 617.0 169.5 613.9 171.0 612.0 173.0 608.0 175.0 603.0 177.0 598.0 179.0 593.0 181.0 590.0 183.0 585.0 185.0 580.0 186.5 575.0 188.0 572.0 189.0 570.7 190.5 573.0 191.5 578.0 192.5 573.0 193.3 574.4 194.5 580.0 195.5 590.0 196.5 598.0 197.5 602.0 198.9 607.5 200.5 614.0 202.0 620.0 204.0 624.0 206.0 627.5 207.3 628.5 208.7 629.5 211.0 630.0" fill="none" stroke="#ec7a3a" stroke-width="0.8" stroke-linejoin="round"/>
<path d="M145.2 630.0 146.4 630.2 147.6 630.1 148.8 629.6 150.0 629.5 151.2 628.8 152.5 628.2 153.8 628.6 155.0 628.0 156.5 626.0 158.0 624.0 160.0 620.0 162.0 618.0 164.0 614.0 166.0 610.0 167.5 604.0 169.0 605.0 170.5 597.0 172.0 598.0 173.5 590.0 175.0 585.0 176.0 582.0 177.0 578.0 178.6 574.4 180.0 576.0 181.0 579.0 182.5 582.0 184.0 581.0 185.5 585.0 187.0 587.0 188.5 593.0 190.0 602.0 191.5 611.2 193.0 617.0 195.0 620.0 197.0 623.0 199.0 626.0 201.3 627.1 202.7 628.4 204.0 629.0 205.5 629.3 207.0 630.0" fill="none" stroke="#4460bf" stroke-width="0.8" stroke-linejoin="round"/>
<rect x="145.20" y="560.30" width="73.30" height="69.90" fill="none" stroke="#8e8e8e" stroke-width="0.9"/>
<path d="M144.2 627.51L145.2 627.51M144.2 624.82L145.2 624.82M144.2 622.13L145.2 622.13M144.2 619.45L145.2 619.45M143.4 616.76L145.2 616.76M144.2 614.07L145.2 614.07M144.2 611.38L145.2 611.38M144.2 608.69L145.2 608.69M144.2 606L145.2 606M143.4 603.32L145.2 603.32M144.2 600.63L145.2 600.63M144.2 597.94L145.2 597.94M144.2 595.25L145.2 595.25M144.2 592.56L145.2 592.56M143.4 589.87L145.2 589.87M144.2 587.18L145.2 587.18M144.2 584.5L145.2 584.5M144.2 581.81L145.2 581.81M144.2 579.12L145.2 579.12M143.4 576.43L145.2 576.43M144.2 573.74L145.2 573.74M144.2 571.05L145.2 571.05M144.2 568.37L145.2 568.37M144.2 565.68L145.2 565.68M143.4 562.99L145.2 562.99M147.64 630.2L147.64 631.1M150.09 630.2L150.09 631.1M152.53 630.2L152.53 631.1M154.97 630.2L154.97 631.1M157.42 630.2L157.42 631.1M159.86 630.2L159.86 632M162.3 630.2L162.3 631.1M164.75 630.2L164.75 631.1M167.19 630.2L167.19 631.1M169.63 630.2L169.63 631.1M172.08 630.2L172.08 631.1M174.52 630.2L174.52 632M176.96 630.2L176.96 631.1M179.41 630.2L179.41 631.1M181.85 630.2L181.85 631.1M184.29 630.2L184.29 631.1M186.74 630.2L186.74 631.1M189.18 630.2L189.18 632M191.62 630.2L191.62 631.1M194.07 630.2L194.07 631.1M196.51 630.2L196.51 631.1M198.95 630.2L198.95 631.1M201.4 630.2L201.4 631.1M203.84 630.2L203.84 632M206.28 630.2L206.28 631.1M208.73 630.2L208.73 631.1M211.17 630.2L211.17 631.1M213.61 630.2L213.61 631.1M216.06 630.2L216.06 631.1" stroke="#666" stroke-width="0.6" fill="none"/>
<text x="149.80" y="572.20" font-size="10.8" fill="#3d7fca">501</text>
<text x="191.50" y="572.20" font-size="10.8" fill="#ee6a26">1544</text>
<path d="M153.5 737.7 155.5 733.0 157.0 722.0 158.5 705.0 160.0 688.0 161.5 681.3 163.0 686.0 164.5 700.0 166.0 716.0 167.5 729.0 169.0 735.0 171.0 737.7L171.0 737.7L153.5 737.7Z" fill="#c9c6c0" stroke="#9a968e" stroke-width="0.4"/>
<path d="M150.0 737.7 152.0 735.0 154.0 728.0 156.0 715.0 158.0 700.0 160.0 688.0 161.5 684.0 162.5 681.0 163.5 683.0 164.5 678.9 166.0 683.0 167.5 695.0 169.4 712.6 171.0 717.0 173.0 722.0 174.8 726.0 176.8 729.8 179.0 731.0 181.0 732.0 182.9 732.8 185.0 734.0 186.5 734.8 188.0 736.0 189.8 736.2 191.5 737.2 193.2 737.6 195.0 737.7" fill="none" stroke="#ec7a3a" stroke-width="0.8" stroke-linejoin="round"/>
<path d="M152.0 737.7 153.5 736.0 155.0 735.0 156.5 731.6 158.0 727.0 160.0 717.0 162.0 703.0 163.5 695.0 164.8 688.0 165.5 683.0 166.4 680.1 167.5 683.0 168.5 690.0 169.5 689.0 170.3 687.0 171.5 693.0 172.5 700.0 174.3 705.2 175.5 705.0 176.5 712.0 178.0 717.0 179.2 721.2 180.5 722.0 181.5 724.0 182.9 726.1 185.0 724.5 187.0 725.0 189.0 727.3 191.0 725.5 193.0 727.0 194.5 729.0 196.4 731.0 197.7 731.6 199.0 733.0 200.5 734.2 202.0 735.0 203.4 735.2 204.8 736.0 206.2 737.0 207.6 737.9 209.0 737.7" fill="none" stroke="#4460bf" stroke-width="0.8" stroke-linejoin="round"/>
<rect x="145.90" y="671.50" width="72.60" height="66.20" fill="none" stroke="#8e8e8e" stroke-width="0.9"/>
<path d="M144.9 735.15L145.9 735.15M144.9 732.61L145.9 732.61M144.9 730.06L145.9 730.06M144.9 727.52L145.9 727.52M144.1 724.97L145.9 724.97M144.9 722.42L145.9 722.42M144.9 719.88L145.9 719.88M144.9 717.33L145.9 717.33M144.9 714.78L145.9 714.78M144.1 712.24L145.9 712.24M144.9 709.69L145.9 709.69M144.9 707.15L145.9 707.15M144.9 704.6L145.9 704.6M144.9 702.05L145.9 702.05M144.1 699.51L145.9 699.51M144.9 696.96L145.9 696.96M144.9 694.42L145.9 694.42M144.9 691.87L145.9 691.87M144.9 689.32L145.9 689.32M144.1 686.78L145.9 686.78M144.9 684.23L145.9 684.23M144.9 681.68L145.9 681.68M144.9 679.14L145.9 679.14M144.9 676.59L145.9 676.59M144.1 674.05L145.9 674.05M148.32 737.7L148.32 738.6M150.74 737.7L150.74 738.6M153.16 737.7L153.16 738.6M155.58 737.7L155.58 738.6M158 737.7L158 738.6M160.42 737.7L160.42 739.5M162.84 737.7L162.84 738.6M165.26 737.7L165.26 738.6M167.68 737.7L167.68 738.6M170.1 737.7L170.1 738.6M172.52 737.7L172.52 738.6M174.94 737.7L174.94 739.5M177.36 737.7L177.36 738.6M179.78 737.7L179.78 738.6M182.2 737.7L182.2 738.6M184.62 737.7L184.62 738.6M187.04 737.7L187.04 738.6M189.46 737.7L189.46 739.5M191.88 737.7L191.88 738.6M194.3 737.7L194.3 738.6M196.72 737.7L196.72 738.6M199.14 737.7L199.14 738.6M201.56 737.7L201.56 738.6M203.98 737.7L203.98 739.5M206.4 737.7L206.4 738.6M208.82 737.7L208.82 738.6M211.24 737.7L211.24 738.6M213.66 737.7L213.66 738.6M216.08 737.7L216.08 738.6" stroke="#666" stroke-width="0.6" fill="none"/>
<text x="196.70" y="683.80" font-size="10.8" fill="#3d7fca">279</text>
<text x="199.10" y="696.00" font-size="10.8" fill="#ee6a26">52</text>
<text x="128.30" y="358.40" font-size="13.7" text-anchor="middle" transform="rotate(-90 128.30 358.40)">% of max.</text>
<path d="M123.6 754L123.6 403" stroke="#000" stroke-width="1" fill="none"/>
<path d="M123.40 395.50L127.14 402.51L119.66 402.51Z" fill="#000"/>
<path d="M123.6 417.7L156 417.7" stroke="#000" stroke-width="1" fill="none"/>
<path d="M161.30 417.70L154.29 413.96L154.29 421.44Z" fill="#000"/>
<text x="175.30" y="421.70" font-size="13.0">CXCR6</text>
<path d="M123.6 532.4L156 532.4" stroke="#000" stroke-width="1" fill="none"/>
<path d="M161.30 532.40L154.29 528.66L154.29 536.14Z" fill="#000"/>
<text x="173.40" y="536.40" font-size="13.0">SLAMf1</text>
<path d="M123.6 642.8L156 642.8" stroke="#000" stroke-width="1" fill="none"/>
<path d="M161.30 642.80L154.29 639.06L154.29 646.54Z" fill="#000"/>
<text x="181.80" y="646.80" font-size="13.0">CD54</text>
<path d="M123.6 753.8L156 753.8" stroke="#000" stroke-width="1" fill="none"/>
<path d="M161.30 753.80L154.29 750.06L154.29 757.54Z" fill="#000"/>
<text x="174.40" y="757.80" font-size="13.0">CXCR5</text>
<path d="M266.6 325L266.6 414.5M266.6 414.5L297.9 414.5" stroke="#777" stroke-width="0.9" fill="none"/>
<path d="M264.2 414.5L266.6 414.5M265.2 405.55L266.6 405.55M265.2 396.6L266.6 396.6M265.2 387.65L266.6 387.65M265.2 378.7L266.6 378.7M264.2 369.75L266.6 369.75M265.2 360.8L266.6 360.8M265.2 351.85L266.6 351.85M265.2 342.9L266.6 342.9M265.2 333.95L266.6 333.95M264.2 325L266.6 325" stroke="#777" stroke-width="0.8" fill="none"/>
<text x="263.00" y="418.45" font-size="11.1" text-anchor="end">0</text>
<text x="263.00" y="373.70" font-size="11.1" text-anchor="end">50</text>
<text x="263.00" y="328.95" font-size="11.1" text-anchor="end">100</text>
<path d="M275.4 414.5L275.4 416.7M289 414.5L289 416.7" stroke="#777" stroke-width="0.8" fill="none"/>
<text x="282.20" y="335.00" font-size="15" text-anchor="middle" font-weight="bold">**</text>
<path d="M275.4 332.6L289 332.6" stroke="#777" stroke-width="1" fill="none"/>
<path d="M289 369.75L289 361.69M286 365.27L292 365.27M286 369.75L292 369.75M286 361.69L292 361.69" stroke="#555" stroke-width="0.8" fill="none"/>
<path d="M275.40 399.52L278.60 405.09L272.20 405.09Z" fill="#1c1c84" stroke="#111" stroke-width="0.5"/>
<path d="M273.90 400.87L277.10 406.43L270.70 406.43Z" fill="#1c1c84" stroke="#111" stroke-width="0.5"/>
<path d="M276.90 400.42L280.10 405.99L273.70 405.99Z" fill="#1c1c84" stroke="#111" stroke-width="0.5"/>
<path d="M275.40 397.29L278.60 402.85L272.20 402.85Z" fill="#1c1c84" stroke="#111" stroke-width="0.5"/>
<path d="M276.40 401.76L279.60 407.33L273.20 407.33Z" fill="#1c1c84" stroke="#111" stroke-width="0.5"/>
<path d="M289.00 357.46L292.20 363.03L285.80 363.03Z" fill="#e8541c" stroke="#311" stroke-width="0.5"/>
<path d="M290.50 359.25L293.70 364.82L287.30 364.82Z" fill="#e8541c" stroke="#311" stroke-width="0.5"/>
<path d="M288.00 360.14L291.20 365.71L284.80 365.71Z" fill="#e8541c" stroke="#311" stroke-width="0.5"/>
<path d="M289.00 361.93L292.20 367.50L285.80 367.50Z" fill="#e8541c" stroke="#311" stroke-width="0.5"/>
<path d="M289.00 368.20L292.20 373.77L285.80 373.77Z" fill="#e8541c" stroke="#311" stroke-width="0.5"/>
<path d="M266.1 440.3L266.1 530.2M266.1 530.2L298.3 530.2" stroke="#777" stroke-width="0.9" fill="none"/>
<path d="M263.7 530.2L266.1 530.2M264.7 521.21L266.1 521.21M264.7 512.22L266.1 512.22M264.7 503.23L266.1 503.23M264.7 494.24L266.1 494.24M263.7 485.25L266.1 485.25M264.7 476.26L266.1 476.26M264.7 467.27L266.1 467.27M264.7 458.28L266.1 458.28M264.7 449.29L266.1 449.29M263.7 440.3L266.1 440.3" stroke="#777" stroke-width="0.8" fill="none"/>
<text x="262.50" y="534.15" font-size="11.1" text-anchor="end">0</text>
<text x="262.50" y="489.20" font-size="11.1" text-anchor="end">50</text>
<text x="262.50" y="444.25" font-size="11.1" text-anchor="end">100</text>
<path d="M275.5 530.2L275.5 532.4M288.6 530.2L288.6 532.4" stroke="#777" stroke-width="0.8" fill="none"/>
<text x="282.20" y="451.70" font-size="15" text-anchor="middle" font-weight="bold">**</text>
<path d="M275.2 449.3L289.2 449.3" stroke="#777" stroke-width="1" fill="none"/>
<path d="M275.50 498.09L278.70 503.66L272.30 503.66Z" fill="#1c1c84" stroke="#111" stroke-width="0.5"/>
<path d="M274.00 500.79L277.20 506.36L270.80 506.36Z" fill="#1c1c84" stroke="#111" stroke-width="0.5"/>
<path d="M277.00 499.89L280.20 505.46L273.80 505.46Z" fill="#1c1c84" stroke="#111" stroke-width="0.5"/>
<path d="M275.50 502.59L278.70 508.15L272.30 508.15Z" fill="#1c1c84" stroke="#111" stroke-width="0.5"/>
<path d="M273.90 502.59L277.10 508.15L270.70 508.15Z" fill="#1c1c84" stroke="#111" stroke-width="0.5"/>
<path d="M277.00 502.41L280.20 507.97L273.80 507.97Z" fill="#1c1c84" stroke="#111" stroke-width="0.5"/>
<path d="M288.60 454.04L291.80 459.61L285.40 459.61Z" fill="#e8541c" stroke="#311" stroke-width="0.5"/>
<path d="M287.10 455.84L290.30 461.41L283.90 461.41Z" fill="#e8541c" stroke="#311" stroke-width="0.5"/>
<path d="M290.10 455.84L293.30 461.41L286.90 461.41Z" fill="#e8541c" stroke="#311" stroke-width="0.5"/>
<path d="M288.60 454.94L291.80 460.51L285.40 460.51Z" fill="#e8541c" stroke="#311" stroke-width="0.5"/>
<path d="M265 553.5L265 643.4M265 643.4L298 643.4" stroke="#777" stroke-width="0.9" fill="none"/>
<path d="M262.6 643.4L265 643.4M263.6 634.41L265 634.41M263.6 625.42L265 625.42M263.6 616.43L265 616.43M263.6 607.44L265 607.44M262.6 598.45L265 598.45M263.6 589.46L265 589.46M263.6 580.47L265 580.47M263.6 571.48L265 571.48M263.6 562.49L265 562.49M262.6 553.5L265 553.5" stroke="#777" stroke-width="0.8" fill="none"/>
<text x="261.40" y="647.35" font-size="11.1" text-anchor="end">0</text>
<text x="261.40" y="602.40" font-size="11.1" text-anchor="end">50</text>
<text x="261.40" y="557.45" font-size="11.1" text-anchor="end">100</text>
<path d="M275.5 643.4L275.5 645.6M288.6 643.4L288.6 645.6" stroke="#777" stroke-width="0.8" fill="none"/>
<text x="282.20" y="565.40" font-size="15" text-anchor="middle" font-weight="bold">**</text>
<path d="M275.2 563L289.2 563" stroke="#777" stroke-width="1" fill="none"/>
<path d="M288.6 589.46L288.6 578.67M285.6 584.07L291.6 584.07M285.6 589.46L291.6 589.46M285.6 578.67L291.6 578.67" stroke="#555" stroke-width="0.8" fill="none"/>
<path d="M275.50 614.89L278.70 620.46L272.30 620.46Z" fill="#1c1c84" stroke="#111" stroke-width="0.5"/>
<path d="M274.50 619.38L277.70 624.95L271.30 624.95Z" fill="#1c1c84" stroke="#111" stroke-width="0.5"/>
<path d="M277.00 620.28L280.20 625.85L273.80 625.85Z" fill="#1c1c84" stroke="#111" stroke-width="0.5"/>
<path d="M275.50 620.73L278.70 626.30L272.30 626.30Z" fill="#1c1c84" stroke="#111" stroke-width="0.5"/>
<path d="M288.60 569.94L291.80 575.51L285.40 575.51Z" fill="#e8541c" stroke="#311" stroke-width="0.5"/>
<path d="M290.10 578.93L293.30 584.50L286.90 584.50Z" fill="#e8541c" stroke="#311" stroke-width="0.5"/>
<path d="M287.40 579.83L290.60 585.39L284.20 585.39Z" fill="#e8541c" stroke="#311" stroke-width="0.5"/>
<path d="M290.10 583.42L293.30 588.99L286.90 588.99Z" fill="#e8541c" stroke="#311" stroke-width="0.5"/>
<path d="M288.60 589.72L291.80 595.28L285.40 595.28Z" fill="#e8541c" stroke="#311" stroke-width="0.5"/>
<path d="M265 665L265 755M265 755L298 755" stroke="#777" stroke-width="0.9" fill="none"/>
<path d="M262.6 755L265 755M263.6 746L265 746M263.6 737L265 737M263.6 728L265 728M263.6 719L265 719M262.6 710L265 710M263.6 701L265 701M263.6 692L265 692M263.6 683L265 683M263.6 674L265 674M262.6 665L265 665" stroke="#777" stroke-width="0.8" fill="none"/>
<text x="261.40" y="758.95" font-size="11.1" text-anchor="end">0</text>
<text x="261.40" y="713.95" font-size="11.1" text-anchor="end">50</text>
<text x="261.40" y="668.95" font-size="11.1" text-anchor="end">100</text>
<path d="M275.5 755L275.5 757.2M288.6 755L288.6 757.2" stroke="#777" stroke-width="0.8" fill="none"/>
<text x="282.20" y="675.80" font-size="15" text-anchor="middle" font-weight="bold">**</text>
<path d="M275.2 673.4L289.2 673.4" stroke="#777" stroke-width="1" fill="none"/>
<path d="M275.5 720.8L275.5 713.6M272.5 717.2L278.5 717.2M272.5 720.8L278.5 720.8M272.5 713.6L278.5 713.6" stroke="#555" stroke-width="0.8" fill="none"/>
<path d="M275.50 709.36L278.70 714.93L272.30 714.93Z" fill="#1c1c84" stroke="#111" stroke-width="0.5"/>
<path d="M274.00 711.16L277.20 716.73L270.80 716.73Z" fill="#1c1c84" stroke="#111" stroke-width="0.5"/>
<path d="M277.00 710.26L280.20 715.83L273.80 715.83Z" fill="#1c1c84" stroke="#111" stroke-width="0.5"/>
<path d="M275.50 712.96L278.70 718.53L272.30 718.53Z" fill="#1c1c84" stroke="#111" stroke-width="0.5"/>
<path d="M275.50 720.16L278.70 725.73L272.30 725.73Z" fill="#1c1c84" stroke="#111" stroke-width="0.5"/>
<path d="M288.60 739.06L291.80 744.63L285.40 744.63Z" fill="#e8541c" stroke="#311" stroke-width="0.5"/>
<path d="M287.10 740.41L290.30 745.98L283.90 745.98Z" fill="#e8541c" stroke="#311" stroke-width="0.5"/>
<path d="M290.10 740.41L293.30 745.98L286.90 745.98Z" fill="#e8541c" stroke="#311" stroke-width="0.5"/>
<text x="238.20" y="366.60" font-size="11.4" text-anchor="middle" transform="rotate(-90 238.20 366.60)">% CXCR6+ cells</text>
<text x="238.80" y="481.60" font-size="11.4" text-anchor="middle" transform="rotate(-90 238.80 481.60)">% SLAMf1+ cells</text>
<text x="238.30" y="597.00" font-size="11.4" text-anchor="middle" transform="rotate(-90 238.30 597.00)">% CD54+ cells</text>
<text x="238.30" y="708.00" font-size="11.4" text-anchor="middle" transform="rotate(-90 238.30 708.00)">% CXCR5+ cells</text>
<text x="458.30" y="307.80" font-size="14" font-weight="bold">I</text>
<text x="572.60" y="307.60" font-size="14" font-weight="bold">J</text>
<path d="M501.0 399.5 502.5 399.2 504.0 399.0 505.5 397.6 507.0 396.0 508.6 392.6 510.2 388.2 512.0 380.0 513.9 371.0 515.0 360.0 516.3 349.0 517.5 353.0 518.5 357.6 519.6 352.0 520.6 347.8 521.3 352.0 521.9 357.6 522.8 355.0 523.7 352.0 524.6 357.0 525.5 362.5 527.0 368.0 528.6 373.5 530.5 377.0 532.3 380.9 534.0 384.0 536.0 388.2 537.8 390.0 539.6 390.7 541.5 393.0 543.3 395.6 545.5 398.0 546.9 398.7 548.2 399.5" fill="none" stroke="#ec7a3a" stroke-width="0.8" stroke-linejoin="round"/>
<path d="M503.0 399.5 505.3 399.0 506.6 396.5 508.0 394.0 510.2 385.8 512.0 372.0 513.3 358.8 514.1 350.0 514.9 342.8 515.7 341.0 516.6 339.2 517.4 344.0 518.2 353.9 519.0 362.0 520.0 369.8 521.5 378.0 523.1 387.0 525.0 388.5 527.4 390.0 529.0 392.0 531.0 395.0 532.2 394.2 533.5 393.1 535.0 395.0 536.6 396.8 538.3 397.8 540.0 398.5 541.6 398.6 543.3 399.5" fill="none" stroke="#4460bf" stroke-width="0.8" stroke-linejoin="round"/>
<rect x="486.90" y="327.50" width="74.60" height="72.00" fill="none" stroke="#8e8e8e" stroke-width="0.9"/>
<path d="M485.9 396.73L486.9 396.73M485.9 393.96L486.9 393.96M485.9 391.19L486.9 391.19M485.9 388.42L486.9 388.42M485.1 385.65L486.9 385.65M485.9 382.88L486.9 382.88M485.9 380.12L486.9 380.12M485.9 377.35L486.9 377.35M485.9 374.58L486.9 374.58M485.1 371.81L486.9 371.81M485.9 369.04L486.9 369.04M485.9 366.27L486.9 366.27M485.9 363.5L486.9 363.5M485.9 360.73L486.9 360.73M485.1 357.96L486.9 357.96M485.9 355.19L486.9 355.19M485.9 352.42L486.9 352.42M485.9 349.65L486.9 349.65M485.9 346.88L486.9 346.88M485.1 344.12L486.9 344.12M485.9 341.35L486.9 341.35M485.9 338.58L486.9 338.58M485.9 335.81L486.9 335.81M485.9 333.04L486.9 333.04M485.1 330.27L486.9 330.27M489.39 399.5L489.39 400.4M491.87 399.5L491.87 400.4M494.36 399.5L494.36 400.4M496.85 399.5L496.85 400.4M499.33 399.5L499.33 400.4M501.82 399.5L501.82 401.3M504.31 399.5L504.31 400.4M506.79 399.5L506.79 400.4M509.28 399.5L509.28 400.4M511.77 399.5L511.77 400.4M514.25 399.5L514.25 400.4M516.74 399.5L516.74 401.3M519.23 399.5L519.23 400.4M521.71 399.5L521.71 400.4M524.2 399.5L524.2 400.4M526.69 399.5L526.69 400.4M529.17 399.5L529.17 400.4M531.66 399.5L531.66 401.3M534.15 399.5L534.15 400.4M536.63 399.5L536.63 400.4M539.12 399.5L539.12 400.4M541.61 399.5L541.61 400.4M544.09 399.5L544.09 400.4M546.58 399.5L546.58 401.3M549.07 399.5L549.07 400.4M551.55 399.5L551.55 400.4M554.04 399.5L554.04 400.4M556.53 399.5L556.53 400.4M559.01 399.5L559.01 400.4" stroke="#666" stroke-width="0.6" fill="none"/>
<text x="487.90" y="337.00" font-size="10.8" fill="#3d7fca">281</text>
<text x="536.00" y="337.00" font-size="10.8" fill="#ee6a26">673</text>
<path d="M506.5 516.0 507.9 515.6 509.2 516.0 510.6 515.8 512.0 515.5 513.2 515.9 514.5 515.0 515.8 515.0 517.0 515.3 518.4 514.7 519.8 514.6 521.2 514.8 522.6 513.9 524.0 512.5 526.1 509.9 527.6 502.0 529.2 491.5 530.5 481.0 531.7 473.1 533.0 465.0 534.5 458.4 535.5 462.0 536.6 468.2 537.8 480.0 539.0 495.2 540.0 504.0 540.9 511.1 542.5 514.5 544.5 516.0" fill="none" stroke="#ec7a3a" stroke-width="0.8" stroke-linejoin="round"/>
<path d="M497.0 516.0 498.7 515.3 500.4 515.5 502.5 514.0 504.1 511.1 505.5 500.0 507.1 481.7 508.5 476.0 510.2 471.3 511.2 476.8 512.4 473.1 513.5 480.0 514.5 486.6 515.7 494.0 517.0 500.1 518.5 502.0 520.0 503.8 522.0 508.0 523.7 511.7 526.0 512.5 527.3 513.0 528.6 513.0 530.3 513.1 532.0 512.8 533.3 513.6 534.7 513.1 536.0 513.6 537.2 513.8 538.5 514.5 540.9 516.0" fill="none" stroke="#4460bf" stroke-width="0.8" stroke-linejoin="round"/>
<rect x="487.20" y="445.90" width="73.30" height="70.10" fill="none" stroke="#8e8e8e" stroke-width="0.9"/>
<path d="M486.2 513.3L487.2 513.3M486.2 510.61L487.2 510.61M486.2 507.91L487.2 507.91M486.2 505.22L487.2 505.22M485.4 502.52L487.2 502.52M486.2 499.82L487.2 499.82M486.2 497.13L487.2 497.13M486.2 494.43L487.2 494.43M486.2 491.73L487.2 491.73M485.4 489.04L487.2 489.04M486.2 486.34L487.2 486.34M486.2 483.65L487.2 483.65M486.2 480.95L487.2 480.95M486.2 478.25L487.2 478.25M485.4 475.56L487.2 475.56M486.2 472.86L487.2 472.86M486.2 470.17L487.2 470.17M486.2 467.47L487.2 467.47M486.2 464.77L487.2 464.77M485.4 462.08L487.2 462.08M486.2 459.38L487.2 459.38M486.2 456.68L487.2 456.68M486.2 453.99L487.2 453.99M486.2 451.29L487.2 451.29M485.4 448.6L487.2 448.6M489.64 516L489.64 516.9M492.09 516L492.09 516.9M494.53 516L494.53 516.9M496.97 516L496.97 516.9M499.42 516L499.42 516.9M501.86 516L501.86 517.8M504.3 516L504.3 516.9M506.75 516L506.75 516.9M509.19 516L509.19 516.9M511.63 516L511.63 516.9M514.08 516L514.08 516.9M516.52 516L516.52 517.8M518.96 516L518.96 516.9M521.41 516L521.41 516.9M523.85 516L523.85 516.9M526.29 516L526.29 516.9M528.74 516L528.74 516.9M531.18 516L531.18 517.8M533.62 516L533.62 516.9M536.07 516L536.07 516.9M538.51 516L538.51 516.9M540.95 516L540.95 516.9M543.4 516L543.4 516.9M545.84 516L545.84 517.8M548.28 516L548.28 516.9M550.73 516L550.73 516.9M553.17 516L553.17 516.9M555.61 516L555.61 516.9M558.06 516L558.06 516.9" stroke="#666" stroke-width="0.6" fill="none"/>
<text x="489.60" y="456.60" font-size="10.8" fill="#3d7fca">319</text>
<text x="533.30" y="456.60" font-size="10.8" fill="#ee6a26">2042</text>
<path d="M506.5 628.0 508.2 627.8 510.0 626.5 511.3 625.4 512.6 625.7 513.9 624.9 515.1 623.5 516.4 623.0 518.8 621.8 520.7 620.0 522.5 618.2 524.0 614.0 525.5 609.0 526.8 602.0 528.0 594.2 529.2 589.0 530.4 584.4 531.6 581.5 532.9 579.5 534.7 578.9 536.6 580.8 537.5 588.0 538.4 596.7 539.6 599.0 540.9 601.0 542.1 608.0 543.3 615.1 544.5 620.0 545.8 623.7 548.0 626.5 549.4 627.8 550.7 628.0" fill="none" stroke="#ec7a3a" stroke-width="0.8" stroke-linejoin="round"/>
<path d="M493.0 628.0 494.3 627.2 495.7 626.6 497.0 626.0 498.7 624.8 500.4 623.7 501.7 623.0 503.0 622.5 505.3 624.3 507.0 619.0 508.4 614.5 509.6 616.0 510.8 615.7 512.3 608.0 513.9 601.6 515.8 598.0 517.6 595.5 519.0 594.0 520.6 592.4 521.5 590.0 522.5 588.1 523.4 592.0 524.3 595.5 525.8 599.0 527.4 602.8 528.6 608.0 529.8 613.9 531.5 617.0 533.5 620.0 535.5 621.0 537.2 622.4 539.0 624.5 540.9 626.7 542.1 627.0 543.3 627.8 544.5 628.0" fill="none" stroke="#4460bf" stroke-width="0.8" stroke-linejoin="round"/>
<rect x="487.20" y="560.20" width="73.30" height="68.10" fill="none" stroke="#8e8e8e" stroke-width="0.9"/>
<path d="M486.2 625.68L487.2 625.68M486.2 623.06L487.2 623.06M486.2 620.44L487.2 620.44M486.2 617.82L487.2 617.82M485.4 615.2L487.2 615.2M486.2 612.58L487.2 612.58M486.2 609.97L487.2 609.97M486.2 607.35L487.2 607.35M486.2 604.73L487.2 604.73M485.4 602.11L487.2 602.11M486.2 599.49L487.2 599.49M486.2 596.87L487.2 596.87M486.2 594.25L487.2 594.25M486.2 591.63L487.2 591.63M485.4 589.01L487.2 589.01M486.2 586.39L487.2 586.39M486.2 583.77L487.2 583.77M486.2 581.15L487.2 581.15M486.2 578.53L487.2 578.53M485.4 575.92L487.2 575.92M486.2 573.3L487.2 573.3M486.2 570.68L487.2 570.68M486.2 568.06L487.2 568.06M486.2 565.44L487.2 565.44M485.4 562.82L487.2 562.82M489.64 628.3L489.64 629.2M492.09 628.3L492.09 629.2M494.53 628.3L494.53 629.2M496.97 628.3L496.97 629.2M499.42 628.3L499.42 629.2M501.86 628.3L501.86 630.1M504.3 628.3L504.3 629.2M506.75 628.3L506.75 629.2M509.19 628.3L509.19 629.2M511.63 628.3L511.63 629.2M514.08 628.3L514.08 629.2M516.52 628.3L516.52 630.1M518.96 628.3L518.96 629.2M521.41 628.3L521.41 629.2M523.85 628.3L523.85 629.2M526.29 628.3L526.29 629.2M528.74 628.3L528.74 629.2M531.18 628.3L531.18 630.1M533.62 628.3L533.62 629.2M536.07 628.3L536.07 629.2M538.51 628.3L538.51 629.2M540.95 628.3L540.95 629.2M543.4 628.3L543.4 629.2M545.84 628.3L545.84 630.1M548.28 628.3L548.28 629.2M550.73 628.3L550.73 629.2M553.17 628.3L553.17 629.2M555.61 628.3L555.61 629.2M558.06 628.3L558.06 629.2" stroke="#666" stroke-width="0.6" fill="none"/>
<text x="490.00" y="571.60" font-size="10.8" fill="#3d7fca">541</text>
<text x="532.90" y="571.60" font-size="10.8" fill="#ee6a26">1447</text>
<path d="M497.9 742.0 500.0 741.0 502.2 736.7 503.5 722.0 504.7 704.8 505.6 692.0 506.5 684.0 507.4 690.0 508.4 702.3 509.3 716.0 510.2 729.3 512.0 737.0 513.9 740.3 515.1 740.8 516.3 741.5 517.6 742.1 518.8 742.0" fill="none" stroke="#ec7a3a" stroke-width="0.8" stroke-linejoin="round"/>
<path d="M496.7 742.0 498.1 740.9 499.5 740.5 500.9 738.8 502.2 736.7 503.5 724.0 504.7 708.5 505.6 698.0 506.5 691.3 507.4 693.5 508.4 692.5 509.3 698.0 510.2 704.8 511.1 711.0 512.0 718.3 513.0 716.5 513.9 715.2 514.8 716.5 515.7 717.0 517.0 715.0 518.2 714.0 519.7 713.0 521.2 713.4 522.8 716.0 524.3 718.3 525.5 719.0 526.8 719.5 527.6 716.0 528.4 713.4 529.1 718.0 529.8 723.2 531.0 727.0 532.3 730.5 534.0 734.5 536.0 737.9 537.2 738.8 538.5 740.0 540.9 742.0" fill="none" stroke="#4460bf" stroke-width="0.8" stroke-linejoin="round"/>
<rect x="487.20" y="673.50" width="74.30" height="68.70" fill="none" stroke="#8e8e8e" stroke-width="0.9"/>
<path d="M486.2 739.56L487.2 739.56M486.2 736.92L487.2 736.92M486.2 734.27L487.2 734.27M486.2 731.63L487.2 731.63M485.4 728.99L487.2 728.99M486.2 726.35L487.2 726.35M486.2 723.7L487.2 723.7M486.2 721.06L487.2 721.06M486.2 718.42L487.2 718.42M485.4 715.78L487.2 715.78M486.2 713.13L487.2 713.13M486.2 710.49L487.2 710.49M486.2 707.85L487.2 707.85M486.2 705.21L487.2 705.21M485.4 702.57L487.2 702.57M486.2 699.92L487.2 699.92M486.2 697.28L487.2 697.28M486.2 694.64L487.2 694.64M486.2 692L487.2 692M485.4 689.35L487.2 689.35M486.2 686.71L487.2 686.71M486.2 684.07L487.2 684.07M486.2 681.43L487.2 681.43M486.2 678.78L487.2 678.78M485.4 676.14L487.2 676.14M489.68 742.2L489.68 743.1M492.15 742.2L492.15 743.1M494.63 742.2L494.63 743.1M497.11 742.2L497.11 743.1M499.58 742.2L499.58 743.1M502.06 742.2L502.06 744M504.54 742.2L504.54 743.1M507.01 742.2L507.01 743.1M509.49 742.2L509.49 743.1M511.97 742.2L511.97 743.1M514.44 742.2L514.44 743.1M516.92 742.2L516.92 744M519.4 742.2L519.4 743.1M521.87 742.2L521.87 743.1M524.35 742.2L524.35 743.1M526.83 742.2L526.83 743.1M529.3 742.2L529.3 743.1M531.78 742.2L531.78 744M534.26 742.2L534.26 743.1M536.73 742.2L536.73 743.1M539.21 742.2L539.21 743.1M541.69 742.2L541.69 743.1M544.16 742.2L544.16 743.1M546.64 742.2L546.64 744M549.12 742.2L549.12 743.1M551.59 742.2L551.59 743.1M554.07 742.2L554.07 743.1M556.55 742.2L556.55 743.1M559.02 742.2L559.02 743.1" stroke="#666" stroke-width="0.6" fill="none"/>
<text x="541.80" y="683.30" font-size="10.8" fill="#3d7fca">371</text>
<text x="541.50" y="695.20" font-size="10.8" fill="#ee6a26">0</text>
<text x="467.80" y="360.50" font-size="13.7" text-anchor="middle" transform="rotate(-90 467.80 360.50)">% of max.</text>
<path d="M461.8 755L461.8 404" stroke="#000" stroke-width="1" fill="none"/>
<path d="M461.80 396.50L465.54 403.51L458.06 403.51Z" fill="#000"/>
<path d="M461.8 418.8L494 418.8" stroke="#000" stroke-width="1" fill="none"/>
<path d="M499.60 418.80L492.59 415.06L492.59 422.54Z" fill="#000"/>
<text x="514.00" y="422.80" font-size="13.0">CXCR6</text>
<path d="M461.8 533.2L494 533.2" stroke="#000" stroke-width="1" fill="none"/>
<path d="M499.60 533.20L492.59 529.46L492.59 536.94Z" fill="#000"/>
<text x="513.50" y="537.20" font-size="13.0">SLAMf1</text>
<path d="M461.8 644L494 644" stroke="#000" stroke-width="1" fill="none"/>
<path d="M499.60 644.00L492.59 640.26L492.59 647.74Z" fill="#000"/>
<text x="526.20" y="648.00" font-size="13.0">CD54</text>
<path d="M461.8 754.6L494 754.6" stroke="#000" stroke-width="1" fill="none"/>
<path d="M499.60 754.60L492.59 750.86L492.59 758.34Z" fill="#000"/>
<text x="515.20" y="758.60" font-size="13.0">CXCR5</text>
<path d="M611.8 329L611.8 418.5M611.8 418.5L643 418.5" stroke="#777" stroke-width="0.9" fill="none"/>
<path d="M609.4 418.5L611.8 418.5M610.4 409.55L611.8 409.55M610.4 400.6L611.8 400.6M610.4 391.65L611.8 391.65M610.4 382.7L611.8 382.7M609.4 373.75L611.8 373.75M610.4 364.8L611.8 364.8M610.4 355.85L611.8 355.85M610.4 346.9L611.8 346.9M610.4 337.95L611.8 337.95M609.4 329L611.8 329" stroke="#777" stroke-width="0.8" fill="none"/>
<text x="608.20" y="422.45" font-size="11.1" text-anchor="end">0</text>
<text x="608.20" y="377.70" font-size="11.1" text-anchor="end">50</text>
<text x="608.20" y="332.95" font-size="11.1" text-anchor="end">100</text>
<path d="M620.6 418.5L620.6 420.7M634.2 418.5L634.2 420.7" stroke="#777" stroke-width="0.8" fill="none"/>
<text x="627.40" y="343.80" font-size="15" text-anchor="middle" font-weight="bold">***</text>
<path d="M620.6 341.4L634.2 341.4" stroke="#777" stroke-width="1" fill="none"/>
<path d="M634.2 382.7L634.2 366.59M631.2 375.54L637.2 375.54M631.2 382.7L637.2 382.7M631.2 366.59L637.2 366.59" stroke="#555" stroke-width="0.8" fill="none"/>
<path d="M620.60 392.78L623.80 398.35L617.40 398.35Z" fill="#1c1c84" stroke="#111" stroke-width="0.5"/>
<path d="M619.60 396.36L622.80 401.93L616.40 401.93Z" fill="#1c1c84" stroke="#111" stroke-width="0.5"/>
<path d="M621.60 399.05L624.80 404.62L618.40 404.62Z" fill="#1c1c84" stroke="#111" stroke-width="0.5"/>
<path d="M620.60 402.63L623.80 408.20L617.40 408.20Z" fill="#1c1c84" stroke="#111" stroke-width="0.5"/>
<path d="M619.10 406.21L622.30 411.78L615.90 411.78Z" fill="#1c1c84" stroke="#111" stroke-width="0.5"/>
<path d="M622.10 408.00L625.30 413.57L618.90 413.57Z" fill="#1c1c84" stroke="#111" stroke-width="0.5"/>
<path d="M620.60 409.79L623.80 415.36L617.40 415.36Z" fill="#1c1c84" stroke="#111" stroke-width="0.5"/>
<path d="M619.40 411.58L622.60 417.15L616.20 417.15Z" fill="#1c1c84" stroke="#111" stroke-width="0.5"/>
<path d="M621.80 412.47L625.00 418.04L618.60 418.04Z" fill="#1c1c84" stroke="#111" stroke-width="0.5"/>
<path d="M620.60 413.82L623.80 419.38L617.40 419.38Z" fill="#1c1c84" stroke="#111" stroke-width="0.5"/>
<path d="M634.20 354.30L637.40 359.87L631.00 359.87Z" fill="#e8541c" stroke="#311" stroke-width="0.5"/>
<path d="M631.70 369.07L634.90 374.63L628.50 374.63Z" fill="#e8541c" stroke="#311" stroke-width="0.5"/>
<path d="M635.20 368.62L638.40 374.19L632.00 374.19Z" fill="#e8541c" stroke="#311" stroke-width="0.5"/>
<path d="M636.70 369.96L639.90 375.53L633.50 375.53Z" fill="#e8541c" stroke="#311" stroke-width="0.5"/>
<path d="M633.20 377.57L636.40 383.14L630.00 383.14Z" fill="#e8541c" stroke="#311" stroke-width="0.5"/>
<path d="M635.70 379.36L638.90 384.93L632.50 384.93Z" fill="#e8541c" stroke="#311" stroke-width="0.5"/>
<path d="M634.20 388.31L637.40 393.88L631.00 393.88Z" fill="#e8541c" stroke="#311" stroke-width="0.5"/>
<path d="M610.6 441.7L610.6 525.2M610.6 525.2L641.7 525.2" stroke="#777" stroke-width="0.9" fill="none"/>
<path d="M608.2 525.2L610.6 525.2M609.2 516.85L610.6 516.85M609.2 508.5L610.6 508.5M609.2 500.15L610.6 500.15M609.2 491.8L610.6 491.8M608.2 483.45L610.6 483.45M609.2 475.1L610.6 475.1M609.2 466.75L610.6 466.75M609.2 458.4L610.6 458.4M609.2 450.05L610.6 450.05M608.2 441.7L610.6 441.7" stroke="#777" stroke-width="0.8" fill="none"/>
<text x="607.00" y="529.15" font-size="11.1" text-anchor="end">0</text>
<text x="607.00" y="487.40" font-size="11.1" text-anchor="end">50</text>
<text x="607.00" y="445.65" font-size="11.1" text-anchor="end">100</text>
<path d="M619.5 525.2L619.5 527.4M632.8 525.2L632.8 527.4" stroke="#777" stroke-width="0.8" fill="none"/>
<text x="626.10" y="442.00" font-size="15" text-anchor="middle" font-weight="bold">***</text>
<path d="M619.1 439.6L633.1 439.6" stroke="#777" stroke-width="1" fill="none"/>
<path d="M632.8 464.25L632.8 447.55M629.8 458.4L635.8 458.4M629.8 464.25L635.8 464.25M629.8 447.55L635.8 447.55" stroke="#555" stroke-width="0.8" fill="none"/>
<path d="M619.50 498.48L622.70 504.05L616.30 504.05Z" fill="#1c1c84" stroke="#111" stroke-width="0.5"/>
<path d="M619.50 503.49L622.70 509.06L616.30 509.06Z" fill="#1c1c84" stroke="#111" stroke-width="0.5"/>
<path d="M618.00 505.16L621.20 510.73L614.80 510.73Z" fill="#1c1c84" stroke="#111" stroke-width="0.5"/>
<path d="M621.00 505.99L624.20 511.56L617.80 511.56Z" fill="#1c1c84" stroke="#111" stroke-width="0.5"/>
<path d="M619.50 507.66L622.70 513.23L616.30 513.23Z" fill="#1c1c84" stroke="#111" stroke-width="0.5"/>
<path d="M618.30 509.33L621.50 514.90L615.10 514.90Z" fill="#1c1c84" stroke="#111" stroke-width="0.5"/>
<path d="M620.70 510.17L623.90 515.74L617.50 515.74Z" fill="#1c1c84" stroke="#111" stroke-width="0.5"/>
<path d="M619.50 511.42L622.70 516.99L616.30 516.99Z" fill="#1c1c84" stroke="#111" stroke-width="0.5"/>
<path d="M630.80 441.28L634.00 446.85L627.60 446.85Z" fill="#e8541c" stroke="#311" stroke-width="0.5"/>
<path d="M635.30 441.28L638.50 446.85L632.10 446.85Z" fill="#e8541c" stroke="#311" stroke-width="0.5"/>
<path d="M635.30 452.55L638.50 458.12L632.10 458.12Z" fill="#e8541c" stroke="#311" stroke-width="0.5"/>
<path d="M630.80 455.06L634.00 460.63L627.60 460.63Z" fill="#e8541c" stroke="#311" stroke-width="0.5"/>
<path d="M630.80 460.90L634.00 466.47L627.60 466.47Z" fill="#e8541c" stroke="#311" stroke-width="0.5"/>
<path d="M635.30 461.74L638.50 467.31L632.10 467.31Z" fill="#e8541c" stroke="#311" stroke-width="0.5"/>
<path d="M630.80 465.50L634.00 471.06L627.60 471.06Z" fill="#e8541c" stroke="#311" stroke-width="0.5"/>
<path d="M609.5 549.3L609.5 638.5M609.5 638.5L640.4 638.5" stroke="#777" stroke-width="0.9" fill="none"/>
<path d="M607.1 638.5L609.5 638.5M608.1 629.58L609.5 629.58M608.1 620.66L609.5 620.66M608.1 611.74L609.5 611.74M608.1 602.82L609.5 602.82M607.1 593.9L609.5 593.9M608.1 584.98L609.5 584.98M608.1 576.06L609.5 576.06M608.1 567.14L609.5 567.14M608.1 558.22L609.5 558.22M607.1 549.3L609.5 549.3" stroke="#777" stroke-width="0.8" fill="none"/>
<text x="605.90" y="642.45" font-size="11.1" text-anchor="end">0</text>
<text x="605.90" y="597.85" font-size="11.1" text-anchor="end">50</text>
<text x="605.90" y="553.25" font-size="11.1" text-anchor="end">100</text>
<path d="M619.5 638.5L619.5 640.7M632.8 638.5L632.8 640.7" stroke="#777" stroke-width="0.8" fill="none"/>
<text x="626.10" y="558.90" font-size="15" text-anchor="middle" font-weight="bold">***</text>
<path d="M619.1 556.5L633.1 556.5" stroke="#777" stroke-width="1" fill="none"/>
<path d="M619.50 607.51L622.70 613.08L616.30 613.08Z" fill="#1c1c84" stroke="#111" stroke-width="0.5"/>
<path d="M618.00 611.97L621.20 617.54L614.80 617.54Z" fill="#1c1c84" stroke="#111" stroke-width="0.5"/>
<path d="M621.00 613.75L624.20 619.32L617.80 619.32Z" fill="#1c1c84" stroke="#111" stroke-width="0.5"/>
<path d="M619.50 615.54L622.70 621.10L616.30 621.10Z" fill="#1c1c84" stroke="#111" stroke-width="0.5"/>
<path d="M618.50 618.21L621.70 623.78L615.30 623.78Z" fill="#1c1c84" stroke="#111" stroke-width="0.5"/>
<path d="M620.50 620.00L623.70 625.56L617.30 625.56Z" fill="#1c1c84" stroke="#111" stroke-width="0.5"/>
<path d="M619.50 620.89L622.70 626.46L616.30 626.46Z" fill="#1c1c84" stroke="#111" stroke-width="0.5"/>
<path d="M632.80 565.58L636.00 571.15L629.60 571.15Z" fill="#e8541c" stroke="#311" stroke-width="0.5"/>
<path d="M631.30 569.15L634.50 574.72L628.10 574.72Z" fill="#e8541c" stroke="#311" stroke-width="0.5"/>
<path d="M634.30 570.04L637.50 575.61L631.10 575.61Z" fill="#e8541c" stroke="#311" stroke-width="0.5"/>
<path d="M632.80 572.72L636.00 578.29L629.60 578.29Z" fill="#e8541c" stroke="#311" stroke-width="0.5"/>
<path d="M631.30 576.29L634.50 581.86L628.10 581.86Z" fill="#e8541c" stroke="#311" stroke-width="0.5"/>
<path d="M634.30 577.18L637.50 582.75L631.10 582.75Z" fill="#e8541c" stroke="#311" stroke-width="0.5"/>
<path d="M609.5 666L609.5 756.3M609.5 756.3L640.4 756.3" stroke="#777" stroke-width="0.9" fill="none"/>
<path d="M607.1 756.3L609.5 756.3M608.1 747.27L609.5 747.27M608.1 738.24L609.5 738.24M608.1 729.21L609.5 729.21M608.1 720.18L609.5 720.18M607.1 711.15L609.5 711.15M608.1 702.12L609.5 702.12M608.1 693.09L609.5 693.09M608.1 684.06L609.5 684.06M608.1 675.03L609.5 675.03M607.1 666L609.5 666" stroke="#777" stroke-width="0.8" fill="none"/>
<text x="605.90" y="760.25" font-size="11.1" text-anchor="end">0</text>
<text x="605.90" y="715.10" font-size="11.1" text-anchor="end">50</text>
<text x="605.90" y="669.95" font-size="11.1" text-anchor="end">100</text>
<path d="M619.5 756.3L619.5 758.5M632.8 756.3L632.8 758.5" stroke="#777" stroke-width="0.8" fill="none"/>
<text x="626.10" y="675.90" font-size="15" text-anchor="middle" font-weight="bold">***</text>
<path d="M619.1 673.5L633.1 673.5" stroke="#777" stroke-width="1" fill="none"/>
<path d="M619.5 729.21L619.5 705.73M616.5 714.76L622.5 714.76M616.5 729.21L622.5 729.21M616.5 705.73L622.5 705.73" stroke="#555" stroke-width="0.8" fill="none"/>
<path d="M618.00 698.78L621.20 704.35L614.80 704.35Z" fill="#1c1c84" stroke="#111" stroke-width="0.5"/>
<path d="M621.00 698.78L624.20 704.35L617.80 704.35Z" fill="#1c1c84" stroke="#111" stroke-width="0.5"/>
<path d="M619.50 701.49L622.70 707.06L616.30 707.06Z" fill="#1c1c84" stroke="#111" stroke-width="0.5"/>
<path d="M619.50 708.71L622.70 714.28L616.30 714.28Z" fill="#1c1c84" stroke="#111" stroke-width="0.5"/>
<path d="M618.00 710.52L621.20 716.09L614.80 716.09Z" fill="#1c1c84" stroke="#111" stroke-width="0.5"/>
<path d="M621.00 712.32L624.20 717.89L617.80 717.89Z" fill="#1c1c84" stroke="#111" stroke-width="0.5"/>
<path d="M619.50 718.65L622.70 724.21L616.30 724.21Z" fill="#1c1c84" stroke="#111" stroke-width="0.5"/>
<path d="M619.50 728.58L622.70 734.15L616.30 734.15Z" fill="#1c1c84" stroke="#111" stroke-width="0.5"/>
<path d="M619.50 739.41L622.70 744.98L616.30 744.98Z" fill="#1c1c84" stroke="#111" stroke-width="0.5"/>
<path d="M632.80 743.93L636.00 749.50L629.60 749.50Z" fill="#e8541c" stroke="#311" stroke-width="0.5"/>
<path d="M631.30 746.64L634.50 752.21L628.10 752.21Z" fill="#e8541c" stroke="#311" stroke-width="0.5"/>
<path d="M634.30 745.74L637.50 751.30L631.10 751.30Z" fill="#e8541c" stroke="#311" stroke-width="0.5"/>
<path d="M632.80 750.25L636.00 755.82L629.60 755.82Z" fill="#e8541c" stroke="#311" stroke-width="0.5"/>
<path d="M632.80 751.15L636.00 756.72L629.60 756.72Z" fill="#e8541c" stroke="#311" stroke-width="0.5"/>
<text x="583.60" y="371.70" font-size="11.4" text-anchor="middle" transform="rotate(-90 583.60 371.70)">% CXCR6+ cells</text>
<text x="583.00" y="483.00" font-size="11.4" text-anchor="middle" transform="rotate(-90 583.00 483.00)">% SLAMf1+ cells</text>
<text x="583.50" y="595.00" font-size="11.4" text-anchor="middle" transform="rotate(-90 583.50 595.00)">% CD54+ cells</text>
<text x="583.50" y="711.00" font-size="11.4" text-anchor="middle" transform="rotate(-90 583.50 711.00)">% CXCR5+ cells</text>
<text x="1.90" y="787.20" font-size="14" font-weight="bold">K</text>
<text x="143.20" y="787.00" font-size="12.8">1wk</text>
<text x="56.50" y="802.00" font-size="12.5">PEPCK mRNA</text>
<rect x="51.20" y="806.30" width="91.50" height="3.20" fill="#2c2ca0"/>
<text x="161.90" y="802.70" font-size="12.7">+IL-12 mRNA</text>
<rect x="154.00" y="806.20" width="91.10" height="3.00" fill="#f0a028"/>
<text x="2.10" y="858.80" font-size="14.2">IS</text>
<text x="0.70" y="967.10" font-size="14.2">NIS</text>
<text x="41.00" y="847.50" font-size="13.9" text-anchor="middle" transform="rotate(-90 41.00 847.50)">CD45.2</text>
<path d="M35.6 1010L35.6 882" stroke="#000" stroke-width="1" fill="none"/>
<path d="M35.6 876.1L39.4 882.8L31.8 882.8Z" fill="#000"/>
<path d="M35.6 1010L181 1010" stroke="#000" stroke-width="1" fill="none"/>
<path d="M188.2 1010L181.5 1006.2L181.5 1013.8Z" fill="#000"/>
<text x="195.50" y="1014.20" font-size="13.9">CD45.1</text>
<path d="M101.5 825h1.4v1.4h-1.4zM95.7 827.9h1.4v1.4h-1.4zM105.8 827.9h1.4v1.4h-1.4zM81.2 829.4h1.4v1.4h-1.4zM98.6 829.4h2.9v1.4h-2.9zM107.3 829.4h1.4v1.4h-1.4zM85.5 830.9h2.9v1.4h-2.9zM94.2 830.9h1.4v1.4h-1.4zM97.1 830.9h11.6v1.4h-11.6zM111.6 830.9h1.4v1.4h-1.4zM123.2 830.9h1.4v1.4h-1.4zM85.5 832.3h2.9v1.4h-2.9zM89.9 832.3h5.8v1.4h-5.8zM110.2 832.3h2.9v1.4h-2.9zM124.7 832.3h1.4v1.4h-1.4zM85.5 833.8h5.8v1.4h-5.8zM111.6 833.8h2.9v1.4h-2.9zM116 833.8h1.4v1.4h-1.4zM81.2 835.2h5.8v1.4h-5.8zM113.1 835.2h1.4v1.4h-1.4zM116 835.2h1.4v1.4h-1.4zM124.7 835.2h1.4v1.4h-1.4zM81.2 836.6h4.3v1.4h-4.3zM113.1 836.6h4.3v1.4h-4.3zM118.9 836.6h1.4v1.4h-1.4zM81.2 838.1h4.3v1.4h-4.3zM111.6 838.1h5.8v1.4h-5.8zM82.6 839.5h1.4v1.4h-1.4zM111.6 839.5h1.4v1.4h-1.4zM76.8 841h1.4v1.4h-1.4zM82.6 841h1.4v1.4h-1.4zM108.8 841h5.8v1.4h-5.8zM82.6 842.4h5.8v1.4h-5.8zM104.4 842.4h5.8v1.4h-5.8zM116 842.4h1.4v1.4h-1.4zM82.6 843.9h2.9v1.4h-2.9zM87 843.9h5.8v1.4h-5.8zM94.2 843.9h8.7v1.4h-8.7zM105.8 843.9h1.4v1.4h-1.4zM87 845.4h1.4v1.4h-1.4zM91.3 845.4h8.7v1.4h-8.7zM107.3 845.4h1.4v1.4h-1.4zM87 846.8h1.4v1.4h-1.4zM95.7 846.8h1.4v1.4h-1.4zM103 849.7h1.4v1.4h-1.4z" fill="#2a2aa8"/>
<path d="M95.7 832.3h5.8v1.4h-5.8zM103 832.3h1.4v1.4h-1.4zM105.8 832.3h4.3v1.4h-4.3zM91.3 833.8h1.4v1.4h-1.4zM110.2 833.8h1.4v1.4h-1.4zM87 835.2h2.9v1.4h-2.9zM111.6 835.2h1.4v1.4h-1.4zM85.5 836.6h1.4v1.4h-1.4zM111.6 836.6h1.4v1.4h-1.4zM110.2 838.1h1.4v1.4h-1.4zM84.1 839.5h2.9v1.4h-2.9zM110.2 839.5h1.4v1.4h-1.4zM84.1 841h2.9v1.4h-2.9zM107.3 841h1.4v1.4h-1.4zM88.5 842.4h2.9v1.4h-2.9zM98.6 842.4h1.4v1.4h-1.4zM101.5 842.4h2.9v1.4h-2.9zM92.8 843.9h1.4v1.4h-1.4z" fill="#3350c0"/>
<path d="M101.5 832.3h1.4v1.4h-1.4zM104.4 832.3h1.4v1.4h-1.4zM92.8 833.8h2.9v1.4h-2.9zM108.8 833.8h1.4v1.4h-1.4zM89.9 835.2h1.4v1.4h-1.4zM110.2 835.2h1.4v1.4h-1.4zM87 836.6h1.4v1.4h-1.4zM85.5 838.1h1.4v1.4h-1.4zM108.8 839.5h1.4v1.4h-1.4zM87 841h2.9v1.4h-2.9zM105.8 841h1.4v1.4h-1.4zM91.3 842.4h7.2v1.4h-7.2zM100 842.4h1.4v1.4h-1.4z" fill="#3aa0d8"/>
<path d="M95.7 833.8h5.8v1.4h-5.8zM103 833.8h5.8v1.4h-5.8zM91.3 835.2h4.3v1.4h-4.3zM107.3 835.2h2.9v1.4h-2.9zM88.5 836.6h1.4v1.4h-1.4zM108.8 836.6h2.9v1.4h-2.9zM87 838.1h2.9v1.4h-2.9zM108.8 838.1h1.4v1.4h-1.4zM87 839.5h4.3v1.4h-4.3zM107.3 839.5h1.4v1.4h-1.4zM89.9 841h1.4v1.4h-1.4zM95.7 841h10.2v1.4h-10.2z" fill="#58b85a"/>
<path d="M101.5 833.8h1.4v1.4h-1.4zM95.7 835.2h5.8v1.4h-5.8zM89.9 836.6h7.2v1.4h-7.2zM107.3 836.6h1.4v1.4h-1.4zM89.9 838.1h1.4v1.4h-1.4zM95.7 838.1h1.4v1.4h-1.4zM107.3 838.1h1.4v1.4h-1.4zM91.3 839.5h2.9v1.4h-2.9zM95.7 839.5h1.4v1.4h-1.4zM101.5 839.5h1.4v1.4h-1.4zM104.4 839.5h2.9v1.4h-2.9zM91.3 841h4.3v1.4h-4.3z" fill="#a8d040"/>
<path d="M101.5 835.2h5.8v1.4h-5.8zM97.1 836.6h2.9v1.4h-2.9zM103 836.6h4.3v1.4h-4.3zM91.3 838.1h2.9v1.4h-2.9zM100 838.1h1.4v1.4h-1.4zM104.4 838.1h2.9v1.4h-2.9zM94.2 839.5h1.4v1.4h-1.4zM97.1 839.5h4.3v1.4h-4.3zM103 839.5h1.4v1.4h-1.4z" fill="#ece42c"/>
<path d="M100 836.6h2.9v1.4h-2.9zM94.2 838.1h1.4v1.4h-1.4zM97.1 838.1h2.9v1.4h-2.9zM101.5 838.1h2.9v1.4h-2.9z" fill="#f4a020"/>
<path d="M117.5 838.1h1.4v1.4h-1.4zM131.9 842.4h1.4v1.4h-1.4zM123.2 843.9h1.4v1.4h-1.4zM126.1 843.9h1.4v1.4h-1.4zM120.3 845.4h1.4v1.4h-1.4zM114.5 846.8h2.9v1.4h-2.9zM118.9 846.8h5.8v1.4h-5.8zM114.5 848.2h2.9v1.4h-2.9zM126.1 848.2h2.9v1.4h-2.9zM111.6 849.7h2.9v1.4h-2.9zM126.1 849.7h2.9v1.4h-2.9zM108.8 851.1h4.3v1.4h-4.3zM126.1 851.1h1.4v1.4h-1.4zM101.5 852.6h1.4v1.4h-1.4zM108.8 852.6h2.9v1.4h-2.9zM126.1 852.6h4.3v1.4h-4.3zM107.3 854h1.4v1.4h-1.4zM124.7 854h2.9v1.4h-2.9zM105.8 855.5h1.4v1.4h-1.4zM124.7 855.5h1.4v1.4h-1.4zM127.6 855.5h1.4v1.4h-1.4zM101.5 856.9h1.4v1.4h-1.4zM123.2 856.9h2.9v1.4h-2.9zM127.6 856.9h1.4v1.4h-1.4zM121.8 859.9h2.9v1.4h-2.9zM126.1 859.9h1.4v1.4h-1.4zM100 861.3h1.4v1.4h-1.4zM120.3 861.3h2.9v1.4h-2.9zM98.6 862.8h2.9v1.4h-2.9zM118.9 862.8h2.9v1.4h-2.9zM98.6 864.2h2.9v1.4h-2.9zM117.5 864.2h1.4v1.4h-1.4zM98.6 865.6h2.9v1.4h-2.9zM114.5 865.6h2.9v1.4h-2.9zM95.7 867.1h1.4v1.4h-1.4zM98.6 867.1h5.8v1.4h-5.8zM111.6 867.1h2.9v1.4h-2.9zM101.5 868.5h2.9v1.4h-2.9zM105.8 868.5h2.9v1.4h-2.9zM103 870h4.3v1.4h-4.3zM114.5 870h1.4v1.4h-1.4zM127.6 877.2h1.4v1.4h-1.4z" fill="#2a2aa8"/>
<path d="M117.5 848.2h2.9v1.4h-2.9zM121.8 848.2h4.3v1.4h-4.3zM114.5 849.7h2.9v1.4h-2.9zM113.1 851.1h1.4v1.4h-1.4zM124.7 852.6h1.4v1.4h-1.4zM108.8 854h1.4v1.4h-1.4zM107.3 855.5h1.4v1.4h-1.4zM123.2 855.5h1.4v1.4h-1.4zM104.4 856.9h1.4v1.4h-1.4zM103 858.4h1.4v1.4h-1.4zM121.8 858.4h1.4v1.4h-1.4zM101.5 859.9h2.9v1.4h-2.9zM101.5 861.3h1.4v1.4h-1.4zM101.5 864.2h1.4v1.4h-1.4zM116 864.2h1.4v1.4h-1.4zM101.5 865.6h1.4v1.4h-1.4zM113.1 865.6h1.4v1.4h-1.4zM104.4 867.1h1.4v1.4h-1.4zM107.3 867.1h4.3v1.4h-4.3z" fill="#3350c0"/>
<path d="M120.3 848.2h1.4v1.4h-1.4zM124.7 849.7h1.4v1.4h-1.4zM114.5 851.1h1.4v1.4h-1.4zM124.7 851.1h1.4v1.4h-1.4zM111.6 852.6h2.9v1.4h-2.9zM110.2 854h1.4v1.4h-1.4zM105.8 856.9h1.4v1.4h-1.4zM121.8 856.9h1.4v1.4h-1.4zM120.3 858.4h1.4v1.4h-1.4zM118.9 859.9h2.9v1.4h-2.9zM118.9 861.3h1.4v1.4h-1.4zM101.5 862.8h1.4v1.4h-1.4zM117.5 862.8h1.4v1.4h-1.4zM114.5 864.2h1.4v1.4h-1.4zM103 865.6h2.9v1.4h-2.9zM110.2 865.6h2.9v1.4h-2.9zM105.8 867.1h1.4v1.4h-1.4z" fill="#3aa0d8"/>
<path d="M117.5 849.7h7.2v1.4h-7.2zM116 851.1h1.4v1.4h-1.4zM123.2 851.1h1.4v1.4h-1.4zM123.2 852.6h1.4v1.4h-1.4zM111.6 854h2.9v1.4h-2.9zM121.8 854h2.9v1.4h-2.9zM108.8 855.5h1.4v1.4h-1.4zM121.8 855.5h1.4v1.4h-1.4zM120.3 856.9h1.4v1.4h-1.4zM104.4 858.4h1.4v1.4h-1.4zM104.4 859.9h1.4v1.4h-1.4zM103 861.3h1.4v1.4h-1.4zM117.5 861.3h1.4v1.4h-1.4zM103 862.8h2.9v1.4h-2.9zM116 862.8h1.4v1.4h-1.4zM103 864.2h4.3v1.4h-4.3zM113.1 864.2h1.4v1.4h-1.4zM105.8 865.6h4.3v1.4h-4.3z" fill="#58b85a"/>
<path d="M117.5 851.1h5.8v1.4h-5.8zM114.5 852.6h1.4v1.4h-1.4zM118.9 852.6h1.4v1.4h-1.4zM121.8 852.6h1.4v1.4h-1.4zM120.3 854h1.4v1.4h-1.4zM110.2 855.5h2.9v1.4h-2.9zM120.3 855.5h1.4v1.4h-1.4zM107.3 856.9h2.9v1.4h-2.9zM105.8 858.4h1.4v1.4h-1.4zM118.9 858.4h1.4v1.4h-1.4zM105.8 859.9h1.4v1.4h-1.4zM117.5 859.9h1.4v1.4h-1.4zM104.4 861.3h1.4v1.4h-1.4zM116 861.3h1.4v1.4h-1.4zM114.5 862.8h1.4v1.4h-1.4zM108.8 864.2h1.4v1.4h-1.4zM111.6 864.2h1.4v1.4h-1.4z" fill="#a8d040"/>
<path d="M116 852.6h2.9v1.4h-2.9zM120.3 852.6h1.4v1.4h-1.4zM114.5 854h1.4v1.4h-1.4zM118.9 854h1.4v1.4h-1.4zM113.1 855.5h1.4v1.4h-1.4zM110.2 856.9h1.4v1.4h-1.4zM118.9 856.9h1.4v1.4h-1.4zM107.3 858.4h1.4v1.4h-1.4zM107.3 859.9h1.4v1.4h-1.4zM116 859.9h1.4v1.4h-1.4zM105.8 861.3h1.4v1.4h-1.4zM105.8 862.8h1.4v1.4h-1.4zM111.6 862.8h1.4v1.4h-1.4zM107.3 864.2h1.4v1.4h-1.4zM110.2 864.2h1.4v1.4h-1.4z" fill="#ece42c"/>
<path d="M116 854h2.9v1.4h-2.9zM118.9 855.5h1.4v1.4h-1.4zM111.6 856.9h1.4v1.4h-1.4zM108.8 858.4h1.4v1.4h-1.4zM117.5 858.4h1.4v1.4h-1.4zM107.3 861.3h1.4v1.4h-1.4zM114.5 861.3h1.4v1.4h-1.4zM107.3 862.8h1.4v1.4h-1.4zM110.2 862.8h1.4v1.4h-1.4zM113.1 862.8h1.4v1.4h-1.4z" fill="#f4a020"/>
<path d="M114.5 855.5h4.3v1.4h-4.3zM113.1 856.9h5.8v1.4h-5.8zM110.2 858.4h7.2v1.4h-7.2zM108.8 859.9h7.2v1.4h-7.2zM108.8 861.3h5.8v1.4h-5.8zM108.8 862.8h1.4v1.4h-1.4z" fill="#e82818"/>
<rect x="75.00" y="821.40" width="46.40" height="26.70" fill="none" stroke="#333" stroke-width="0.8"/>
<rect x="50.90" y="812.40" width="90.50" height="81.70" fill="none" stroke="#8a8a8a" stroke-width="0.9"/>
<path d="M49.8 883.52L50.9 883.52M62.61 894.1L62.61 895.2M49.8 879.73L50.9 879.73M66.82 894.1L66.82 895.2M49.8 877.03L50.9 877.03M69.8 894.1L69.8 895.2M49.8 874.95L50.9 874.95M72.12 894.1L72.12 895.2M49.8 873.24L50.9 873.24M74.01 894.1L74.01 895.2M49.8 871.79L50.9 871.79M75.61 894.1L75.61 895.2M49.8 870.54L50.9 870.54M76.99 894.1L76.99 895.2M49.8 869.44L50.9 869.44M78.21 894.1L78.21 895.2M48.7 868.46L50.9 868.46M79.31 894.1L79.31 896.3M49.8 861.97L50.9 861.97M86.5 894.1L86.5 895.2M49.8 858.17L50.9 858.17M90.7 894.1L90.7 895.2M49.8 855.48L50.9 855.48M93.69 894.1L93.69 895.2M49.8 853.39L50.9 853.39M96 894.1L96 895.2M49.8 851.68L50.9 851.68M97.89 894.1L97.89 895.2M49.8 850.24L50.9 850.24M99.49 894.1L99.49 895.2M49.8 848.98L50.9 848.98M100.87 894.1L100.87 895.2M49.8 847.88L50.9 847.88M102.1 894.1L102.1 895.2M48.7 846.9L50.9 846.9M103.19 894.1L103.19 896.3M49.8 840.41L50.9 840.41M110.38 894.1L110.38 895.2M49.8 836.61L50.9 836.61M114.58 894.1L114.58 895.2M49.8 833.92L50.9 833.92M117.57 894.1L117.57 895.2M49.8 831.83L50.9 831.83M119.88 894.1L119.88 895.2M49.8 830.12L50.9 830.12M121.77 894.1L121.77 895.2M49.8 828.68L50.9 828.68M123.37 894.1L123.37 895.2M49.8 827.43L50.9 827.43M124.76 894.1L124.76 895.2M49.8 826.32L50.9 826.32M125.98 894.1L125.98 895.2M48.7 825.34L50.9 825.34M127.07 894.1L127.07 896.3M49.8 818.85L50.9 818.85M134.26 894.1L134.26 895.2M49.8 815.05L50.9 815.05M138.47 894.1L138.47 895.2" stroke="#555" stroke-width="0.5" fill="none"/>
<text x="57.00" y="872.20" font-size="13.7">48%</text>
<path d="M205.9 822.1h1.4v1.4h-1.4zM188.5 826.5h1.4v1.4h-1.4zM192.8 826.5h1.4v1.4h-1.4zM207.3 826.5h1.4v1.4h-1.4zM213.2 826.5h1.4v1.4h-1.4zM179.8 827.9h1.4v1.4h-1.4zM182.7 827.9h1.4v1.4h-1.4zM185.6 827.9h4.3v1.4h-4.3zM191.4 827.9h1.4v1.4h-1.4zM194.3 827.9h5.8v1.4h-5.8zM203 827.9h1.4v1.4h-1.4zM205.9 827.9h2.9v1.4h-2.9zM211.7 827.9h1.4v1.4h-1.4zM179.8 829.4h4.3v1.4h-4.3zM200.1 829.4h1.4v1.4h-1.4zM205.9 829.4h7.2v1.4h-7.2zM214.6 829.4h2.9v1.4h-2.9zM178.3 830.9h2.9v1.4h-2.9zM211.7 830.9h7.2v1.4h-7.2zM223.3 830.9h1.4v1.4h-1.4zM176.9 832.3h2.9v1.4h-2.9zM216 832.3h2.9v1.4h-2.9zM175.4 833.8h2.9v1.4h-2.9zM217.5 833.8h1.4v1.4h-1.4zM220.4 833.8h2.9v1.4h-2.9zM162.4 835.2h1.4v1.4h-1.4zM176.9 835.2h1.4v1.4h-1.4zM217.5 835.2h1.4v1.4h-1.4zM240.7 835.2h1.4v1.4h-1.4zM175.4 836.6h2.9v1.4h-2.9zM216 836.6h7.2v1.4h-7.2zM168.2 838.1h1.4v1.4h-1.4zM171.1 838.1h1.4v1.4h-1.4zM175.4 838.1h1.4v1.4h-1.4zM217.5 838.1h1.4v1.4h-1.4zM220.4 838.1h1.4v1.4h-1.4zM172.5 839.5h1.4v1.4h-1.4zM175.4 839.5h2.9v1.4h-2.9zM216 839.5h1.4v1.4h-1.4zM175.4 841h2.9v1.4h-2.9zM175.4 842.4h5.8v1.4h-5.8zM211.7 842.4h1.4v1.4h-1.4zM181.2 843.9h1.4v1.4h-1.4zM208.8 843.9h4.3v1.4h-4.3zM181.2 845.4h1.4v1.4h-1.4zM185.6 845.4h4.3v1.4h-4.3zM201.5 845.4h10.2v1.4h-10.2zM176.9 846.8h1.4v1.4h-1.4zM187 846.8h1.4v1.4h-1.4zM194.3 846.8h2.9v1.4h-2.9zM200.1 846.8h5.8v1.4h-5.8zM184.2 856.9h1.4v1.4h-1.4zM197.2 856.9h1.4v1.4h-1.4z" fill="#2a2aa8"/>
<path d="M189.9 827.9h1.4v1.4h-1.4zM192.8 827.9h1.4v1.4h-1.4zM184.2 829.4h2.9v1.4h-2.9zM194.3 829.4h1.4v1.4h-1.4zM197.2 829.4h2.9v1.4h-2.9zM201.5 829.4h4.3v1.4h-4.3zM181.2 830.9h1.4v1.4h-1.4zM204.4 830.9h7.2v1.4h-7.2zM179.8 832.3h1.4v1.4h-1.4zM213.2 832.3h2.9v1.4h-2.9zM178.3 833.8h1.4v1.4h-1.4zM214.6 833.8h2.9v1.4h-2.9zM178.3 835.2h1.4v1.4h-1.4zM214.6 835.2h2.9v1.4h-2.9zM178.3 836.6h1.4v1.4h-1.4zM214.6 836.6h1.4v1.4h-1.4zM176.9 838.1h2.9v1.4h-2.9zM213.2 838.1h4.3v1.4h-4.3zM178.3 839.5h1.4v1.4h-1.4zM213.2 839.5h2.9v1.4h-2.9zM178.3 841h2.9v1.4h-2.9zM211.7 841h2.9v1.4h-2.9zM181.2 842.4h2.9v1.4h-2.9zM208.8 842.4h2.9v1.4h-2.9zM182.7 843.9h4.3v1.4h-4.3zM204.4 843.9h4.3v1.4h-4.3zM189.9 845.4h11.6v1.4h-11.6z" fill="#3350c0"/>
<path d="M187 829.4h7.2v1.4h-7.2zM195.8 829.4h1.4v1.4h-1.4zM182.7 830.9h1.4v1.4h-1.4zM201.5 830.9h2.9v1.4h-2.9zM181.2 832.3h1.4v1.4h-1.4zM207.3 832.3h5.8v1.4h-5.8zM210.2 833.8h4.3v1.4h-4.3zM213.2 835.2h1.4v1.4h-1.4zM213.2 836.6h1.4v1.4h-1.4zM179.8 838.1h1.4v1.4h-1.4zM179.8 839.5h1.4v1.4h-1.4zM211.7 839.5h1.4v1.4h-1.4zM181.2 841h1.4v1.4h-1.4zM208.8 841h2.9v1.4h-2.9zM185.6 842.4h1.4v1.4h-1.4zM205.9 842.4h2.9v1.4h-2.9zM187 843.9h7.2v1.4h-7.2zM200.1 843.9h4.3v1.4h-4.3z" fill="#3aa0d8"/>
<path d="M184.2 830.9h4.3v1.4h-4.3zM192.8 830.9h8.7v1.4h-8.7zM182.7 832.3h2.9v1.4h-2.9zM200.1 832.3h7.2v1.4h-7.2zM179.8 833.8h2.9v1.4h-2.9zM203 833.8h2.9v1.4h-2.9zM208.8 833.8h1.4v1.4h-1.4zM179.8 835.2h1.4v1.4h-1.4zM208.8 835.2h4.3v1.4h-4.3zM179.8 836.6h1.4v1.4h-1.4zM210.2 836.6h2.9v1.4h-2.9zM181.2 838.1h1.4v1.4h-1.4zM210.2 838.1h2.9v1.4h-2.9zM181.2 839.5h1.4v1.4h-1.4zM208.8 839.5h2.9v1.4h-2.9zM182.7 841h2.9v1.4h-2.9zM205.9 841h2.9v1.4h-2.9zM184.2 842.4h1.4v1.4h-1.4zM187 842.4h2.9v1.4h-2.9zM191.4 842.4h1.4v1.4h-1.4zM194.3 842.4h1.4v1.4h-1.4zM200.1 842.4h5.8v1.4h-5.8zM194.3 843.9h5.8v1.4h-5.8z" fill="#58b85a"/>
<path d="M188.5 830.9h1.4v1.4h-1.4zM191.4 830.9h1.4v1.4h-1.4zM194.3 832.3h5.8v1.4h-5.8zM182.7 833.8h1.4v1.4h-1.4zM198.7 833.8h1.4v1.4h-1.4zM201.5 833.8h1.4v1.4h-1.4zM205.9 833.8h2.9v1.4h-2.9zM181.2 835.2h1.4v1.4h-1.4zM207.3 835.2h1.4v1.4h-1.4zM181.2 836.6h1.4v1.4h-1.4zM205.9 836.6h4.3v1.4h-4.3zM182.7 838.1h1.4v1.4h-1.4zM204.4 838.1h1.4v1.4h-1.4zM207.3 838.1h2.9v1.4h-2.9zM182.7 839.5h2.9v1.4h-2.9zM203 839.5h1.4v1.4h-1.4zM207.3 839.5h1.4v1.4h-1.4zM185.6 841h2.9v1.4h-2.9zM201.5 841h4.3v1.4h-4.3zM189.9 842.4h1.4v1.4h-1.4zM192.8 842.4h1.4v1.4h-1.4zM195.8 842.4h4.3v1.4h-4.3z" fill="#a8d040"/>
<path d="M189.9 830.9h1.4v1.4h-1.4zM185.6 832.3h2.9v1.4h-2.9zM189.9 832.3h2.9v1.4h-2.9zM184.2 833.8h1.4v1.4h-1.4zM195.8 833.8h1.4v1.4h-1.4zM200.1 833.8h1.4v1.4h-1.4zM182.7 835.2h1.4v1.4h-1.4zM200.1 835.2h7.2v1.4h-7.2zM201.5 836.6h1.4v1.4h-1.4zM204.4 836.6h1.4v1.4h-1.4zM203 838.1h1.4v1.4h-1.4zM205.9 838.1h1.4v1.4h-1.4zM185.6 839.5h2.9v1.4h-2.9zM197.2 839.5h1.4v1.4h-1.4zM204.4 839.5h2.9v1.4h-2.9zM188.5 841h4.3v1.4h-4.3zM197.2 841h4.3v1.4h-4.3z" fill="#ece42c"/>
<path d="M188.5 832.3h1.4v1.4h-1.4zM192.8 832.3h1.4v1.4h-1.4zM194.3 833.8h1.4v1.4h-1.4zM197.2 833.8h1.4v1.4h-1.4zM197.2 835.2h2.9v1.4h-2.9zM182.7 836.6h1.4v1.4h-1.4zM198.7 836.6h1.4v1.4h-1.4zM203 836.6h1.4v1.4h-1.4zM185.6 838.1h2.9v1.4h-2.9zM194.3 838.1h1.4v1.4h-1.4zM198.7 838.1h1.4v1.4h-1.4zM201.5 838.1h1.4v1.4h-1.4zM189.9 839.5h1.4v1.4h-1.4zM192.8 839.5h4.3v1.4h-4.3zM198.7 839.5h4.3v1.4h-4.3zM192.8 841h4.3v1.4h-4.3z" fill="#f4a020"/>
<path d="M185.6 833.8h8.7v1.4h-8.7zM184.2 835.2h13v1.4h-13zM184.2 836.6h14.5v1.4h-14.5zM200.1 836.6h1.4v1.4h-1.4zM184.2 838.1h1.4v1.4h-1.4zM188.5 838.1h5.8v1.4h-5.8zM195.8 838.1h2.9v1.4h-2.9zM200.1 838.1h1.4v1.4h-1.4zM188.5 839.5h1.4v1.4h-1.4zM191.4 839.5h1.4v1.4h-1.4z" fill="#e82818"/>
<path d="M220.4 849.7h1.4v1.4h-1.4zM224.8 849.7h1.4v1.4h-1.4zM230.5 849.7h1.4v1.4h-1.4zM217.5 851.1h1.4v1.4h-1.4zM221.8 851.1h4.3v1.4h-4.3zM229.1 851.1h1.4v1.4h-1.4zM218.9 852.6h11.6v1.4h-11.6zM211.7 854h1.4v1.4h-1.4zM217.5 854h5.8v1.4h-5.8zM226.2 854h4.3v1.4h-4.3zM232 854h1.4v1.4h-1.4zM213.2 855.5h7.2v1.4h-7.2zM227.7 855.5h2.9v1.4h-2.9zM211.7 856.9h5.8v1.4h-5.8zM227.7 856.9h7.2v1.4h-7.2zM211.7 858.4h4.3v1.4h-4.3zM227.7 858.4h2.9v1.4h-2.9zM200.1 859.9h1.4v1.4h-1.4zM205.9 859.9h1.4v1.4h-1.4zM208.8 859.9h4.3v1.4h-4.3zM229.1 859.9h2.9v1.4h-2.9zM188.5 861.3h1.4v1.4h-1.4zM203 861.3h1.4v1.4h-1.4zM205.9 861.3h4.3v1.4h-4.3zM227.7 861.3h2.9v1.4h-2.9zM233.4 861.3h1.4v1.4h-1.4zM197.2 862.8h1.4v1.4h-1.4zM201.5 862.8h4.3v1.4h-4.3zM226.2 862.8h2.9v1.4h-2.9zM233.4 862.8h1.4v1.4h-1.4zM197.2 864.2h5.8v1.4h-5.8zM224.8 864.2h4.3v1.4h-4.3zM197.2 865.6h4.3v1.4h-4.3zM223.3 865.6h2.9v1.4h-2.9zM189.9 867.1h1.4v1.4h-1.4zM194.3 867.1h1.4v1.4h-1.4zM197.2 867.1h4.3v1.4h-4.3zM220.4 867.1h4.3v1.4h-4.3zM194.3 868.5h5.8v1.4h-5.8zM217.5 868.5h7.2v1.4h-7.2zM232 868.5h1.4v1.4h-1.4zM192.8 870h13v1.4h-13zM211.7 870h8.7v1.4h-8.7zM201.5 871.4h10.2v1.4h-10.2zM213.2 871.4h1.4v1.4h-1.4zM187 872.9h1.4v1.4h-1.4zM203 872.9h4.3v1.4h-4.3zM223.3 872.9h1.4v1.4h-1.4zM192.8 874.4h1.4v1.4h-1.4z" fill="#2a2aa8"/>
<path d="M223.3 854h2.9v1.4h-2.9zM221.8 855.5h1.4v1.4h-1.4zM226.2 855.5h1.4v1.4h-1.4zM217.5 856.9h1.4v1.4h-1.4zM226.2 856.9h1.4v1.4h-1.4zM216 858.4h1.4v1.4h-1.4zM213.2 859.9h1.4v1.4h-1.4zM226.2 859.9h2.9v1.4h-2.9zM210.2 861.3h2.9v1.4h-2.9zM226.2 861.3h1.4v1.4h-1.4zM205.9 862.8h1.4v1.4h-1.4zM224.8 862.8h1.4v1.4h-1.4zM203 864.2h1.4v1.4h-1.4zM223.3 864.2h1.4v1.4h-1.4zM201.5 865.6h1.4v1.4h-1.4zM221.8 865.6h1.4v1.4h-1.4zM217.5 867.1h2.9v1.4h-2.9zM200.1 868.5h4.3v1.4h-4.3zM213.2 868.5h4.3v1.4h-4.3zM205.9 870h5.8v1.4h-5.8z" fill="#3350c0"/>
<path d="M220.4 855.5h1.4v1.4h-1.4zM223.3 855.5h2.9v1.4h-2.9zM218.9 856.9h2.9v1.4h-2.9zM224.8 856.9h1.4v1.4h-1.4zM217.5 858.4h1.4v1.4h-1.4zM226.2 858.4h1.4v1.4h-1.4zM214.6 859.9h1.4v1.4h-1.4zM213.2 861.3h1.4v1.4h-1.4zM224.8 861.3h1.4v1.4h-1.4zM207.3 862.8h2.9v1.4h-2.9zM204.4 864.2h1.4v1.4h-1.4zM221.8 864.2h1.4v1.4h-1.4zM201.5 867.1h1.4v1.4h-1.4zM204.4 868.5h4.3v1.4h-4.3zM210.2 868.5h1.4v1.4h-1.4z" fill="#3aa0d8"/>
<path d="M221.8 856.9h2.9v1.4h-2.9zM218.9 858.4h7.2v1.4h-7.2zM216 859.9h10.2v1.4h-10.2zM214.6 861.3h10.2v1.4h-10.2zM210.2 862.8h14.5v1.4h-14.5zM205.9 864.2h15.9v1.4h-15.9zM203 865.6h18.8v1.4h-18.8zM203 867.1h14.5v1.4h-14.5zM208.8 868.5h1.4v1.4h-1.4zM211.7 868.5h1.4v1.4h-1.4z" fill="#58b85a"/>
<rect x="173.10" y="821.40" width="46.50" height="27.80" fill="none" stroke="#333" stroke-width="0.8"/>
<rect x="153.60" y="813.50" width="91.30" height="82.10" fill="none" stroke="#8a8a8a" stroke-width="0.9"/>
<path d="M152.5 884.97L153.6 884.97M165.42 895.6L165.42 896.7M152.5 881.16L153.6 881.16M169.66 895.6L169.66 896.7M152.5 878.45L153.6 878.45M172.67 895.6L172.67 896.7M152.5 876.35L153.6 876.35M175.01 895.6L175.01 896.7M152.5 874.64L153.6 874.64M176.91 895.6L176.91 896.7M152.5 873.19L153.6 873.19M178.53 895.6L178.53 896.7M152.5 871.93L153.6 871.93M179.92 895.6L179.92 896.7M152.5 870.82L153.6 870.82M181.16 895.6L181.16 896.7M151.4 869.83L153.6 869.83M182.26 895.6L182.26 897.8M152.5 863.31L153.6 863.31M189.51 895.6L189.51 896.7M152.5 859.49L153.6 859.49M193.75 895.6L193.75 896.7M152.5 856.79L153.6 856.79M196.76 895.6L196.76 896.7M152.5 854.69L153.6 854.69M199.1 895.6L199.1 896.7M152.5 852.97L153.6 852.97M201.01 895.6L201.01 896.7M152.5 851.52L153.6 851.52M202.62 895.6L202.62 896.7M152.5 850.26L153.6 850.26M204.02 895.6L204.02 896.7M152.5 849.16L153.6 849.16M205.25 895.6L205.25 896.7M151.4 848.16L153.6 848.16M206.35 895.6L206.35 897.8M152.5 841.64L153.6 841.64M213.6 895.6L213.6 896.7M152.5 837.83L153.6 837.83M217.85 895.6L217.85 896.7M152.5 835.12L153.6 835.12M220.86 895.6L220.86 896.7M152.5 833.02L153.6 833.02M223.19 895.6L223.19 896.7M152.5 831.31L153.6 831.31M225.1 895.6L225.1 896.7M152.5 829.86L153.6 829.86M226.71 895.6L226.71 896.7M152.5 828.6L153.6 828.6M228.11 895.6L228.11 896.7M152.5 827.49L153.6 827.49M229.34 895.6L229.34 896.7M151.4 826.5L153.6 826.5M230.44 895.6L230.44 897.8M152.5 819.98L153.6 819.98M237.7 895.6L237.7 896.7M152.5 816.16L153.6 816.16M241.94 895.6L241.94 896.7" stroke="#555" stroke-width="0.5" fill="none"/>
<text x="156.60" y="872.20" font-size="13.7">73%</text>
<path d="M79.8 938.1h5.8v1.4h-5.8zM79.8 939.6h5.8v1.4h-5.8zM78.3 941h7.2v1.4h-7.2zM78.3 942.5h5.8v1.4h-5.8z" fill="#2a2aa8"/>
<path d="M114.5 943.9h1.4v1.4h-1.4z" fill="#2a2aa8"/>
<path d="M102.4 956.8h3.2v1.6h-3.2zM100.8 958.4h1.6v1.6h-1.6zM102.4 960h1.6v1.6h-1.6zM99.2 961.6h1.6v1.6h-1.6zM104 961.6h3.2v1.6h-3.2zM96 963.2h1.6v1.6h-1.6zM100.8 963.2h8v1.6h-8zM112 963.2h1.6v1.6h-1.6zM100.8 964.8h4.8v1.6h-4.8zM107.2 964.8h1.6v1.6h-1.6zM88 966.4h1.6v1.6h-1.6zM94.4 966.4h1.6v1.6h-1.6zM97.6 966.4h1.6v1.6h-1.6zM102.4 966.4h6.4v1.6h-6.4zM92.8 968h1.6v1.6h-1.6zM96 968h1.6v1.6h-1.6zM99.2 968h11.2v1.6h-11.2zM113.6 968h1.6v1.6h-1.6zM83.2 969.6h1.6v1.6h-1.6zM94.4 969.6h3.2v1.6h-3.2zM99.2 969.6h12.8v1.6h-12.8zM91.2 971.2h1.6v1.6h-1.6zM94.4 971.2h1.6v1.6h-1.6zM97.6 971.2h1.6v1.6h-1.6zM100.8 971.2h6.4v1.6h-6.4zM108.8 971.2h1.6v1.6h-1.6zM97.6 972.8h9.6v1.6h-9.6zM75.2 974.4h1.6v1.6h-1.6zM83.2 974.4h1.6v1.6h-1.6zM92.8 974.4h1.6v1.6h-1.6zM104 976h1.6v1.6h-1.6zM107.2 976h1.6v1.6h-1.6zM94.4 977.6h1.6v1.6h-1.6z" fill="#2a2aa8"/>
<path d="M97.6 969.6h3.2v1.6h-3.2zM104 969.6h3.2v1.6h-3.2zM96 971.2h12.8v1.6h-12.8zM97.6 972.8h1.6v1.6h-1.6zM100.8 972.8h1.6v1.6h-1.6zM104 972.8h3.2v1.6h-3.2z" fill="#2a2aa8"/>
<path d="M97.6 969.6h9.6v4.8h-9.6zM107.2 971.2h3.2v3.2h-3.2zM94.4 971.2h3.2v1.6h-3.2z" fill="#f0b020" opacity="0.95"/><path d="M100.8 969.6h1.6v1.6h-1.6zM104 971.2h1.6v1.6h-1.6z" fill="#e82a18"/>
<rect x="70.60" y="927.30" width="32.10" height="24.80" fill="none" stroke="#333" stroke-width="0.8"/>
<rect x="50.20" y="917.50" width="90.50" height="81.80" fill="none" stroke="#8a8a8a" stroke-width="0.9"/>
<path d="M49.1 988.71L50.2 988.71M61.91 999.3L61.91 1000.4M49.1 984.91L50.2 984.91M66.12 999.3L66.12 1000.4M49.1 982.21L50.2 982.21M69.1 999.3L69.1 1000.4M49.1 980.12L50.2 980.12M71.42 999.3L71.42 1000.4M49.1 978.41L50.2 978.41M73.31 999.3L73.31 1000.4M49.1 976.97L50.2 976.97M74.91 999.3L74.91 1000.4M49.1 975.72L50.2 975.72M76.29 999.3L76.29 1000.4M49.1 974.61L50.2 974.61M77.51 999.3L77.51 1000.4M48 973.62L50.2 973.62M78.61 999.3L78.61 1001.5M49.1 967.13L50.2 967.13M85.8 999.3L85.8 1000.4M49.1 963.32L50.2 963.32M90 999.3L90 1000.4M49.1 960.63L50.2 960.63M92.99 999.3L92.99 1000.4M49.1 958.54L50.2 958.54M95.3 999.3L95.3 1000.4M49.1 956.83L50.2 956.83M97.19 999.3L97.19 1000.4M49.1 955.38L50.2 955.38M98.79 999.3L98.79 1000.4M49.1 954.13L50.2 954.13M100.17 999.3L100.17 1000.4M49.1 953.03L50.2 953.03M101.4 999.3L101.4 1000.4M48 952.04L50.2 952.04M102.49 999.3L102.49 1001.5M49.1 945.54L50.2 945.54M109.68 999.3L109.68 1000.4M49.1 941.74L50.2 941.74M113.88 999.3L113.88 1000.4M49.1 939.04L50.2 939.04M116.87 999.3L116.87 1000.4M49.1 936.95L50.2 936.95M119.18 999.3L119.18 1000.4M49.1 935.24L50.2 935.24M121.07 999.3L121.07 1000.4M49.1 933.8L50.2 933.8M122.67 999.3L122.67 1000.4M49.1 932.54L50.2 932.54M124.06 999.3L124.06 1000.4M49.1 931.44L50.2 931.44M125.28 999.3L125.28 1000.4M48 930.45L50.2 930.45M126.37 999.3L126.37 1001.5M49.1 923.95L50.2 923.95M133.56 999.3L133.56 1000.4M49.1 920.15L50.2 920.15M137.77 999.3L137.77 1000.4" stroke="#555" stroke-width="0.5" fill="none"/>
<text x="112.20" y="938.00" font-size="13.7">9%</text>
<path d="M200.1 922.2h1.4v1.4h-1.4zM184.2 928h1.4v1.4h-1.4zM200.1 928h1.4v1.4h-1.4zM182.7 929.4h1.4v1.4h-1.4zM185.6 929.4h5.8v1.4h-5.8zM195.8 929.4h1.4v1.4h-1.4zM198.7 929.4h1.4v1.4h-1.4zM182.7 930.9h1.4v1.4h-1.4zM187 930.9h1.4v1.4h-1.4zM194.3 930.9h4.3v1.4h-4.3zM201.5 930.9h1.4v1.4h-1.4zM204.4 930.9h1.4v1.4h-1.4zM181.2 932.4h1.4v1.4h-1.4zM194.3 932.4h8.7v1.4h-8.7zM172.5 933.8h1.4v1.4h-1.4zM175.4 933.8h1.4v1.4h-1.4zM179.8 933.8h1.4v1.4h-1.4zM189.9 933.8h2.9v1.4h-2.9zM198.7 933.8h4.3v1.4h-4.3zM200.1 935.2h1.4v1.4h-1.4zM179.8 936.7h1.4v1.4h-1.4zM189.9 938.1h2.9v1.4h-2.9zM198.7 938.1h2.9v1.4h-2.9zM203 938.1h1.4v1.4h-1.4zM182.7 939.6h11.6v1.4h-11.6zM195.8 939.6h4.3v1.4h-4.3zM203 939.6h1.4v1.4h-1.4zM182.7 941h5.8v1.4h-5.8zM194.3 941h4.3v1.4h-4.3zM187 942.5h1.4v1.4h-1.4zM194.3 942.5h1.4v1.4h-1.4zM198.7 942.5h1.4v1.4h-1.4zM194.3 943.9h1.4v1.4h-1.4zM194.3 945.4h1.4v1.4h-1.4zM189.9 946.9h1.4v1.4h-1.4z" fill="#2a2aa8"/>
<path d="M184.2 930.9h2.9v1.4h-2.9zM182.7 932.4h1.4v1.4h-1.4zM188.5 932.4h1.4v1.4h-1.4zM181.2 933.8h1.4v1.4h-1.4zM192.8 933.8h5.8v1.4h-5.8zM181.2 935.2h1.4v1.4h-1.4zM189.9 935.2h5.8v1.4h-5.8zM198.7 935.2h1.4v1.4h-1.4zM181.2 936.7h1.4v1.4h-1.4zM189.9 936.7h2.9v1.4h-2.9zM198.7 936.7h1.4v1.4h-1.4zM182.7 938.1h1.4v1.4h-1.4zM188.5 938.1h1.4v1.4h-1.4zM192.8 938.1h1.4v1.4h-1.4zM195.8 938.1h2.9v1.4h-2.9zM194.3 939.6h1.4v1.4h-1.4z" fill="#3350c0"/>
<path d="M195.8 935.2h2.9v1.4h-2.9zM192.8 936.7h5.8v1.4h-5.8zM194.3 938.1h1.4v1.4h-1.4z" fill="#3aa0d8"/>
<path d="M184.2 932.4h1.4v1.4h-1.4zM187 932.4h1.4v1.4h-1.4zM188.5 933.8h1.4v1.4h-1.4zM188.5 935.2h1.4v1.4h-1.4zM188.5 936.7h1.4v1.4h-1.4zM187 938.1h1.4v1.4h-1.4z" fill="#58b85a"/>
<path d="M185.6 932.4h1.4v1.4h-1.4zM182.7 933.8h1.4v1.4h-1.4zM182.7 935.2h1.4v1.4h-1.4zM182.7 936.7h1.4v1.4h-1.4zM184.2 938.1h2.9v1.4h-2.9z" fill="#a8d040"/>
<path d="M184.2 933.8h1.4v1.4h-1.4zM187 933.8h1.4v1.4h-1.4zM184.2 936.7h1.4v1.4h-1.4zM187 936.7h1.4v1.4h-1.4z" fill="#ece42c"/>
<path d="M185.6 933.8h1.4v1.4h-1.4zM187 935.2h1.4v1.4h-1.4z" fill="#f4a020"/>
<path d="M184.2 935.2h2.9v1.4h-2.9zM185.6 936.7h1.4v1.4h-1.4z" fill="#e82818"/>
<path d="M208.8 948.3h1.4v1.4h-1.4zM201.5 951.2h1.4v1.4h-1.4zM194.3 954.1h7.2v1.4h-7.2zM192.8 955.5h2.9v1.4h-2.9zM197.2 955.5h1.4v1.4h-1.4zM188.5 957h1.4v1.4h-1.4zM191.4 957h1.4v1.4h-1.4zM197.2 957h2.9v1.4h-2.9zM187 958.4h2.9v1.4h-2.9zM197.2 958.4h1.4v1.4h-1.4zM195.8 959.9h2.9v1.4h-2.9zM187 961.4h1.4v1.4h-1.4zM194.3 961.4h1.4v1.4h-1.4zM185.6 962.8h2.9v1.4h-2.9zM189.9 962.8h4.3v1.4h-4.3zM185.6 964.2h1.4v1.4h-1.4zM188.5 964.2h2.9v1.4h-2.9zM195.8 964.2h1.4v1.4h-1.4zM187 965.7h1.4v1.4h-1.4zM198.7 965.7h1.4v1.4h-1.4zM205.9 965.7h1.4v1.4h-1.4zM214.6 965.7h1.4v1.4h-1.4zM218.9 965.7h1.4v1.4h-1.4zM198.7 967.1h17.4v1.4h-17.4zM218.9 967.1h1.4v1.4h-1.4zM197.2 968.6h1.4v1.4h-1.4zM214.6 968.6h4.3v1.4h-4.3zM192.8 970h2.9v1.4h-2.9zM216 970h4.3v1.4h-4.3zM234.9 970h1.4v1.4h-1.4zM191.4 971.5h4.3v1.4h-4.3zM216 971.5h1.4v1.4h-1.4zM192.8 972.9h4.3v1.4h-4.3zM213.2 972.9h4.3v1.4h-4.3zM220.4 972.9h1.4v1.4h-1.4zM194.3 974.4h8.7v1.4h-8.7zM204.4 974.4h10.2v1.4h-10.2zM216 974.4h1.4v1.4h-1.4zM192.8 975.9h1.4v1.4h-1.4zM197.2 975.9h1.4v1.4h-1.4zM200.1 975.9h2.9v1.4h-2.9zM207.3 975.9h1.4v1.4h-1.4zM211.7 975.9h1.4v1.4h-1.4zM198.7 978.8h1.4v1.4h-1.4zM217.5 983.1h1.4v1.4h-1.4z" fill="#2a2aa8"/>
<path d="M195.8 955.5h1.4v1.4h-1.4zM189.9 958.4h1.4v1.4h-1.4zM195.8 958.4h1.4v1.4h-1.4zM188.5 959.9h1.4v1.4h-1.4zM194.3 959.9h1.4v1.4h-1.4zM188.5 961.4h1.4v1.4h-1.4zM192.8 961.4h1.4v1.4h-1.4zM188.5 962.8h1.4v1.4h-1.4zM198.7 968.6h1.4v1.4h-1.4zM213.2 968.6h1.4v1.4h-1.4zM195.8 970h1.4v1.4h-1.4zM214.6 970h1.4v1.4h-1.4zM195.8 971.5h1.4v1.4h-1.4zM214.6 971.5h1.4v1.4h-1.4zM197.2 972.9h1.4v1.4h-1.4zM211.7 972.9h1.4v1.4h-1.4zM203 974.4h1.4v1.4h-1.4z" fill="#3350c0"/>
<path d="M192.8 957h4.3v1.4h-4.3zM191.4 958.4h1.4v1.4h-1.4zM194.3 958.4h1.4v1.4h-1.4zM189.9 959.9h1.4v1.4h-1.4zM192.8 959.9h1.4v1.4h-1.4zM189.9 961.4h1.4v1.4h-1.4zM200.1 968.6h1.4v1.4h-1.4zM211.7 968.6h1.4v1.4h-1.4zM197.2 970h1.4v1.4h-1.4zM213.2 971.5h1.4v1.4h-1.4zM198.7 972.9h1.4v1.4h-1.4z" fill="#3aa0d8"/>
<path d="M192.8 958.4h1.4v1.4h-1.4zM191.4 959.9h1.4v1.4h-1.4zM191.4 961.4h1.4v1.4h-1.4zM201.5 968.6h10.2v1.4h-10.2zM198.7 970h15.9v1.4h-15.9zM197.2 971.5h15.9v1.4h-15.9zM200.1 972.9h11.6v1.4h-11.6z" fill="#58b85a"/>
<rect x="174.10" y="926.90" width="32.50" height="24.50" fill="none" stroke="#333" stroke-width="0.8"/>
<rect x="154.70" y="916.70" width="90.20" height="82.60" fill="none" stroke="#8a8a8a" stroke-width="0.9"/>
<path d="M153.6 988.61L154.7 988.61M166.38 999.3L166.38 1000.4M153.6 984.77L154.7 984.77M170.57 999.3L170.57 1000.4M153.6 982.05L154.7 982.05M173.54 999.3L173.54 1000.4M153.6 979.93L154.7 979.93M175.85 999.3L175.85 1000.4M153.6 978.21L154.7 978.21M177.73 999.3L177.73 1000.4M153.6 976.75L154.7 976.75M179.33 999.3L179.33 1000.4M153.6 975.49L154.7 975.49M180.71 999.3L180.71 1000.4M153.6 974.37L154.7 974.37M181.92 999.3L181.92 1000.4M152.5 973.37L154.7 973.37M183.01 999.3L183.01 1001.5M153.6 966.81L154.7 966.81M190.18 999.3L190.18 1000.4M153.6 962.97L154.7 962.97M194.37 999.3L194.37 1000.4M153.6 960.25L154.7 960.25M197.34 999.3L197.34 1000.4M153.6 958.14L154.7 958.14M199.65 999.3L199.65 1000.4M153.6 956.41L154.7 956.41M201.53 999.3L201.53 1000.4M153.6 954.95L154.7 954.95M203.13 999.3L203.13 1000.4M153.6 953.69L154.7 953.69M204.51 999.3L204.51 1000.4M153.6 952.57L154.7 952.57M205.73 999.3L205.73 1000.4M152.5 951.58L154.7 951.58M206.82 999.3L206.82 1001.5M153.6 945.01L154.7 945.01M213.98 999.3L213.98 1000.4M153.6 941.18L154.7 941.18M218.17 999.3L218.17 1000.4M153.6 938.45L154.7 938.45M221.15 999.3L221.15 1000.4M153.6 936.34L154.7 936.34M223.45 999.3L223.45 1000.4M153.6 934.61L154.7 934.61M225.34 999.3L225.34 1000.4M153.6 933.15L154.7 933.15M226.93 999.3L226.93 1000.4M153.6 931.89L154.7 931.89M228.31 999.3L228.31 1000.4M153.6 930.78L154.7 930.78M229.53 999.3L229.53 1000.4M152.5 929.78L154.7 929.78M230.62 999.3L230.62 1001.5M153.6 923.22L154.7 923.22M237.78 999.3L237.78 1000.4M153.6 919.38L154.7 919.38M241.98 999.3L241.98 1000.4" stroke="#555" stroke-width="0.5" fill="none"/>
<text x="212.50" y="938.00" font-size="13.7">39%</text>
<path d="M293.3 811.9L293.3 899.8" stroke="#333" stroke-width="0.9" fill="none"/>
<path d="M293.3 899.8L355.5 899.8" stroke="#999" stroke-width="1.6" fill="none"/>
<path d="M290.9 812.3L293.3 812.3" stroke="#333" stroke-width="0.8" fill="none"/>
<text x="290.10" y="816.30" font-size="12.4" text-anchor="end">300</text>
<path d="M290.9 840L293.3 840" stroke="#333" stroke-width="0.8" fill="none"/>
<text x="290.10" y="844.00" font-size="12.4" text-anchor="end">200</text>
<path d="M290.9 867.2L293.3 867.2" stroke="#333" stroke-width="0.8" fill="none"/>
<text x="290.10" y="871.20" font-size="12.4" text-anchor="end">100</text>
<path d="M290.9 895.5L293.3 895.5" stroke="#333" stroke-width="0.8" fill="none"/>
<text x="290.10" y="899.50" font-size="12.4" text-anchor="end">0</text>
<path d="M307 899.8L307 902.3M341.6 899.8L341.6 902.3" stroke="#333" stroke-width="0.8" fill="none"/>
<path d="M295.3 895.5L355.5 895.5" stroke="#aaa" stroke-width="0.7" fill="none" stroke-dasharray="2 1.5"/>
<path d="M307 884.1L307 896M302.5 893.4L311.5 893.4M303.5 884.1L310.5 884.1M303.5 896L310.5 896M341.6 857.1L341.6 895.5M337.1 878.5L346.1 878.5M338.1 857.1L345.1 857.1M338.1 895.5L345.1 895.5" stroke="#444" stroke-width="0.9" fill="none"/>
<path d="M304.80 877.45L308.30 883.54L301.30 883.54Z" fill="#2c3cb0" stroke="#111" stroke-width="0.5"/>
<path d="M309.20 876.55L312.70 882.64L305.70 882.64Z" fill="#2c3cb0" stroke="#111" stroke-width="0.5"/>
<path d="M305.70 884.45L309.20 890.54L302.20 890.54Z" fill="#2c3cb0" stroke="#111" stroke-width="0.5"/>
<path d="M302.20 887.95L305.70 894.04L298.70 894.04Z" fill="#2c3cb0" stroke="#111" stroke-width="0.5"/>
<path d="M298.70 892.35L302.20 898.44L295.20 898.44Z" fill="#2c3cb0" stroke="#111" stroke-width="0.5"/>
<path d="M305.70 892.35L309.20 898.44L302.20 898.44Z" fill="#2c3cb0" stroke="#111" stroke-width="0.5"/>
<path d="M309.70 892.35L313.20 898.44L306.20 898.44Z" fill="#2c3cb0" stroke="#111" stroke-width="0.5"/>
<path d="M312.70 892.35L316.20 898.44L309.20 898.44Z" fill="#2c3cb0" stroke="#111" stroke-width="0.5"/>
<path d="M315.70 892.35L319.20 898.44L312.20 898.44Z" fill="#2c3cb0" stroke="#111" stroke-width="0.5"/>
<path d="M342.50 835.35L346.00 841.44L339.00 841.44Z" fill="#e8642a" stroke="#311" stroke-width="0.5"/>
<path d="M342.50 845.55L346.00 851.64L339.00 851.64Z" fill="#e8642a" stroke="#311" stroke-width="0.5"/>
<path d="M342.50 868.35L346.00 874.44L339.00 874.44Z" fill="#e8642a" stroke="#311" stroke-width="0.5"/>
<path d="M342.50 878.85L346.00 884.94L339.00 884.94Z" fill="#e8642a" stroke="#311" stroke-width="0.5"/>
<path d="M337.80 887.65L341.30 893.74L334.30 893.74Z" fill="#e8642a" stroke="#311" stroke-width="0.5"/>
<path d="M333.70 891.85L337.20 897.94L330.20 897.94Z" fill="#e8642a" stroke="#311" stroke-width="0.5"/>
<path d="M342.50 891.85L346.00 897.94L339.00 897.94Z" fill="#e8642a" stroke="#311" stroke-width="0.5"/>
<path d="M346.50 891.85L350.00 897.94L343.00 897.94Z" fill="#e8642a" stroke="#311" stroke-width="0.5"/>
<path d="M350.70 891.85L354.20 897.94L347.20 897.94Z" fill="#e8642a" stroke="#311" stroke-width="0.5"/>
<text x="261.90" y="852.20" font-size="11.4" text-anchor="middle" transform="rotate(-90 261.90 852.20)">No. of cells (10<tspan font-size="7.7" dy="-4.6">3</tspan><tspan dy="4.6">)</tspan></text>
<path d="M293.5 923.5L293.5 1010.2" stroke="#333" stroke-width="0.9" fill="none"/>
<path d="M293.5 1010.2L354.4 1010.2" stroke="#999" stroke-width="1.6" fill="none"/>
<path d="M291.1 923.8L293.5 923.8" stroke="#333" stroke-width="0.8" fill="none"/>
<text x="290.30" y="927.80" font-size="12.4" text-anchor="end">4</text>
<path d="M291.1 945.2L293.5 945.2" stroke="#333" stroke-width="0.8" fill="none"/>
<text x="290.30" y="949.20" font-size="12.4" text-anchor="end">3</text>
<path d="M291.1 966.6L293.5 966.6" stroke="#333" stroke-width="0.8" fill="none"/>
<text x="290.30" y="970.60" font-size="12.4" text-anchor="end">2</text>
<path d="M291.1 988L293.5 988" stroke="#333" stroke-width="0.8" fill="none"/>
<text x="290.30" y="992.00" font-size="12.4" text-anchor="end">1</text>
<path d="M291.1 1009.4L293.5 1009.4" stroke="#333" stroke-width="0.8" fill="none"/>
<text x="290.30" y="1013.40" font-size="12.4" text-anchor="end">0</text>
<path d="M307 1010.2L307 1012.7M341.6 1010.2L341.6 1012.7" stroke="#333" stroke-width="0.8" fill="none"/>
<path d="M295.5 1009.4L354.4 1009.4" stroke="#aaa" stroke-width="0.7" fill="none" stroke-dasharray="2 1.5"/>
<path d="M307 1000.6L307 1009M302.5 1006L311.5 1006M303.5 1000.6L310.5 1000.6M303.5 1009L310.5 1009M341.6 962.2L341.6 1005.7M337.1 985.3L346.1 985.3M338.1 962.2L345.1 962.2M338.1 1005.7L345.1 1005.7" stroke="#444" stroke-width="0.9" fill="none"/>
<path d="M307.00 990.75L310.50 996.84L303.50 996.84Z" fill="#2c3cb0" stroke="#111" stroke-width="0.5"/>
<path d="M300.00 1002.35L303.50 1008.44L296.50 1008.44Z" fill="#2c3cb0" stroke="#111" stroke-width="0.5"/>
<path d="M304.00 1002.35L307.50 1008.44L300.50 1008.44Z" fill="#2c3cb0" stroke="#111" stroke-width="0.5"/>
<path d="M308.00 1002.35L311.50 1008.44L304.50 1008.44Z" fill="#2c3cb0" stroke="#111" stroke-width="0.5"/>
<path d="M312.00 1002.35L315.50 1008.44L308.50 1008.44Z" fill="#2c3cb0" stroke="#111" stroke-width="0.5"/>
<path d="M316.00 1002.35L319.50 1008.44L312.50 1008.44Z" fill="#2c3cb0" stroke="#111" stroke-width="0.5"/>
<path d="M303.00 999.35L306.50 1005.44L299.50 1005.44Z" fill="#2c3cb0" stroke="#111" stroke-width="0.5"/>
<path d="M311.00 999.35L314.50 1005.44L307.50 1005.44Z" fill="#2c3cb0" stroke="#111" stroke-width="0.5"/>
<path d="M341.60 931.15L345.10 937.24L338.10 937.24Z" fill="#e8642a" stroke="#311" stroke-width="0.5"/>
<path d="M341.60 958.75L345.10 964.84L338.10 964.84Z" fill="#e8642a" stroke="#311" stroke-width="0.5"/>
<path d="M338.00 982.65L341.50 988.74L334.50 988.74Z" fill="#e8642a" stroke="#311" stroke-width="0.5"/>
<path d="M343.00 982.65L346.50 988.74L339.50 988.74Z" fill="#e8642a" stroke="#311" stroke-width="0.5"/>
<path d="M332.50 993.85L336.00 999.94L329.00 999.94Z" fill="#e8642a" stroke="#311" stroke-width="0.5"/>
<path d="M336.00 991.85L339.50 997.94L332.50 997.94Z" fill="#e8642a" stroke="#311" stroke-width="0.5"/>
<path d="M341.60 993.35L345.10 999.44L338.10 999.44Z" fill="#e8642a" stroke="#311" stroke-width="0.5"/>
<path d="M345.50 991.85L349.00 997.94L342.00 997.94Z" fill="#e8642a" stroke="#311" stroke-width="0.5"/>
<path d="M350.50 996.55L354.00 1002.64L347.00 1002.64Z" fill="#e8642a" stroke="#311" stroke-width="0.5"/>
<text x="324.30" y="929.50" font-size="15" text-anchor="middle" font-weight="bold">**</text>
<path d="M307 927.4L341.6 927.4" stroke="#333" stroke-width="0.9" fill="none"/>
<text x="262.60" y="963.50" font-size="11.4" text-anchor="middle" transform="rotate(-90 262.60 963.50)">No. of cells (10<tspan font-size="7.7" dy="-4.6">3</tspan><tspan dy="4.6">)</tspan></text>
<text x="368.40" y="787.20" font-size="14" font-weight="bold">L</text>
<text x="474.30" y="787.00" font-size="13.8">4wks</text>
<text x="396.00" y="802.00" font-size="12.5">PEPCK mRNA</text>
<rect x="391.00" y="806.20" width="91.70" height="3.00" fill="#2c2ca0"/>
<text x="500.40" y="802.30" font-size="12.7">+IL-12 mRNA</text>
<rect x="492.00" y="806.00" width="92.20" height="3.00" fill="#f0a028"/>
<text x="384.50" y="839.00" font-size="13.9" text-anchor="middle" transform="rotate(-90 384.50 839.00)">CD45.2</text>
<path d="M377.9 1010.3L377.9 882" stroke="#000" stroke-width="1" fill="none"/>
<path d="M377.9 876.4L381.7 883.1L374.1 883.1Z" fill="#000"/>
<path d="M377.9 1010.3L524 1010.3" stroke="#000" stroke-width="1" fill="none"/>
<path d="M530.5 1010.3L523.8 1006.5L523.8 1014.1Z" fill="#000"/>
<text x="534.10" y="1014.20" font-size="13.9">CD45.1</text>
<path d="M432.1 823.6h1.4v1.4h-1.4zM446.6 826.5h1.4v1.4h-1.4zM426.3 827.9h5.8v1.4h-5.8zM433.6 827.9h2.9v1.4h-2.9zM442.2 827.9h1.4v1.4h-1.4zM420.5 829.4h23.2v1.4h-23.2zM413.2 830.9h1.4v1.4h-1.4zM416.1 830.9h2.9v1.4h-2.9zM411.8 832.3h2.9v1.4h-2.9zM440.8 832.3h5.8v1.4h-5.8zM408.9 833.8h1.4v1.4h-1.4zM411.8 833.8h1.4v1.4h-1.4zM442.2 833.8h4.3v1.4h-4.3zM406 835.2h2.9v1.4h-2.9zM410.3 835.2h1.4v1.4h-1.4zM443.7 835.2h2.9v1.4h-2.9zM452.4 835.2h1.4v1.4h-1.4zM459.6 835.2h1.4v1.4h-1.4zM407.4 836.6h4.3v1.4h-4.3zM442.2 836.6h2.9v1.4h-2.9zM406 838.1h1.4v1.4h-1.4zM408.9 838.1h1.4v1.4h-1.4zM442.2 838.1h2.9v1.4h-2.9zM403.1 839.5h1.4v1.4h-1.4zM407.4 839.5h2.9v1.4h-2.9zM440.8 839.5h2.9v1.4h-2.9zM398.8 841h1.4v1.4h-1.4zM408.9 841h2.9v1.4h-2.9zM436.4 841h5.8v1.4h-5.8zM411.8 842.4h1.4v1.4h-1.4zM432.1 842.4h5.8v1.4h-5.8zM411.8 843.9h5.8v1.4h-5.8zM419.1 843.9h1.4v1.4h-1.4zM424.8 843.9h5.8v1.4h-5.8zM432.1 843.9h1.4v1.4h-1.4zM416.1 845.4h8.7v1.4h-8.7zM426.3 845.4h2.9v1.4h-2.9zM411.8 846.8h1.4v1.4h-1.4zM423.4 846.8h1.4v1.4h-1.4zM429.2 846.8h1.4v1.4h-1.4z" fill="#2a2aa8"/>
<path d="M419.1 830.9h2.9v1.4h-2.9zM435 830.9h1.4v1.4h-1.4zM437.9 830.9h2.9v1.4h-2.9zM414.7 832.3h1.4v1.4h-1.4zM413.2 833.8h1.4v1.4h-1.4zM440.8 833.8h1.4v1.4h-1.4zM411.8 835.2h1.4v1.4h-1.4zM442.2 835.2h1.4v1.4h-1.4zM440.8 836.6h1.4v1.4h-1.4zM410.3 838.1h2.9v1.4h-2.9zM440.8 838.1h1.4v1.4h-1.4zM410.3 839.5h2.9v1.4h-2.9zM437.9 839.5h2.9v1.4h-2.9zM411.8 841h1.4v1.4h-1.4zM433.6 841h2.9v1.4h-2.9zM413.2 842.4h4.3v1.4h-4.3zM427.8 842.4h4.3v1.4h-4.3zM417.6 843.9h1.4v1.4h-1.4zM420.5 843.9h4.3v1.4h-4.3z" fill="#3350c0"/>
<path d="M421.9 830.9h4.3v1.4h-4.3zM430.6 830.9h1.4v1.4h-1.4zM433.6 830.9h1.4v1.4h-1.4zM436.4 830.9h1.4v1.4h-1.4zM416.1 832.3h4.3v1.4h-4.3zM439.3 832.3h1.4v1.4h-1.4zM414.7 833.8h1.4v1.4h-1.4zM439.3 833.8h1.4v1.4h-1.4zM413.2 835.2h1.4v1.4h-1.4zM439.3 835.2h2.9v1.4h-2.9zM411.8 836.6h1.4v1.4h-1.4zM439.3 836.6h1.4v1.4h-1.4zM437.9 838.1h2.9v1.4h-2.9zM413.2 839.5h1.4v1.4h-1.4zM436.4 839.5h1.4v1.4h-1.4zM413.2 841h1.4v1.4h-1.4zM432.1 841h1.4v1.4h-1.4zM417.6 842.4h2.9v1.4h-2.9zM423.4 842.4h4.3v1.4h-4.3z" fill="#3aa0d8"/>
<path d="M426.3 830.9h4.3v1.4h-4.3zM432.1 830.9h1.4v1.4h-1.4zM420.5 832.3h2.9v1.4h-2.9zM435 832.3h4.3v1.4h-4.3zM416.1 833.8h2.9v1.4h-2.9zM436.4 833.8h2.9v1.4h-2.9zM414.7 835.2h2.9v1.4h-2.9zM437.9 835.2h1.4v1.4h-1.4zM413.2 836.6h2.9v1.4h-2.9zM437.9 836.6h1.4v1.4h-1.4zM413.2 838.1h2.9v1.4h-2.9zM436.4 838.1h1.4v1.4h-1.4zM432.1 839.5h4.3v1.4h-4.3zM414.7 841h4.3v1.4h-4.3zM423.4 841h1.4v1.4h-1.4zM427.8 841h4.3v1.4h-4.3zM420.5 842.4h2.9v1.4h-2.9z" fill="#58b85a"/>
<path d="M423.4 832.3h11.6v1.4h-11.6zM419.1 833.8h1.4v1.4h-1.4zM417.6 835.2h1.4v1.4h-1.4zM416.1 836.6h1.4v1.4h-1.4zM435 836.6h2.9v1.4h-2.9zM416.1 838.1h1.4v1.4h-1.4zM433.6 838.1h2.9v1.4h-2.9zM414.7 839.5h2.9v1.4h-2.9zM430.6 839.5h1.4v1.4h-1.4zM419.1 841h4.3v1.4h-4.3zM424.8 841h2.9v1.4h-2.9z" fill="#a8d040"/>
<path d="M420.5 833.8h8.7v1.4h-8.7zM430.6 833.8h1.4v1.4h-1.4zM433.6 833.8h2.9v1.4h-2.9zM419.1 835.2h2.9v1.4h-2.9zM432.1 835.2h5.8v1.4h-5.8zM433.6 836.6h1.4v1.4h-1.4zM417.6 839.5h1.4v1.4h-1.4zM420.5 839.5h1.4v1.4h-1.4zM426.3 839.5h1.4v1.4h-1.4zM429.2 839.5h1.4v1.4h-1.4z" fill="#ece42c"/>
<path d="M432.1 833.8h1.4v1.4h-1.4zM421.9 835.2h2.9v1.4h-2.9zM426.3 835.2h1.4v1.4h-1.4zM417.6 836.6h2.9v1.4h-2.9zM432.1 836.6h1.4v1.4h-1.4zM417.6 838.1h2.9v1.4h-2.9zM426.3 838.1h1.4v1.4h-1.4zM429.2 838.1h4.3v1.4h-4.3zM419.1 839.5h1.4v1.4h-1.4zM421.9 839.5h4.3v1.4h-4.3zM427.8 839.5h1.4v1.4h-1.4z" fill="#f4a020"/>
<path d="M429.2 833.8h1.4v1.4h-1.4zM424.8 835.2h1.4v1.4h-1.4zM427.8 835.2h4.3v1.4h-4.3zM420.5 836.6h11.6v1.4h-11.6zM420.5 838.1h5.8v1.4h-5.8zM427.8 838.1h1.4v1.4h-1.4z" fill="#e82818"/>
<path d="M453.8 854h1.4v1.4h-1.4zM443.7 855.5h1.4v1.4h-1.4zM453.8 855.5h1.4v1.4h-1.4zM427.8 856.9h1.4v1.4h-1.4zM440.8 856.9h1.4v1.4h-1.4zM449.5 856.9h2.9v1.4h-2.9zM445.1 858.4h1.4v1.4h-1.4zM448.1 858.4h10.2v1.4h-10.2zM459.6 858.4h1.4v1.4h-1.4zM462.6 858.4h1.4v1.4h-1.4zM442.2 859.9h1.4v1.4h-1.4zM445.1 859.9h1.4v1.4h-1.4zM455.3 859.9h2.9v1.4h-2.9zM442.2 861.3h2.9v1.4h-2.9zM456.8 861.3h2.9v1.4h-2.9zM440.8 862.8h1.4v1.4h-1.4zM458.2 862.8h2.9v1.4h-2.9zM440.8 864.2h1.4v1.4h-1.4zM458.2 864.2h2.9v1.4h-2.9zM465.4 864.2h1.4v1.4h-1.4zM437.9 865.6h2.9v1.4h-2.9zM459.6 865.6h1.4v1.4h-1.4zM435 867.1h4.3v1.4h-4.3zM458.2 867.1h4.3v1.4h-4.3zM464 867.1h1.4v1.4h-1.4zM435 868.5h2.9v1.4h-2.9zM459.6 868.5h2.9v1.4h-2.9zM433.6 870h2.9v1.4h-2.9zM432.1 871.4h4.3v1.4h-4.3zM458.2 871.4h2.9v1.4h-2.9zM427.8 872.9h1.4v1.4h-1.4zM432.1 872.9h2.9v1.4h-2.9zM456.8 872.9h1.4v1.4h-1.4zM462.6 872.9h1.4v1.4h-1.4zM430.6 874.4h4.3v1.4h-4.3zM455.3 874.4h1.4v1.4h-1.4zM458.2 874.4h1.4v1.4h-1.4zM427.8 875.8h1.4v1.4h-1.4zM432.1 875.8h1.4v1.4h-1.4zM455.3 875.8h1.4v1.4h-1.4zM427.8 877.2h2.9v1.4h-2.9zM432.1 877.2h2.9v1.4h-2.9zM452.4 877.2h4.3v1.4h-4.3zM432.1 878.7h2.9v1.4h-2.9zM450.9 878.7h4.3v1.4h-4.3zM432.1 880.1h4.3v1.4h-4.3zM449.5 880.1h4.3v1.4h-4.3zM426.3 881.6h1.4v1.4h-1.4zM435 881.6h4.3v1.4h-4.3zM440.8 881.6h1.4v1.4h-1.4zM443.7 881.6h8.7v1.4h-8.7zM435 883h4.3v1.4h-4.3zM440.8 883h1.4v1.4h-1.4zM443.7 883h4.3v1.4h-4.3zM449.5 884.5h1.4v1.4h-1.4zM436.4 885.9h1.4v1.4h-1.4z" fill="#2a2aa8"/>
<path d="M446.6 859.9h2.9v1.4h-2.9zM452.4 859.9h2.9v1.4h-2.9zM445.1 861.3h1.4v1.4h-1.4zM455.3 861.3h1.4v1.4h-1.4zM442.2 862.8h2.9v1.4h-2.9zM456.8 862.8h1.4v1.4h-1.4zM442.2 864.2h1.4v1.4h-1.4zM440.8 865.6h1.4v1.4h-1.4zM458.2 865.6h1.4v1.4h-1.4zM439.3 867.1h1.4v1.4h-1.4zM437.9 868.5h1.4v1.4h-1.4zM458.2 868.5h1.4v1.4h-1.4zM436.4 870h1.4v1.4h-1.4zM456.8 870h2.9v1.4h-2.9zM456.8 871.4h1.4v1.4h-1.4zM435 872.9h1.4v1.4h-1.4zM453.8 874.4h1.4v1.4h-1.4zM433.6 875.8h1.4v1.4h-1.4zM453.8 875.8h1.4v1.4h-1.4zM435 877.2h1.4v1.4h-1.4zM450.9 877.2h1.4v1.4h-1.4zM435 878.7h1.4v1.4h-1.4zM449.5 878.7h1.4v1.4h-1.4zM436.4 880.1h2.9v1.4h-2.9zM446.6 880.1h2.9v1.4h-2.9zM439.3 881.6h1.4v1.4h-1.4zM442.2 881.6h1.4v1.4h-1.4z" fill="#3350c0"/>
<path d="M449.5 859.9h2.9v1.4h-2.9zM446.6 861.3h1.4v1.4h-1.4zM453.8 861.3h1.4v1.4h-1.4zM445.1 862.8h1.4v1.4h-1.4zM455.3 862.8h1.4v1.4h-1.4zM456.8 864.2h1.4v1.4h-1.4zM456.8 865.6h1.4v1.4h-1.4zM440.8 867.1h1.4v1.4h-1.4zM456.8 867.1h1.4v1.4h-1.4zM439.3 868.5h1.4v1.4h-1.4zM456.8 868.5h1.4v1.4h-1.4zM436.4 871.4h1.4v1.4h-1.4zM455.3 871.4h1.4v1.4h-1.4zM455.3 872.9h1.4v1.4h-1.4zM435 874.4h1.4v1.4h-1.4zM435 875.8h1.4v1.4h-1.4zM450.9 875.8h2.9v1.4h-2.9zM436.4 878.7h2.9v1.4h-2.9zM448.1 878.7h1.4v1.4h-1.4zM439.3 880.1h7.2v1.4h-7.2z" fill="#3aa0d8"/>
<path d="M448.1 861.3h5.8v1.4h-5.8zM446.6 862.8h1.4v1.4h-1.4zM453.8 862.8h1.4v1.4h-1.4zM443.7 864.2h2.9v1.4h-2.9zM455.3 864.2h1.4v1.4h-1.4zM442.2 865.6h2.9v1.4h-2.9zM442.2 867.1h1.4v1.4h-1.4zM455.3 867.1h1.4v1.4h-1.4zM440.8 868.5h1.4v1.4h-1.4zM455.3 868.5h1.4v1.4h-1.4zM437.9 870h2.9v1.4h-2.9zM455.3 870h1.4v1.4h-1.4zM437.9 871.4h1.4v1.4h-1.4zM453.8 871.4h1.4v1.4h-1.4zM436.4 872.9h2.9v1.4h-2.9zM452.4 872.9h2.9v1.4h-2.9zM436.4 874.4h1.4v1.4h-1.4zM452.4 874.4h1.4v1.4h-1.4zM436.4 875.8h2.9v1.4h-2.9zM449.5 875.8h1.4v1.4h-1.4zM436.4 877.2h2.9v1.4h-2.9zM445.1 877.2h5.8v1.4h-5.8zM439.3 878.7h8.7v1.4h-8.7z" fill="#58b85a"/>
<path d="M448.1 862.8h5.8v1.4h-5.8zM453.8 864.2h1.4v1.4h-1.4zM445.1 865.6h1.4v1.4h-1.4zM453.8 865.6h2.9v1.4h-2.9zM443.7 867.1h1.4v1.4h-1.4zM442.2 868.5h1.4v1.4h-1.4zM453.8 868.5h1.4v1.4h-1.4zM440.8 870h1.4v1.4h-1.4zM453.8 870h1.4v1.4h-1.4zM439.3 871.4h1.4v1.4h-1.4zM439.3 872.9h1.4v1.4h-1.4zM450.9 872.9h1.4v1.4h-1.4zM437.9 874.4h2.9v1.4h-2.9zM449.5 874.4h2.9v1.4h-2.9zM439.3 875.8h1.4v1.4h-1.4zM446.6 875.8h2.9v1.4h-2.9zM439.3 877.2h5.8v1.4h-5.8z" fill="#a8d040"/>
<path d="M446.6 864.2h4.3v1.4h-4.3zM446.6 865.6h1.4v1.4h-1.4zM452.4 867.1h2.9v1.4h-2.9zM443.7 870h1.4v1.4h-1.4zM452.4 870h1.4v1.4h-1.4zM440.8 871.4h1.4v1.4h-1.4zM452.4 871.4h1.4v1.4h-1.4zM449.5 872.9h1.4v1.4h-1.4zM440.8 875.8h2.9v1.4h-2.9zM445.1 875.8h1.4v1.4h-1.4z" fill="#ece42c"/>
<path d="M450.9 864.2h2.9v1.4h-2.9zM445.1 867.1h1.4v1.4h-1.4zM450.9 867.1h1.4v1.4h-1.4zM443.7 868.5h4.3v1.4h-4.3zM442.2 870h1.4v1.4h-1.4zM450.9 870h1.4v1.4h-1.4zM448.1 871.4h1.4v1.4h-1.4zM450.9 871.4h1.4v1.4h-1.4zM440.8 872.9h1.4v1.4h-1.4zM443.7 872.9h2.9v1.4h-2.9zM448.1 872.9h1.4v1.4h-1.4zM440.8 874.4h1.4v1.4h-1.4zM445.1 874.4h4.3v1.4h-4.3zM443.7 875.8h1.4v1.4h-1.4z" fill="#f4a020"/>
<path d="M448.1 865.6h5.8v1.4h-5.8zM446.6 867.1h4.3v1.4h-4.3zM448.1 868.5h5.8v1.4h-5.8zM445.1 870h5.8v1.4h-5.8zM442.2 871.4h5.8v1.4h-5.8zM449.5 871.4h1.4v1.4h-1.4zM442.2 872.9h1.4v1.4h-1.4zM446.6 872.9h1.4v1.4h-1.4zM442.2 874.4h2.9v1.4h-2.9z" fill="#e82818"/>
<rect x="407.70" y="822.90" width="46.00" height="26.70" fill="none" stroke="#333" stroke-width="0.8"/>
<rect x="391.60" y="813.50" width="89.80" height="80.60" fill="none" stroke="#8a8a8a" stroke-width="0.9"/>
<path d="M390.5 883.67L391.6 883.67M403.22 894.1L403.22 895.2M390.5 879.92L391.6 879.92M407.4 894.1L407.4 895.2M390.5 877.26L391.6 877.26M410.36 894.1L410.36 895.2M390.5 875.2L391.6 875.2M412.65 894.1L412.65 895.2M390.5 873.52L391.6 873.52M414.53 894.1L414.53 895.2M390.5 872.1L391.6 872.1M416.12 894.1L416.12 895.2M390.5 870.86L391.6 870.86M417.49 894.1L417.49 895.2M390.5 869.77L391.6 869.77M418.7 894.1L418.7 895.2M389.4 868.8L391.6 868.8M419.79 894.1L419.79 896.3M390.5 862.4L391.6 862.4M426.92 894.1L426.92 895.2M390.5 858.65L391.6 858.65M431.09 894.1L431.09 895.2M390.5 856L391.6 856M434.05 894.1L434.05 895.2M390.5 853.93L391.6 853.93M436.35 894.1L436.35 895.2M390.5 852.25L391.6 852.25M438.23 894.1L438.23 895.2M390.5 850.83L391.6 850.83M439.81 894.1L439.81 895.2M390.5 849.59L391.6 849.59M441.19 894.1L441.19 895.2M390.5 848.5L391.6 848.5M442.4 894.1L442.4 895.2M389.4 847.53L391.6 847.53M443.48 894.1L443.48 896.3M390.5 841.13L391.6 841.13M450.62 894.1L450.62 895.2M390.5 837.38L391.6 837.38M454.79 894.1L454.79 895.2M390.5 834.73L391.6 834.73M457.75 894.1L457.75 895.2M390.5 832.66L391.6 832.66M460.05 894.1L460.05 895.2M390.5 830.98L391.6 830.98M461.92 894.1L461.92 895.2M390.5 829.56L391.6 829.56M463.51 894.1L463.51 895.2M390.5 828.32L391.6 828.32M464.89 894.1L464.89 895.2M390.5 827.23L391.6 827.23M466.1 894.1L466.1 895.2M389.4 826.26L391.6 826.26M467.18 894.1L467.18 896.3M390.5 819.86L391.6 819.86M474.32 894.1L474.32 895.2M390.5 816.11L391.6 816.11M478.49 894.1L478.49 895.2" stroke="#555" stroke-width="0.5" fill="none"/>
<text x="399.40" y="868.10" font-size="13.7">39%</text>
<path d="M536.5 819.2h1.4v1.4h-1.4zM535 823.6h1.4v1.4h-1.4zM529.2 829.4h1.4v1.4h-1.4zM535 829.4h1.4v1.4h-1.4zM542.3 829.4h2.9v1.4h-2.9zM530.7 830.9h18.8v1.4h-18.8zM527.8 832.3h11.6v1.4h-11.6zM542.3 832.3h10.2v1.4h-10.2zM561.1 832.3h1.4v1.4h-1.4zM526.4 833.8h5.8v1.4h-5.8zM546.6 833.8h5.8v1.4h-5.8zM523.4 835.2h5.8v1.4h-5.8zM549.5 835.2h5.8v1.4h-5.8zM523.4 836.6h2.9v1.4h-2.9zM551 836.6h5.8v1.4h-5.8zM558.2 836.6h1.4v1.4h-1.4zM520.5 838.1h4.3v1.4h-4.3zM552.4 838.1h2.9v1.4h-2.9zM520.5 839.5h2.9v1.4h-2.9zM551 839.5h4.3v1.4h-4.3zM517.6 841h5.8v1.4h-5.8zM551 841h4.3v1.4h-4.3zM519.1 842.4h2.9v1.4h-2.9zM549.5 842.4h2.9v1.4h-2.9zM517.6 843.9h5.8v1.4h-5.8zM537.9 843.9h14.5v1.4h-14.5zM519.1 845.4h5.8v1.4h-5.8zM529.2 845.4h1.4v1.4h-1.4zM532.1 845.4h17.4v1.4h-17.4zM551 845.4h1.4v1.4h-1.4zM520.5 846.8h14.5v1.4h-14.5zM536.5 846.8h1.4v1.4h-1.4zM511.8 848.2h1.4v1.4h-1.4zM519.1 848.2h2.9v1.4h-2.9zM523.4 848.2h7.2v1.4h-7.2zM524.9 849.7h1.4v1.4h-1.4zM536.5 849.7h1.4v1.4h-1.4zM545.2 849.7h1.4v1.4h-1.4zM519.1 851.1h1.4v1.4h-1.4zM546.6 852.6h1.4v1.4h-1.4zM535 854h1.4v1.4h-1.4z" fill="#2a2aa8"/>
<path d="M539.4 832.3h2.9v1.4h-2.9zM532.1 833.8h4.3v1.4h-4.3zM542.3 833.8h4.3v1.4h-4.3zM529.2 835.2h1.4v1.4h-1.4zM548.1 835.2h1.4v1.4h-1.4zM526.4 836.6h2.9v1.4h-2.9zM549.5 836.6h1.4v1.4h-1.4zM524.9 838.1h2.9v1.4h-2.9zM549.5 838.1h2.9v1.4h-2.9zM523.4 839.5h2.9v1.4h-2.9zM549.5 839.5h1.4v1.4h-1.4zM523.4 841h1.4v1.4h-1.4zM548.1 841h2.9v1.4h-2.9zM522 842.4h4.3v1.4h-4.3zM546.6 842.4h2.9v1.4h-2.9zM523.4 843.9h2.9v1.4h-2.9zM530.7 843.9h7.2v1.4h-7.2zM524.9 845.4h4.3v1.4h-4.3zM530.7 845.4h1.4v1.4h-1.4z" fill="#3350c0"/>
<path d="M536.5 833.8h5.8v1.4h-5.8zM530.7 835.2h4.3v1.4h-4.3zM545.2 835.2h2.9v1.4h-2.9zM548.1 836.6h1.4v1.4h-1.4zM527.8 838.1h1.4v1.4h-1.4zM548.1 838.1h1.4v1.4h-1.4zM526.4 839.5h1.4v1.4h-1.4zM524.9 841h1.4v1.4h-1.4zM526.4 842.4h1.4v1.4h-1.4zM533.6 842.4h1.4v1.4h-1.4zM536.5 842.4h2.9v1.4h-2.9zM540.9 842.4h5.8v1.4h-5.8zM526.4 843.9h4.3v1.4h-4.3z" fill="#3aa0d8"/>
<path d="M535 835.2h10.2v1.4h-10.2zM529.2 836.6h18.8v1.4h-18.8zM529.2 838.1h18.8v1.4h-18.8zM527.8 839.5h21.8v1.4h-21.8zM526.4 841h21.8v1.4h-21.8zM527.8 842.4h5.8v1.4h-5.8zM535 842.4h1.4v1.4h-1.4zM539.4 842.4h1.4v1.4h-1.4z" fill="#58b85a"/>
<path d="M535 841h1.4v1.4h-1.4zM543.8 841h1.4v1.4h-1.4zM545.2 846.8h1.4v1.4h-1.4zM551 846.8h1.4v1.4h-1.4zM555.4 846.8h4.3v1.4h-4.3zM539.4 848.2h1.4v1.4h-1.4zM542.3 848.2h1.4v1.4h-1.4zM551 848.2h8.7v1.4h-8.7zM532.1 849.7h1.4v1.4h-1.4zM542.3 849.7h1.4v1.4h-1.4zM545.2 849.7h5.8v1.4h-5.8zM558.2 849.7h2.9v1.4h-2.9zM543.8 851.1h4.3v1.4h-4.3zM559.7 851.1h2.9v1.4h-2.9zM540.9 852.6h1.4v1.4h-1.4zM543.8 852.6h2.9v1.4h-2.9zM561.1 852.6h2.9v1.4h-2.9zM532.1 854h1.4v1.4h-1.4zM537.9 854h4.3v1.4h-4.3zM561.1 854h1.4v1.4h-1.4zM539.4 856.9h1.4v1.4h-1.4zM561.1 856.9h1.4v1.4h-1.4zM537.9 858.4h1.4v1.4h-1.4zM561.1 858.4h1.4v1.4h-1.4zM535 859.9h4.3v1.4h-4.3zM561.1 859.9h2.9v1.4h-2.9zM565.5 859.9h1.4v1.4h-1.4zM535 861.3h2.9v1.4h-2.9zM561.1 861.3h2.9v1.4h-2.9zM536.5 862.8h1.4v1.4h-1.4zM561.1 862.8h1.4v1.4h-1.4zM533.6 864.2h4.3v1.4h-4.3zM561.1 864.2h1.4v1.4h-1.4zM572.8 864.2h1.4v1.4h-1.4zM535 865.6h2.9v1.4h-2.9zM561.1 865.6h1.4v1.4h-1.4zM565.5 865.6h1.4v1.4h-1.4zM530.7 867.1h1.4v1.4h-1.4zM535 867.1h2.9v1.4h-2.9zM561.1 867.1h1.4v1.4h-1.4zM535 868.5h1.4v1.4h-1.4zM559.7 868.5h2.9v1.4h-2.9zM533.6 870h1.4v1.4h-1.4zM536.5 870h1.4v1.4h-1.4zM559.7 870h2.9v1.4h-2.9zM536.5 871.4h2.9v1.4h-2.9zM558.2 871.4h1.4v1.4h-1.4zM561.1 871.4h1.4v1.4h-1.4zM537.9 872.9h2.9v1.4h-2.9zM558.2 872.9h2.9v1.4h-2.9zM562.6 872.9h1.4v1.4h-1.4zM571.3 872.9h1.4v1.4h-1.4zM536.5 874.4h5.8v1.4h-5.8zM556.8 874.4h1.4v1.4h-1.4zM559.7 874.4h1.4v1.4h-1.4zM539.4 875.8h4.3v1.4h-4.3zM553.9 875.8h4.3v1.4h-4.3zM535 877.2h1.4v1.4h-1.4zM540.9 877.2h1.4v1.4h-1.4zM543.8 877.2h2.9v1.4h-2.9zM552.4 877.2h1.4v1.4h-1.4zM556.8 877.2h1.4v1.4h-1.4zM543.8 878.7h4.3v1.4h-4.3zM549.5 878.7h7.2v1.4h-7.2zM558.2 878.7h1.4v1.4h-1.4zM548.1 880.1h2.9v1.4h-2.9zM549.5 881.6h1.4v1.4h-1.4zM559.7 881.6h1.4v1.4h-1.4zM549.5 884.5h1.4v1.4h-1.4z" fill="#2a2aa8"/>
<path d="M551 849.7h1.4v1.4h-1.4zM556.8 849.7h1.4v1.4h-1.4zM548.1 851.1h1.4v1.4h-1.4zM546.6 852.6h1.4v1.4h-1.4zM559.7 852.6h1.4v1.4h-1.4zM542.3 854h2.9v1.4h-2.9zM559.7 854h1.4v1.4h-1.4zM540.9 855.5h4.3v1.4h-4.3zM561.1 855.5h1.4v1.4h-1.4zM540.9 856.9h1.4v1.4h-1.4zM539.4 858.4h1.4v1.4h-1.4zM559.7 858.4h1.4v1.4h-1.4zM559.7 859.9h1.4v1.4h-1.4zM537.9 861.3h1.4v1.4h-1.4zM559.7 861.3h1.4v1.4h-1.4zM559.7 862.8h1.4v1.4h-1.4zM559.7 864.2h1.4v1.4h-1.4zM537.9 865.6h1.4v1.4h-1.4zM559.7 865.6h1.4v1.4h-1.4zM537.9 867.1h1.4v1.4h-1.4zM559.7 867.1h1.4v1.4h-1.4zM537.9 868.5h1.4v1.4h-1.4zM537.9 870h1.4v1.4h-1.4zM558.2 870h1.4v1.4h-1.4zM539.4 871.4h1.4v1.4h-1.4zM540.9 872.9h1.4v1.4h-1.4zM556.8 872.9h1.4v1.4h-1.4zM542.3 874.4h1.4v1.4h-1.4zM555.4 874.4h1.4v1.4h-1.4zM543.8 875.8h2.9v1.4h-2.9zM551 875.8h1.4v1.4h-1.4zM546.6 877.2h5.8v1.4h-5.8z" fill="#3350c0"/>
<path d="M552.4 849.7h4.3v1.4h-4.3zM549.5 851.1h2.9v1.4h-2.9zM553.9 851.1h1.4v1.4h-1.4zM556.8 851.1h2.9v1.4h-2.9zM548.1 852.6h2.9v1.4h-2.9zM558.2 852.6h1.4v1.4h-1.4zM545.2 854h2.9v1.4h-2.9zM545.2 855.5h1.4v1.4h-1.4zM559.7 855.5h1.4v1.4h-1.4zM542.3 856.9h1.4v1.4h-1.4zM559.7 856.9h1.4v1.4h-1.4zM539.4 859.9h1.4v1.4h-1.4zM558.2 859.9h1.4v1.4h-1.4zM558.2 861.3h1.4v1.4h-1.4zM537.9 862.8h2.9v1.4h-2.9zM558.2 862.8h1.4v1.4h-1.4zM537.9 864.2h1.4v1.4h-1.4zM558.2 864.2h1.4v1.4h-1.4zM539.4 865.6h1.4v1.4h-1.4zM558.2 865.6h1.4v1.4h-1.4zM558.2 867.1h1.4v1.4h-1.4zM539.4 868.5h1.4v1.4h-1.4zM558.2 868.5h1.4v1.4h-1.4zM539.4 870h1.4v1.4h-1.4zM556.8 870h1.4v1.4h-1.4zM540.9 871.4h1.4v1.4h-1.4zM556.8 871.4h1.4v1.4h-1.4zM542.3 872.9h1.4v1.4h-1.4zM553.9 872.9h2.9v1.4h-2.9zM543.8 874.4h2.9v1.4h-2.9zM552.4 874.4h2.9v1.4h-2.9zM546.6 875.8h4.3v1.4h-4.3zM552.4 875.8h1.4v1.4h-1.4z" fill="#3aa0d8"/>
<path d="M552.4 851.1h1.4v1.4h-1.4zM555.4 851.1h1.4v1.4h-1.4zM551 852.6h2.9v1.4h-2.9zM556.8 852.6h1.4v1.4h-1.4zM548.1 854h2.9v1.4h-2.9zM556.8 854h2.9v1.4h-2.9zM546.6 855.5h1.4v1.4h-1.4zM558.2 855.5h1.4v1.4h-1.4zM543.8 856.9h2.9v1.4h-2.9zM558.2 856.9h1.4v1.4h-1.4zM540.9 858.4h2.9v1.4h-2.9zM558.2 858.4h1.4v1.4h-1.4zM540.9 859.9h1.4v1.4h-1.4zM556.8 859.9h1.4v1.4h-1.4zM539.4 861.3h2.9v1.4h-2.9zM556.8 861.3h1.4v1.4h-1.4zM540.9 862.8h1.4v1.4h-1.4zM556.8 862.8h1.4v1.4h-1.4zM539.4 864.2h1.4v1.4h-1.4zM556.8 864.2h1.4v1.4h-1.4zM556.8 865.6h1.4v1.4h-1.4zM539.4 867.1h1.4v1.4h-1.4zM555.4 867.1h2.9v1.4h-2.9zM540.9 868.5h1.4v1.4h-1.4zM555.4 868.5h2.9v1.4h-2.9zM540.9 870h1.4v1.4h-1.4zM542.3 871.4h1.4v1.4h-1.4zM553.9 871.4h2.9v1.4h-2.9zM543.8 872.9h4.3v1.4h-4.3zM552.4 872.9h1.4v1.4h-1.4zM546.6 874.4h5.8v1.4h-5.8z" fill="#58b85a"/>
<path d="M553.9 852.6h2.9v1.4h-2.9zM551 854h2.9v1.4h-2.9zM555.4 854h1.4v1.4h-1.4zM548.1 855.5h2.9v1.4h-2.9zM555.4 855.5h2.9v1.4h-2.9zM546.6 856.9h1.4v1.4h-1.4zM556.8 856.9h1.4v1.4h-1.4zM543.8 858.4h2.9v1.4h-2.9zM555.4 858.4h2.9v1.4h-2.9zM542.3 859.9h1.4v1.4h-1.4zM555.4 859.9h1.4v1.4h-1.4zM542.3 861.3h2.9v1.4h-2.9zM555.4 861.3h1.4v1.4h-1.4zM540.9 864.2h1.4v1.4h-1.4zM555.4 864.2h1.4v1.4h-1.4zM540.9 865.6h1.4v1.4h-1.4zM540.9 867.1h1.4v1.4h-1.4zM553.9 867.1h1.4v1.4h-1.4zM542.3 868.5h1.4v1.4h-1.4zM553.9 868.5h1.4v1.4h-1.4zM542.3 870h1.4v1.4h-1.4zM553.9 870h2.9v1.4h-2.9zM543.8 871.4h1.4v1.4h-1.4zM549.5 871.4h4.3v1.4h-4.3zM548.1 872.9h4.3v1.4h-4.3z" fill="#a8d040"/>
<path d="M553.9 854h1.4v1.4h-1.4zM551 855.5h4.3v1.4h-4.3zM548.1 856.9h2.9v1.4h-2.9zM552.4 856.9h1.4v1.4h-1.4zM555.4 856.9h1.4v1.4h-1.4zM546.6 858.4h1.4v1.4h-1.4zM549.5 858.4h1.4v1.4h-1.4zM553.9 858.4h1.4v1.4h-1.4zM543.8 859.9h4.3v1.4h-4.3zM552.4 859.9h2.9v1.4h-2.9zM553.9 861.3h1.4v1.4h-1.4zM542.3 862.8h1.4v1.4h-1.4zM555.4 862.8h1.4v1.4h-1.4zM542.3 864.2h1.4v1.4h-1.4zM553.9 864.2h1.4v1.4h-1.4zM542.3 865.6h1.4v1.4h-1.4zM555.4 865.6h1.4v1.4h-1.4zM542.3 867.1h1.4v1.4h-1.4zM552.4 868.5h1.4v1.4h-1.4zM543.8 870h2.9v1.4h-2.9zM545.2 871.4h4.3v1.4h-4.3z" fill="#ece42c"/>
<path d="M551 856.9h1.4v1.4h-1.4zM553.9 856.9h1.4v1.4h-1.4zM548.1 858.4h1.4v1.4h-1.4zM551 858.4h2.9v1.4h-2.9zM545.2 861.3h1.4v1.4h-1.4zM543.8 862.8h2.9v1.4h-2.9zM553.9 862.8h1.4v1.4h-1.4zM552.4 864.2h1.4v1.4h-1.4zM543.8 865.6h2.9v1.4h-2.9zM552.4 865.6h2.9v1.4h-2.9zM543.8 867.1h1.4v1.4h-1.4zM552.4 867.1h1.4v1.4h-1.4zM543.8 868.5h1.4v1.4h-1.4zM549.5 870h4.3v1.4h-4.3z" fill="#f4a020"/>
<path d="M548.1 859.9h4.3v1.4h-4.3zM546.6 861.3h7.2v1.4h-7.2zM546.6 862.8h7.2v1.4h-7.2zM543.8 864.2h8.7v1.4h-8.7zM546.6 865.6h5.8v1.4h-5.8zM545.2 867.1h7.2v1.4h-7.2zM545.2 868.5h7.2v1.4h-7.2zM546.6 870h2.9v1.4h-2.9z" fill="#e82818"/>
<rect x="511.60" y="822.90" width="44.10" height="26.40" fill="none" stroke="#333" stroke-width="0.8"/>
<rect x="495.80" y="814.60" width="86.90" height="79.20" fill="none" stroke="#8a8a8a" stroke-width="0.9"/>
<path d="M494.7 883.55L495.8 883.55M507.05 893.8L507.05 894.9M494.7 879.87L495.8 879.87M511.09 893.8L511.09 894.9M494.7 877.26L495.8 877.26M513.95 893.8L513.95 894.9M494.7 875.23L495.8 875.23M516.17 893.8L516.17 894.9M494.7 873.58L495.8 873.58M517.99 893.8L517.99 894.9M494.7 872.18L495.8 872.18M519.52 893.8L519.52 894.9M494.7 870.97L495.8 870.97M520.85 893.8L520.85 894.9M494.7 869.9L495.8 869.9M522.03 893.8L522.03 894.9M493.6 868.94L495.8 868.94M523.08 893.8L523.08 896M494.7 862.65L495.8 862.65M529.98 893.8L529.98 894.9M494.7 858.97L495.8 858.97M534.02 893.8L534.02 894.9M494.7 856.36L495.8 856.36M536.88 893.8L536.88 894.9M494.7 854.33L495.8 854.33M539.11 893.8L539.11 894.9M494.7 852.68L495.8 852.68M540.92 893.8L540.92 894.9M494.7 851.28L495.8 851.28M542.46 893.8L542.46 894.9M494.7 850.07L495.8 850.07M543.79 893.8L543.79 894.9M494.7 849L495.8 849M544.96 893.8L544.96 894.9M493.6 848.04L495.8 848.04M546.01 893.8L546.01 896M494.7 841.75L495.8 841.75M552.91 893.8L552.91 894.9M494.7 838.07L495.8 838.07M556.95 893.8L556.95 894.9M494.7 835.46L495.8 835.46M559.82 893.8L559.82 894.9M494.7 833.43L495.8 833.43M562.04 893.8L562.04 894.9M494.7 831.78L495.8 831.78M563.85 893.8L563.85 894.9M494.7 830.38L495.8 830.38M565.39 893.8L565.39 894.9M494.7 829.17L495.8 829.17M566.72 893.8L566.72 894.9M494.7 828.1L495.8 828.1M567.89 893.8L567.89 894.9M493.6 827.14L495.8 827.14M568.94 893.8L568.94 896M494.7 820.85L495.8 820.85M575.84 893.8L575.84 894.9M494.7 817.17L495.8 817.17M579.88 893.8L579.88 894.9" stroke="#555" stroke-width="0.5" fill="none"/>
<text x="501.00" y="868.10" font-size="13.7">42%</text>
<path d="M433.6 938.1h1.4v1.4h-1.4zM421.9 939.6h1.4v1.4h-1.4zM432.1 939.6h1.4v1.4h-1.4zM430.6 941h1.4v1.4h-1.4zM433.6 941h1.4v1.4h-1.4zM439.3 941h1.4v1.4h-1.4zM426.3 942.5h1.4v1.4h-1.4zM429.2 942.5h4.3v1.4h-4.3zM435 942.5h1.4v1.4h-1.4zM437.9 942.5h2.9v1.4h-2.9zM426.3 943.9h1.4v1.4h-1.4zM429.2 943.9h8.7v1.4h-8.7zM439.3 943.9h1.4v1.4h-1.4zM426.3 945.4h7.2v1.4h-7.2zM435 945.4h1.4v1.4h-1.4zM421.9 946.9h1.4v1.4h-1.4zM424.8 946.9h10.2v1.4h-10.2zM423.4 948.3h1.4v1.4h-1.4zM426.3 948.3h1.4v1.4h-1.4zM430.6 948.3h2.9v1.4h-2.9zM436.4 948.3h1.4v1.4h-1.4zM421.9 949.8h1.4v1.4h-1.4zM430.6 949.8h1.4v1.4h-1.4zM433.6 949.8h1.4v1.4h-1.4zM427.8 951.2h1.4v1.4h-1.4zM443.7 951.2h1.4v1.4h-1.4z" fill="#2a2aa8"/>
<path d="M439.3 946.9h1.4v1.4h-1.4zM433.6 959.9h2.9v1.4h-2.9zM439.3 962.8h4.3v1.4h-4.3zM445.1 962.8h1.4v1.4h-1.4zM450.9 962.8h1.4v1.4h-1.4zM430.6 964.2h1.4v1.4h-1.4zM439.3 964.2h8.7v1.4h-8.7zM435 965.7h2.9v1.4h-2.9zM446.6 965.7h5.8v1.4h-5.8zM436.4 967.1h1.4v1.4h-1.4zM450.9 967.1h1.4v1.4h-1.4zM435 968.6h1.4v1.4h-1.4zM449.5 968.6h1.4v1.4h-1.4zM453.8 968.6h1.4v1.4h-1.4zM433.6 970h2.9v1.4h-2.9zM450.9 970h2.9v1.4h-2.9zM435 971.5h1.4v1.4h-1.4zM452.4 971.5h1.4v1.4h-1.4zM433.6 972.9h2.9v1.4h-2.9zM453.8 972.9h1.4v1.4h-1.4zM433.6 974.4h2.9v1.4h-2.9zM455.3 974.4h1.4v1.4h-1.4zM433.6 975.9h2.9v1.4h-2.9zM455.3 975.9h1.4v1.4h-1.4zM430.6 977.3h1.4v1.4h-1.4zM433.6 977.3h2.9v1.4h-2.9zM456.8 977.3h2.9v1.4h-2.9zM432.1 978.8h4.3v1.4h-4.3zM458.2 978.8h1.4v1.4h-1.4zM433.6 980.2h2.9v1.4h-2.9zM456.8 980.2h1.4v1.4h-1.4zM433.6 981.6h2.9v1.4h-2.9zM469.8 981.6h1.4v1.4h-1.4zM436.4 983.1h1.4v1.4h-1.4zM455.3 983.1h1.4v1.4h-1.4zM458.2 983.1h1.4v1.4h-1.4zM430.6 984.5h1.4v1.4h-1.4zM436.4 984.5h1.4v1.4h-1.4zM453.8 984.5h2.9v1.4h-2.9zM432.1 986h2.9v1.4h-2.9zM436.4 986h4.3v1.4h-4.3zM455.3 986h2.9v1.4h-2.9zM437.9 987.4h4.3v1.4h-4.3zM449.5 987.4h5.8v1.4h-5.8zM439.3 988.9h13v1.4h-13zM455.3 988.9h1.4v1.4h-1.4zM440.8 990.4h5.8v1.4h-5.8zM452.4 990.4h1.4v1.4h-1.4zM437.9 991.8h1.4v1.4h-1.4z" fill="#2a2aa8"/>
<path d="M437.9 965.7h4.3v1.4h-4.3zM445.1 965.7h1.4v1.4h-1.4zM437.9 967.1h1.4v1.4h-1.4zM446.6 967.1h2.9v1.4h-2.9zM436.4 968.6h1.4v1.4h-1.4zM436.4 970h1.4v1.4h-1.4zM449.5 970h1.4v1.4h-1.4zM450.9 971.5h1.4v1.4h-1.4zM436.4 972.9h1.4v1.4h-1.4zM452.4 972.9h1.4v1.4h-1.4zM436.4 974.4h1.4v1.4h-1.4zM453.8 974.4h1.4v1.4h-1.4zM436.4 975.9h1.4v1.4h-1.4zM453.8 975.9h1.4v1.4h-1.4zM436.4 977.3h1.4v1.4h-1.4zM455.3 977.3h1.4v1.4h-1.4zM455.3 978.8h1.4v1.4h-1.4zM436.4 980.2h1.4v1.4h-1.4zM455.3 980.2h1.4v1.4h-1.4zM436.4 981.6h1.4v1.4h-1.4zM453.8 981.6h2.9v1.4h-2.9zM437.9 983.1h1.4v1.4h-1.4zM453.8 983.1h1.4v1.4h-1.4zM437.9 984.5h1.4v1.4h-1.4zM452.4 984.5h1.4v1.4h-1.4zM440.8 986h1.4v1.4h-1.4zM449.5 986h4.3v1.4h-4.3zM442.2 987.4h7.2v1.4h-7.2z" fill="#3350c0"/>
<path d="M442.2 965.7h2.9v1.4h-2.9zM439.3 967.1h1.4v1.4h-1.4zM437.9 968.6h1.4v1.4h-1.4zM446.6 968.6h2.9v1.4h-2.9zM437.9 970h1.4v1.4h-1.4zM448.1 970h1.4v1.4h-1.4zM436.4 971.5h1.4v1.4h-1.4zM449.5 971.5h1.4v1.4h-1.4zM450.9 972.9h1.4v1.4h-1.4zM452.4 974.4h1.4v1.4h-1.4zM437.9 975.9h1.4v1.4h-1.4zM453.8 977.3h1.4v1.4h-1.4zM436.4 978.8h1.4v1.4h-1.4zM437.9 980.2h1.4v1.4h-1.4zM439.3 984.5h1.4v1.4h-1.4zM450.9 984.5h1.4v1.4h-1.4z" fill="#3aa0d8"/>
<path d="M440.8 967.1h5.8v1.4h-5.8zM439.3 968.6h7.2v1.4h-7.2zM439.3 970h1.4v1.4h-1.4zM443.7 970h1.4v1.4h-1.4zM446.6 970h1.4v1.4h-1.4zM437.9 971.5h1.4v1.4h-1.4zM440.8 971.5h1.4v1.4h-1.4zM446.6 971.5h2.9v1.4h-2.9zM437.9 972.9h2.9v1.4h-2.9zM448.1 972.9h2.9v1.4h-2.9zM437.9 974.4h2.9v1.4h-2.9zM449.5 974.4h2.9v1.4h-2.9zM439.3 975.9h1.4v1.4h-1.4zM450.9 975.9h2.9v1.4h-2.9zM437.9 977.3h2.9v1.4h-2.9zM452.4 977.3h1.4v1.4h-1.4zM437.9 978.8h1.4v1.4h-1.4zM452.4 978.8h2.9v1.4h-2.9zM452.4 980.2h2.9v1.4h-2.9zM437.9 981.6h2.9v1.4h-2.9zM452.4 981.6h1.4v1.4h-1.4zM439.3 983.1h2.9v1.4h-2.9zM450.9 983.1h2.9v1.4h-2.9zM440.8 984.5h4.3v1.4h-4.3zM449.5 984.5h1.4v1.4h-1.4zM442.2 986h7.2v1.4h-7.2z" fill="#58b85a"/>
<path d="M440.8 970h2.9v1.4h-2.9zM445.1 970h1.4v1.4h-1.4zM439.3 971.5h1.4v1.4h-1.4zM442.2 971.5h1.4v1.4h-1.4zM445.1 971.5h1.4v1.4h-1.4zM440.8 972.9h1.4v1.4h-1.4zM449.5 975.9h1.4v1.4h-1.4zM440.8 977.3h1.4v1.4h-1.4zM450.9 977.3h1.4v1.4h-1.4zM439.3 978.8h1.4v1.4h-1.4zM439.3 980.2h1.4v1.4h-1.4zM450.9 980.2h1.4v1.4h-1.4zM450.9 981.6h1.4v1.4h-1.4zM442.2 983.1h1.4v1.4h-1.4zM449.5 983.1h1.4v1.4h-1.4zM445.1 984.5h4.3v1.4h-4.3z" fill="#a8d040"/>
<path d="M443.7 971.5h1.4v1.4h-1.4zM442.2 972.9h2.9v1.4h-2.9zM446.6 972.9h1.4v1.4h-1.4zM440.8 974.4h4.3v1.4h-4.3zM448.1 974.4h1.4v1.4h-1.4zM440.8 975.9h1.4v1.4h-1.4zM442.2 977.3h1.4v1.4h-1.4zM449.5 977.3h1.4v1.4h-1.4zM449.5 978.8h2.9v1.4h-2.9zM440.8 981.6h2.9v1.4h-2.9zM443.7 983.1h1.4v1.4h-1.4zM448.1 983.1h1.4v1.4h-1.4z" fill="#ece42c"/>
<path d="M445.1 972.9h1.4v1.4h-1.4zM445.1 974.4h2.9v1.4h-2.9zM442.2 975.9h1.4v1.4h-1.4zM446.6 975.9h1.4v1.4h-1.4zM440.8 978.8h2.9v1.4h-2.9zM448.1 978.8h1.4v1.4h-1.4zM440.8 980.2h2.9v1.4h-2.9zM449.5 980.2h1.4v1.4h-1.4zM445.1 981.6h2.9v1.4h-2.9zM449.5 981.6h1.4v1.4h-1.4zM445.1 983.1h2.9v1.4h-2.9z" fill="#f4a020"/>
<path d="M443.7 975.9h2.9v1.4h-2.9zM448.1 975.9h1.4v1.4h-1.4zM443.7 977.3h5.8v1.4h-5.8zM443.7 978.8h4.3v1.4h-4.3zM443.7 980.2h5.8v1.4h-5.8zM443.7 981.6h1.4v1.4h-1.4zM448.1 981.6h1.4v1.4h-1.4z" fill="#e82818"/>
<rect x="408.70" y="927.00" width="39.90" height="32.40" fill="none" stroke="#333" stroke-width="0.8"/>
<rect x="392.40" y="919.00" width="88.30" height="78.80" fill="none" stroke="#8a8a8a" stroke-width="0.9"/>
<path d="M391.3 987.6L392.4 987.6M403.83 997.8L403.83 998.9M391.3 983.94L392.4 983.94M407.93 997.8L407.93 998.9M391.3 981.34L392.4 981.34M410.84 997.8L410.84 998.9M391.3 979.33L392.4 979.33M413.1 997.8L413.1 998.9M391.3 977.68L392.4 977.68M414.95 997.8L414.95 998.9M391.3 976.29L392.4 976.29M416.51 997.8L416.51 998.9M391.3 975.08L392.4 975.08M417.86 997.8L417.86 998.9M391.3 974.02L392.4 974.02M419.05 997.8L419.05 998.9M390.2 973.07L392.4 973.07M420.12 997.8L420.12 1000M391.3 966.81L392.4 966.81M427.13 997.8L427.13 998.9M391.3 963.14L392.4 963.14M431.23 997.8L431.23 998.9M391.3 960.55L392.4 960.55M434.15 997.8L434.15 998.9M391.3 958.53L392.4 958.53M436.4 997.8L436.4 998.9M391.3 956.88L392.4 956.88M438.25 997.8L438.25 998.9M391.3 955.49L392.4 955.49M439.81 997.8L439.81 998.9M391.3 954.29L392.4 954.29M441.16 997.8L441.16 998.9M391.3 953.22L392.4 953.22M442.35 997.8L442.35 998.9M390.2 952.27L392.4 952.27M443.42 997.8L443.42 1000M391.3 946.01L392.4 946.01M450.43 997.8L450.43 998.9M391.3 942.35L392.4 942.35M454.54 997.8L454.54 998.9M391.3 939.75L392.4 939.75M457.45 997.8L457.45 998.9M391.3 937.74L392.4 937.74M459.7 997.8L459.7 998.9M391.3 936.09L392.4 936.09M461.55 997.8L461.55 998.9M391.3 934.7L392.4 934.7M463.11 997.8L463.11 998.9M391.3 933.49L392.4 933.49M464.46 997.8L464.46 998.9M391.3 932.43L392.4 932.43M465.65 997.8L465.65 998.9M390.2 931.48L392.4 931.48M466.72 997.8L466.72 1000M391.3 925.22L392.4 925.22M473.73 997.8L473.73 998.9M391.3 921.56L392.4 921.56M477.84 997.8L477.84 998.9" stroke="#555" stroke-width="0.5" fill="none"/>
<text x="451.90" y="938.00" font-size="13.7">2%</text>
<path d="M536.5 935.2h2.9v1.4h-2.9zM529.2 936.7h1.4v1.4h-1.4zM533.6 936.7h2.9v1.4h-2.9zM546.6 936.7h1.4v1.4h-1.4zM530.7 938.1h2.9v1.4h-2.9zM535 938.1h1.4v1.4h-1.4zM529.2 939.6h4.3v1.4h-4.3zM545.2 939.6h1.4v1.4h-1.4zM526.4 942.5h1.4v1.4h-1.4zM543.8 942.5h1.4v1.4h-1.4zM524.9 943.9h2.9v1.4h-2.9zM522 945.4h1.4v1.4h-1.4zM522 946.9h1.4v1.4h-1.4zM535 946.9h1.4v1.4h-1.4zM532.1 948.3h1.4v1.4h-1.4zM535 948.3h1.4v1.4h-1.4zM517.6 951.2h1.4v1.4h-1.4zM523.4 952.6h1.4v1.4h-1.4z" fill="#2a2aa8"/>
<path d="M536.5 938.1h5.8v1.4h-5.8zM535 939.6h1.4v1.4h-1.4zM530.7 941h1.4v1.4h-1.4zM529.2 942.5h1.4v1.4h-1.4zM540.9 942.5h1.4v1.4h-1.4zM527.8 943.9h1.4v1.4h-1.4zM527.8 945.4h1.4v1.4h-1.4zM537.9 945.4h1.4v1.4h-1.4zM530.7 946.9h2.9v1.4h-2.9z" fill="#3350c0"/>
<path d="M533.6 939.6h1.4v1.4h-1.4zM536.5 939.6h2.9v1.4h-2.9zM533.6 941h5.8v1.4h-5.8zM532.1 942.5h5.8v1.4h-5.8zM539.4 942.5h1.4v1.4h-1.4zM529.2 943.9h1.4v1.4h-1.4zM532.1 943.9h4.3v1.4h-4.3zM537.9 943.9h1.4v1.4h-1.4zM529.2 945.4h2.9v1.4h-2.9zM535 945.4h1.4v1.4h-1.4z" fill="#3aa0d8"/>
<path d="M546.6 959.9h4.3v1.4h-4.3zM545.2 962.8h2.9v1.4h-2.9zM540.9 964.2h2.9v1.4h-2.9zM545.2 964.2h4.3v1.4h-4.3zM537.9 965.7h5.8v1.4h-5.8zM548.1 965.7h2.9v1.4h-2.9zM533.6 967.1h1.4v1.4h-1.4zM539.4 967.1h1.4v1.4h-1.4zM551 967.1h2.9v1.4h-2.9zM552.4 968.6h2.9v1.4h-2.9zM535 970h2.9v1.4h-2.9zM553.9 970h2.9v1.4h-2.9zM566.9 970h1.4v1.4h-1.4zM536.5 971.5h2.9v1.4h-2.9zM555.4 971.5h2.9v1.4h-2.9zM536.5 972.9h2.9v1.4h-2.9zM556.8 972.9h2.9v1.4h-2.9zM536.5 974.4h1.4v1.4h-1.4zM558.2 974.4h2.9v1.4h-2.9zM566.9 974.4h1.4v1.4h-1.4zM537.9 975.9h1.4v1.4h-1.4zM559.7 975.9h1.4v1.4h-1.4zM559.7 977.3h1.4v1.4h-1.4zM536.5 978.8h2.9v1.4h-2.9zM559.7 978.8h4.3v1.4h-4.3zM537.9 980.2h1.4v1.4h-1.4zM559.7 980.2h2.9v1.4h-2.9zM530.7 981.6h1.4v1.4h-1.4zM559.7 981.6h1.4v1.4h-1.4zM524.9 983.1h1.4v1.4h-1.4zM533.6 983.1h1.4v1.4h-1.4zM537.9 983.1h2.9v1.4h-2.9zM559.7 983.1h2.9v1.4h-2.9zM535 984.5h2.9v1.4h-2.9zM539.4 984.5h1.4v1.4h-1.4zM558.2 984.5h1.4v1.4h-1.4zM537.9 986h4.3v1.4h-4.3zM556.8 986h4.3v1.4h-4.3zM532.1 987.4h1.4v1.4h-1.4zM540.9 987.4h2.9v1.4h-2.9zM555.4 987.4h1.4v1.4h-1.4zM558.2 987.4h1.4v1.4h-1.4zM540.9 988.9h5.8v1.4h-5.8zM552.4 988.9h5.8v1.4h-5.8zM542.3 990.4h1.4v1.4h-1.4zM545.2 990.4h7.2v1.4h-7.2zM553.9 990.4h1.4v1.4h-1.4zM558.2 990.4h1.4v1.4h-1.4zM527.8 991.8h1.4v1.4h-1.4zM537.9 991.8h1.4v1.4h-1.4zM548.1 991.8h1.4v1.4h-1.4zM558.2 991.8h1.4v1.4h-1.4z" fill="#2a2aa8"/>
<path d="M543.8 965.7h4.3v1.4h-4.3zM540.9 967.1h2.9v1.4h-2.9zM548.1 967.1h2.9v1.4h-2.9zM539.4 968.6h1.4v1.4h-1.4zM551 968.6h1.4v1.4h-1.4zM539.4 970h1.4v1.4h-1.4zM552.4 970h1.4v1.4h-1.4zM539.4 971.5h1.4v1.4h-1.4zM552.4 971.5h2.9v1.4h-2.9zM539.4 972.9h1.4v1.4h-1.4zM555.4 972.9h1.4v1.4h-1.4zM539.4 974.4h1.4v1.4h-1.4zM556.8 974.4h1.4v1.4h-1.4zM539.4 975.9h1.4v1.4h-1.4zM556.8 975.9h2.9v1.4h-2.9zM539.4 977.3h1.4v1.4h-1.4zM558.2 977.3h1.4v1.4h-1.4zM539.4 978.8h1.4v1.4h-1.4zM558.2 978.8h1.4v1.4h-1.4zM539.4 980.2h1.4v1.4h-1.4zM539.4 981.6h1.4v1.4h-1.4zM558.2 981.6h1.4v1.4h-1.4zM558.2 983.1h1.4v1.4h-1.4zM540.9 984.5h1.4v1.4h-1.4zM556.8 984.5h1.4v1.4h-1.4zM542.3 986h1.4v1.4h-1.4zM543.8 987.4h1.4v1.4h-1.4zM552.4 987.4h2.9v1.4h-2.9zM546.6 988.9h5.8v1.4h-5.8z" fill="#3350c0"/>
<path d="M543.8 967.1h2.9v1.4h-2.9zM540.9 968.6h2.9v1.4h-2.9zM549.5 968.6h1.4v1.4h-1.4zM540.9 970h1.4v1.4h-1.4zM549.5 970h2.9v1.4h-2.9zM553.9 972.9h1.4v1.4h-1.4zM540.9 974.4h1.4v1.4h-1.4zM555.4 974.4h1.4v1.4h-1.4zM540.9 975.9h1.4v1.4h-1.4zM540.9 977.3h1.4v1.4h-1.4zM540.9 978.8h1.4v1.4h-1.4zM556.8 980.2h2.9v1.4h-2.9zM540.9 981.6h1.4v1.4h-1.4zM540.9 983.1h1.4v1.4h-1.4zM542.3 984.5h1.4v1.4h-1.4zM553.9 986h2.9v1.4h-2.9zM545.2 987.4h7.2v1.4h-7.2z" fill="#3aa0d8"/>
<path d="M546.6 967.1h1.4v1.4h-1.4zM543.8 968.6h5.8v1.4h-5.8zM542.3 970h4.3v1.4h-4.3zM540.9 971.5h4.3v1.4h-4.3zM549.5 971.5h2.9v1.4h-2.9zM540.9 972.9h1.4v1.4h-1.4zM551 972.9h2.9v1.4h-2.9zM542.3 974.4h1.4v1.4h-1.4zM553.9 974.4h1.4v1.4h-1.4zM555.4 975.9h1.4v1.4h-1.4zM542.3 977.3h1.4v1.4h-1.4zM555.4 977.3h2.9v1.4h-2.9zM542.3 978.8h1.4v1.4h-1.4zM556.8 978.8h1.4v1.4h-1.4zM540.9 980.2h2.9v1.4h-2.9zM542.3 981.6h1.4v1.4h-1.4zM555.4 981.6h2.9v1.4h-2.9zM542.3 983.1h1.4v1.4h-1.4zM555.4 983.1h2.9v1.4h-2.9zM543.8 984.5h1.4v1.4h-1.4zM553.9 984.5h2.9v1.4h-2.9zM543.8 986h4.3v1.4h-4.3zM551 986h2.9v1.4h-2.9z" fill="#58b85a"/>
<path d="M546.6 970h2.9v1.4h-2.9zM548.1 971.5h1.4v1.4h-1.4zM542.3 972.9h2.9v1.4h-2.9zM549.5 972.9h1.4v1.4h-1.4zM543.8 974.4h1.4v1.4h-1.4zM549.5 974.4h4.3v1.4h-4.3zM542.3 975.9h2.9v1.4h-2.9zM552.4 975.9h2.9v1.4h-2.9zM543.8 977.3h1.4v1.4h-1.4zM553.9 977.3h1.4v1.4h-1.4zM555.4 978.8h1.4v1.4h-1.4zM555.4 980.2h1.4v1.4h-1.4zM543.8 983.1h2.9v1.4h-2.9zM553.9 983.1h1.4v1.4h-1.4zM545.2 984.5h2.9v1.4h-2.9zM549.5 984.5h4.3v1.4h-4.3zM548.1 986h2.9v1.4h-2.9z" fill="#a8d040"/>
<path d="M545.2 971.5h2.9v1.4h-2.9zM545.2 972.9h4.3v1.4h-4.3zM545.2 974.4h1.4v1.4h-1.4zM549.5 975.9h1.4v1.4h-1.4zM545.2 977.3h1.4v1.4h-1.4zM551 977.3h1.4v1.4h-1.4zM543.8 978.8h1.4v1.4h-1.4zM552.4 978.8h1.4v1.4h-1.4zM543.8 980.2h1.4v1.4h-1.4zM543.8 981.6h2.9v1.4h-2.9zM553.9 981.6h1.4v1.4h-1.4zM552.4 983.1h1.4v1.4h-1.4zM548.1 984.5h1.4v1.4h-1.4z" fill="#ece42c"/>
<path d="M546.6 974.4h2.9v1.4h-2.9zM545.2 975.9h1.4v1.4h-1.4zM551 975.9h1.4v1.4h-1.4zM552.4 977.3h1.4v1.4h-1.4zM545.2 978.8h1.4v1.4h-1.4zM553.9 978.8h1.4v1.4h-1.4zM552.4 980.2h2.9v1.4h-2.9zM551 981.6h2.9v1.4h-2.9zM546.6 983.1h1.4v1.4h-1.4zM551 983.1h1.4v1.4h-1.4z" fill="#f4a020"/>
<path d="M546.6 975.9h2.9v1.4h-2.9zM546.6 977.3h4.3v1.4h-4.3zM546.6 978.8h5.8v1.4h-5.8zM545.2 980.2h7.2v1.4h-7.2zM546.6 981.6h4.3v1.4h-4.3zM548.1 983.1h2.9v1.4h-2.9z" fill="#e82818"/>
<rect x="512.20" y="927.60" width="39.10" height="31.80" fill="none" stroke="#333" stroke-width="0.8"/>
<rect x="496.10" y="920.50" width="87.30" height="76.50" fill="none" stroke="#8a8a8a" stroke-width="0.9"/>
<path d="M495 987.1L496.1 987.1M507.4 997L507.4 998.1M495 983.54L496.1 983.54M511.46 997L511.46 998.1M495 981.02L496.1 981.02M514.33 997L514.33 998.1M495 979.06L496.1 979.06M516.57 997L516.57 998.1M495 977.47L496.1 977.47M518.39 997L518.39 998.1M495 976.11L496.1 976.11M519.93 997L519.93 998.1M495 974.94L496.1 974.94M521.27 997L521.27 998.1M495 973.91L496.1 973.91M522.45 997L522.45 998.1M493.9 972.99L496.1 972.99M523.5 997L523.5 999.2M495 966.91L496.1 966.91M530.44 997L530.44 998.1M495 963.36L496.1 963.36M534.49 997L534.49 998.1M495 960.83L496.1 960.83M537.37 997L537.37 998.1M495 958.88L496.1 958.88M539.61 997L539.61 998.1M495 957.28L496.1 957.28M541.43 997L541.43 998.1M495 955.93L496.1 955.93M542.97 997L542.97 998.1M495 954.76L496.1 954.76M544.31 997L544.31 998.1M495 953.72L496.1 953.72M545.49 997L545.49 998.1M493.9 952.8L496.1 952.8M546.54 997L546.54 999.2M495 946.72L496.1 946.72M553.47 997L553.47 998.1M495 943.17L496.1 943.17M557.53 997L557.53 998.1M495 940.65L496.1 940.65M560.41 997L560.41 998.1M495 938.69L496.1 938.69M562.64 997L562.64 998.1M495 937.09L496.1 937.09M564.47 997L564.47 998.1M495 935.74L496.1 935.74M566.01 997L566.01 998.1M495 934.57L496.1 934.57M567.34 997L567.34 998.1M495 933.54L496.1 933.54M568.52 997L568.52 998.1M493.9 932.61L496.1 932.61M569.58 997L569.58 999.2M495 926.54L496.1 926.54M576.51 997L576.51 998.1M495 922.98L496.1 922.98M580.57 997L580.57 998.1" stroke="#555" stroke-width="0.5" fill="none"/>
<text x="560.80" y="940.20" font-size="13.7">5%</text>
<path d="M622.7 813.5L622.7 901" stroke="#333" stroke-width="0.9" fill="none"/>
<path d="M622.7 901L685 901" stroke="#999" stroke-width="1.6" fill="none"/>
<path d="M620.3 814L622.7 814" stroke="#333" stroke-width="0.8" fill="none"/>
<text x="619.50" y="818.00" font-size="12.4" text-anchor="end">50</text>
<path d="M620.3 855.8L622.7 855.8" stroke="#333" stroke-width="0.8" fill="none"/>
<text x="619.50" y="859.80" font-size="12.4" text-anchor="end">25</text>
<path d="M620.3 897.6L622.7 897.6" stroke="#333" stroke-width="0.8" fill="none"/>
<text x="619.50" y="901.60" font-size="12.4" text-anchor="end">0</text>
<path d="M636.4 901L636.4 903.5M671 901L671 903.5" stroke="#333" stroke-width="0.8" fill="none"/>
<path d="M624.7 897.6L685 897.6" stroke="#aaa" stroke-width="0.7" fill="none" stroke-dasharray="2 1.5"/>
<path d="M636.4 874.3L636.4 896M631.9 886.5L640.9 886.5M632.9 874.3L639.9 874.3M632.9 896L639.9 896M671 846.6L671 893.2M666.5 869.9L675.5 869.9M667.5 846.6L674.5 846.6M667.5 893.2L674.5 893.2" stroke="#444" stroke-width="0.9" fill="none"/>
<path d="M636.40 857.75L639.90 863.84L632.90 863.84Z" fill="#2c3cb0" stroke="#111" stroke-width="0.5"/>
<path d="M634.40 871.75L637.90 877.84L630.90 877.84Z" fill="#2c3cb0" stroke="#111" stroke-width="0.5"/>
<path d="M639.30 873.35L642.80 879.44L635.80 879.44Z" fill="#2c3cb0" stroke="#111" stroke-width="0.5"/>
<path d="M632.70 882.85L636.20 888.94L629.20 888.94Z" fill="#2c3cb0" stroke="#111" stroke-width="0.5"/>
<path d="M638.20 882.85L641.70 888.94L634.70 888.94Z" fill="#2c3cb0" stroke="#111" stroke-width="0.5"/>
<path d="M628.20 891.05L631.70 897.14L624.70 897.14Z" fill="#2c3cb0" stroke="#111" stroke-width="0.5"/>
<path d="M632.70 891.05L636.20 897.14L629.20 897.14Z" fill="#2c3cb0" stroke="#111" stroke-width="0.5"/>
<path d="M637.10 891.05L640.60 897.14L633.60 897.14Z" fill="#2c3cb0" stroke="#111" stroke-width="0.5"/>
<path d="M641.50 891.05L645.00 897.14L638.00 897.14Z" fill="#2c3cb0" stroke="#111" stroke-width="0.5"/>
<path d="M644.90 885.75L648.40 891.84L641.40 891.84Z" fill="#2c3cb0" stroke="#111" stroke-width="0.5"/>
<path d="M645.30 892.85L648.80 898.94L641.80 898.94Z" fill="#2c3cb0" stroke="#111" stroke-width="0.5"/>
<path d="M671.00 824.05L674.50 830.14L667.50 830.14Z" fill="#e8642a" stroke="#311" stroke-width="0.5"/>
<path d="M671.00 840.25L674.50 846.34L667.50 846.34Z" fill="#e8642a" stroke="#311" stroke-width="0.5"/>
<path d="M671.00 861.75L674.50 867.84L667.50 867.84Z" fill="#e8642a" stroke="#311" stroke-width="0.5"/>
<path d="M662.60 878.45L666.10 884.54L659.10 884.54Z" fill="#e8642a" stroke="#311" stroke-width="0.5"/>
<path d="M671.00 882.85L674.50 888.94L667.50 888.94Z" fill="#e8642a" stroke="#311" stroke-width="0.5"/>
<path d="M679.20 875.05L682.70 881.14L675.70 881.14Z" fill="#e8642a" stroke="#311" stroke-width="0.5"/>
<path d="M679.20 881.25L682.70 887.34L675.70 887.34Z" fill="#e8642a" stroke="#311" stroke-width="0.5"/>
<path d="M671.00 891.05L674.50 897.14L667.50 897.14Z" fill="#e8642a" stroke="#311" stroke-width="0.5"/>
<text x="598.80" y="853.20" font-size="11.4" text-anchor="middle" transform="rotate(-90 598.80 853.20)">No. of cells (10<tspan font-size="7.7" dy="-4.6">3</tspan><tspan dy="4.6">)</tspan></text>
<path d="M622.7 925L622.7 1011.4" stroke="#333" stroke-width="0.9" fill="none"/>
<path d="M622.7 1011.4L685 1011.4" stroke="#999" stroke-width="1.6" fill="none"/>
<path d="M620.3 925.3L622.7 925.3" stroke="#333" stroke-width="0.8" fill="none"/>
<text x="619.50" y="929.30" font-size="12.4" text-anchor="end">1.5</text>
<path d="M620.3 952.4L622.7 952.4" stroke="#333" stroke-width="0.8" fill="none"/>
<text x="619.50" y="956.40" font-size="12.4" text-anchor="end">1</text>
<path d="M620.3 979.7L622.7 979.7" stroke="#333" stroke-width="0.8" fill="none"/>
<text x="619.50" y="983.70" font-size="12.4" text-anchor="end">0.5</text>
<path d="M620.3 1006.3L622.7 1006.3" stroke="#333" stroke-width="0.8" fill="none"/>
<text x="619.50" y="1010.30" font-size="12.4" text-anchor="end">0</text>
<path d="M636.4 1011.4L636.4 1013.9M671 1011.4L671 1013.9" stroke="#333" stroke-width="0.8" fill="none"/>
<path d="M624.7 1006.3L685 1006.3" stroke="#aaa" stroke-width="0.7" fill="none" stroke-dasharray="2 1.5"/>
<path d="M636.4 1001L636.4 1006M631.9 1004L640.9 1004M632.9 1001L639.9 1001M632.9 1006L639.9 1006M671 961.9L671 1006M666.5 985.2L675.5 985.2M667.5 961.9L674.5 961.9M667.5 1006L674.5 1006" stroke="#444" stroke-width="0.9" fill="none"/>
<path d="M628.40 999.85L631.90 1005.94L624.90 1005.94Z" fill="#2c3cb0" stroke="#111" stroke-width="0.5"/>
<path d="M632.40 999.85L635.90 1005.94L628.90 1005.94Z" fill="#2c3cb0" stroke="#111" stroke-width="0.5"/>
<path d="M636.40 1000.35L639.90 1006.44L632.90 1006.44Z" fill="#2c3cb0" stroke="#111" stroke-width="0.5"/>
<path d="M640.40 999.85L643.90 1005.94L636.90 1005.94Z" fill="#2c3cb0" stroke="#111" stroke-width="0.5"/>
<path d="M644.40 1000.35L647.90 1006.44L640.90 1006.44Z" fill="#2c3cb0" stroke="#111" stroke-width="0.5"/>
<path d="M648.40 999.85L651.90 1005.94L644.90 1005.94Z" fill="#2c3cb0" stroke="#111" stroke-width="0.5"/>
<path d="M636.40 996.85L639.90 1002.94L632.90 1002.94Z" fill="#2c3cb0" stroke="#111" stroke-width="0.5"/>
<path d="M630.40 997.85L633.90 1003.94L626.90 1003.94Z" fill="#2c3cb0" stroke="#111" stroke-width="0.5"/>
<path d="M671.90 937.15L675.40 943.24L668.40 943.24Z" fill="#e8642a" stroke="#311" stroke-width="0.5"/>
<path d="M673.30 954.45L676.80 960.54L669.80 960.54Z" fill="#e8642a" stroke="#311" stroke-width="0.5"/>
<path d="M670.40 958.95L673.90 965.04L666.90 965.04Z" fill="#e8642a" stroke="#311" stroke-width="0.5"/>
<path d="M671.00 974.45L674.50 980.54L667.50 980.54Z" fill="#e8642a" stroke="#311" stroke-width="0.5"/>
<path d="M671.00 989.35L674.50 995.44L667.50 995.44Z" fill="#e8642a" stroke="#311" stroke-width="0.5"/>
<path d="M665.90 994.85L669.40 1000.94L662.40 1000.94Z" fill="#e8642a" stroke="#311" stroke-width="0.5"/>
<path d="M663.70 999.35L667.20 1005.44L660.20 1005.44Z" fill="#e8642a" stroke="#311" stroke-width="0.5"/>
<path d="M671.00 997.05L674.50 1003.14L667.50 1003.14Z" fill="#e8642a" stroke="#311" stroke-width="0.5"/>
<path d="M675.90 995.95L679.40 1002.04L672.40 1002.04Z" fill="#e8642a" stroke="#311" stroke-width="0.5"/>
<path d="M680.40 999.75L683.90 1005.84L676.90 1005.84Z" fill="#e8642a" stroke="#311" stroke-width="0.5"/>
<path d="M671.00 1001.35L674.50 1007.44L667.50 1007.44Z" fill="#e8642a" stroke="#311" stroke-width="0.5"/>
<text x="653.70" y="935.10" font-size="15" text-anchor="middle" font-weight="bold">****</text>
<path d="M636.4 933L671 933" stroke="#333" stroke-width="0.9" fill="none"/>
<text x="598.80" y="964.70" font-size="11.4" text-anchor="middle" transform="rotate(-90 598.80 964.70)">No. of cells (10<tspan font-size="7.7" dy="-4.6">3</tspan><tspan dy="4.6">)</tspan></text>
</svg></body></html>
